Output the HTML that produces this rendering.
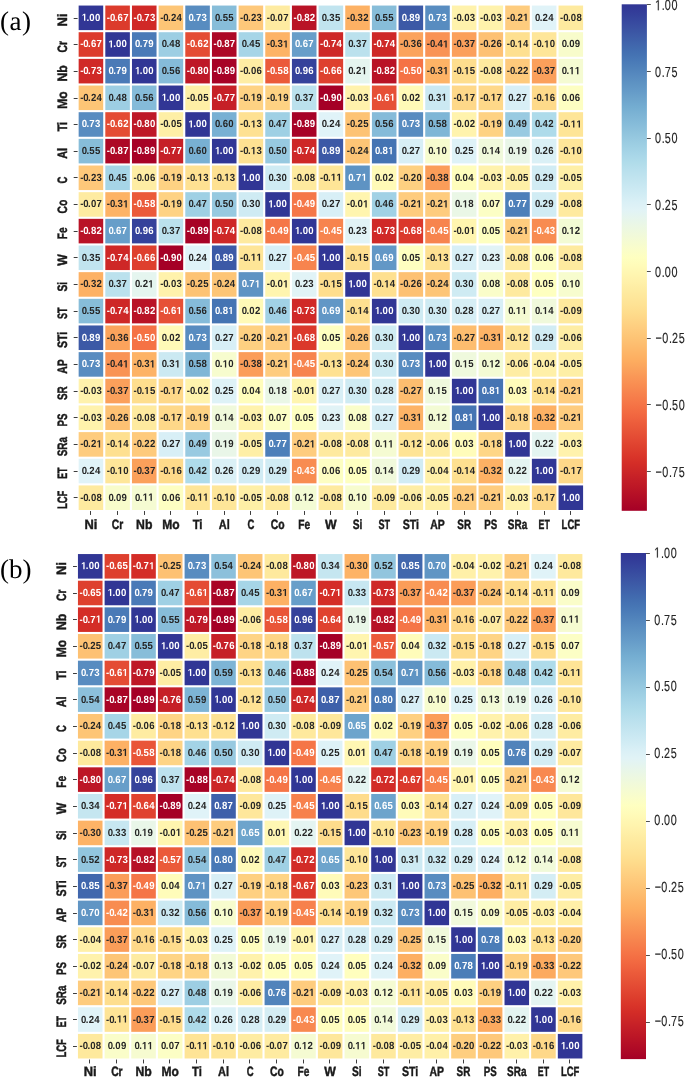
<!DOCTYPE html>
<html><head><meta charset="utf-8"><title>Correlation heatmaps</title>
<style>html,body{margin:0;padding:0;background:#fff;}body{width:685px;height:1077px;overflow:hidden;}svg{display:block;will-change:transform;}</style>
</head><body>
<svg width="685" height="1077" viewBox="0 0 685 1077" text-rendering="geometricPrecision">
<rect width="685" height="1077" fill="#fff"/>
<g><rect x="78.65" y="5.55" width="24.56" height="24.56" fill="#313695"/><rect x="105.31" y="5.55" width="24.56" height="24.56" fill="#dc3b2c"/><rect x="131.97" y="5.55" width="24.56" height="24.56" fill="#d02927"/><rect x="158.63" y="5.55" width="24.56" height="24.56" fill="#fdc576"/><rect x="185.29" y="5.55" width="24.56" height="24.56" fill="#588cc0"/><rect x="211.95" y="5.55" width="24.56" height="24.56" fill="#87bdd9"/><rect x="238.61" y="5.55" width="24.56" height="24.56" fill="#fec87a"/><rect x="265.27" y="5.55" width="24.56" height="24.56" fill="#feeba1"/><rect x="291.93" y="5.55" width="24.56" height="24.56" fill="#b91326"/><rect x="318.59" y="5.55" width="24.56" height="24.56" fill="#c1e4ef"/><rect x="345.25" y="5.55" width="24.56" height="24.56" fill="#fdb164"/><rect x="371.91" y="5.55" width="24.56" height="24.56" fill="#87bdd9"/><rect x="398.57" y="5.55" width="24.56" height="24.56" fill="#3c59a6"/><rect x="425.23" y="5.55" width="24.56" height="24.56" fill="#588cc0"/><rect x="451.89" y="5.55" width="24.56" height="24.56" fill="#fff2ac"/><rect x="478.55" y="5.55" width="24.56" height="24.56" fill="#fff2ac"/><rect x="505.21" y="5.55" width="24.56" height="24.56" fill="#fecc7e"/><rect x="531.87" y="5.55" width="24.56" height="24.56" fill="#e0f3f8"/><rect x="558.53" y="5.55" width="24.56" height="24.56" fill="#feea9f"/><rect x="78.65" y="32.21" width="24.56" height="24.56" fill="#dc3b2c"/><rect x="105.31" y="32.21" width="24.56" height="24.56" fill="#313695"/><rect x="131.97" y="32.21" width="24.56" height="24.56" fill="#4a7ab7"/><rect x="158.63" y="32.21" width="24.56" height="24.56" fill="#9dcee3"/><rect x="185.29" y="32.21" width="24.56" height="24.56" fill="#e44c34"/><rect x="211.95" y="32.21" width="24.56" height="24.56" fill="#ad0826"/><rect x="238.61" y="32.21" width="24.56" height="24.56" fill="#a6d5e7"/><rect x="265.27" y="32.21" width="24.56" height="24.56" fill="#fdb366"/><rect x="291.93" y="32.21" width="24.56" height="24.56" fill="#679ec9"/><rect x="318.59" y="32.21" width="24.56" height="24.56" fill="#ce2827"/><rect x="345.25" y="32.21" width="24.56" height="24.56" fill="#bbe1ed"/><rect x="371.91" y="32.21" width="24.56" height="24.56" fill="#ce2827"/><rect x="398.57" y="32.21" width="24.56" height="24.56" fill="#fba35c"/><rect x="425.23" y="32.21" width="24.56" height="24.56" fill="#f99355"/><rect x="451.89" y="32.21" width="24.56" height="24.56" fill="#fba05b"/><rect x="478.55" y="32.21" width="24.56" height="24.56" fill="#fdc173"/><rect x="505.21" y="32.21" width="24.56" height="24.56" fill="#fee090"/><rect x="531.87" y="32.21" width="24.56" height="24.56" fill="#fee699"/><rect x="558.53" y="32.21" width="24.56" height="24.56" fill="#f8fccb"/><rect x="78.65" y="58.87" width="24.56" height="24.56" fill="#d02927"/><rect x="105.31" y="58.87" width="24.56" height="24.56" fill="#4a7ab7"/><rect x="131.97" y="58.87" width="24.56" height="24.56" fill="#313695"/><rect x="158.63" y="58.87" width="24.56" height="24.56" fill="#85bbd9"/><rect x="185.29" y="58.87" width="24.56" height="24.56" fill="#be1827"/><rect x="211.95" y="58.87" width="24.56" height="24.56" fill="#a70226"/><rect x="238.61" y="58.87" width="24.56" height="24.56" fill="#feeda4"/><rect x="265.27" y="58.87" width="24.56" height="24.56" fill="#eb5a3a"/><rect x="291.93" y="58.87" width="24.56" height="24.56" fill="#35429b"/><rect x="318.59" y="58.87" width="24.56" height="24.56" fill="#de402e"/><rect x="345.25" y="58.87" width="24.56" height="24.56" fill="#e5f5ef"/><rect x="371.91" y="58.87" width="24.56" height="24.56" fill="#b91326"/><rect x="398.57" y="58.87" width="24.56" height="24.56" fill="#f57245"/><rect x="425.23" y="58.87" width="24.56" height="24.56" fill="#fdb366"/><rect x="451.89" y="58.87" width="24.56" height="24.56" fill="#fede8e"/><rect x="478.55" y="58.87" width="24.56" height="24.56" fill="#feea9f"/><rect x="505.21" y="58.87" width="24.56" height="24.56" fill="#feca7c"/><rect x="531.87" y="58.87" width="24.56" height="24.56" fill="#fba05b"/><rect x="558.53" y="58.87" width="24.56" height="24.56" fill="#f5fbd2"/><rect x="78.65" y="85.53" width="24.56" height="24.56" fill="#fdc576"/><rect x="105.31" y="85.53" width="24.56" height="24.56" fill="#9dcee3"/><rect x="131.97" y="85.53" width="24.56" height="24.56" fill="#85bbd9"/><rect x="158.63" y="85.53" width="24.56" height="24.56" fill="#313695"/><rect x="185.29" y="85.53" width="24.56" height="24.56" fill="#feefa6"/><rect x="211.95" y="85.53" width="24.56" height="24.56" fill="#c62027"/><rect x="238.61" y="85.53" width="24.56" height="24.56" fill="#fed283"/><rect x="265.27" y="85.53" width="24.56" height="24.56" fill="#fed283"/><rect x="291.93" y="85.53" width="24.56" height="24.56" fill="#bbe1ed"/><rect x="318.59" y="85.53" width="24.56" height="24.56" fill="#a50026"/><rect x="345.25" y="85.53" width="24.56" height="24.56" fill="#fff2ac"/><rect x="371.91" y="85.53" width="24.56" height="24.56" fill="#e65036"/><rect x="398.57" y="85.53" width="24.56" height="24.56" fill="#fffab7"/><rect x="425.23" y="85.53" width="24.56" height="24.56" fill="#cbe9f2"/><rect x="451.89" y="85.53" width="24.56" height="24.56" fill="#fed889"/><rect x="478.55" y="85.53" width="24.56" height="24.56" fill="#fed889"/><rect x="505.21" y="85.53" width="24.56" height="24.56" fill="#d8eff6"/><rect x="531.87" y="85.53" width="24.56" height="24.56" fill="#feda8a"/><rect x="558.53" y="85.53" width="24.56" height="24.56" fill="#fdfec2"/><rect x="78.65" y="112.19" width="24.56" height="24.56" fill="#588cc0"/><rect x="105.31" y="112.19" width="24.56" height="24.56" fill="#e44c34"/><rect x="131.97" y="112.19" width="24.56" height="24.56" fill="#be1827"/><rect x="158.63" y="112.19" width="24.56" height="24.56" fill="#feefa6"/><rect x="185.29" y="112.19" width="24.56" height="24.56" fill="#313695"/><rect x="211.95" y="112.19" width="24.56" height="24.56" fill="#78b0d3"/><rect x="238.61" y="112.19" width="24.56" height="24.56" fill="#fee192"/><rect x="265.27" y="112.19" width="24.56" height="24.56" fill="#9fd0e4"/><rect x="291.93" y="112.19" width="24.56" height="24.56" fill="#a70226"/><rect x="318.59" y="112.19" width="24.56" height="24.56" fill="#e0f3f8"/><rect x="345.25" y="112.19" width="24.56" height="24.56" fill="#fdc374"/><rect x="371.91" y="112.19" width="24.56" height="24.56" fill="#85bbd9"/><rect x="398.57" y="112.19" width="24.56" height="24.56" fill="#588cc0"/><rect x="425.23" y="112.19" width="24.56" height="24.56" fill="#7fb6d6"/><rect x="451.89" y="112.19" width="24.56" height="24.56" fill="#fff3ad"/><rect x="478.55" y="112.19" width="24.56" height="24.56" fill="#fed283"/><rect x="505.21" y="112.19" width="24.56" height="24.56" fill="#99cae1"/><rect x="531.87" y="112.19" width="24.56" height="24.56" fill="#aedbea"/><rect x="558.53" y="112.19" width="24.56" height="24.56" fill="#fee597"/><rect x="78.65" y="138.85" width="24.56" height="24.56" fill="#87bdd9"/><rect x="105.31" y="138.85" width="24.56" height="24.56" fill="#ad0826"/><rect x="131.97" y="138.85" width="24.56" height="24.56" fill="#a70226"/><rect x="158.63" y="138.85" width="24.56" height="24.56" fill="#c62027"/><rect x="185.29" y="138.85" width="24.56" height="24.56" fill="#78b0d3"/><rect x="211.95" y="138.85" width="24.56" height="24.56" fill="#313695"/><rect x="238.61" y="138.85" width="24.56" height="24.56" fill="#fee192"/><rect x="265.27" y="138.85" width="24.56" height="24.56" fill="#97c9e0"/><rect x="291.93" y="138.85" width="24.56" height="24.56" fill="#ce2827"/><rect x="318.59" y="138.85" width="24.56" height="24.56" fill="#3c59a6"/><rect x="345.25" y="138.85" width="24.56" height="24.56" fill="#fdc576"/><rect x="371.91" y="138.85" width="24.56" height="24.56" fill="#4574b3"/><rect x="398.57" y="138.85" width="24.56" height="24.56" fill="#d8eff6"/><rect x="425.23" y="138.85" width="24.56" height="24.56" fill="#f7fcce"/><rect x="451.89" y="138.85" width="24.56" height="24.56" fill="#def2f7"/><rect x="478.55" y="138.85" width="24.56" height="24.56" fill="#f0f9db"/><rect x="505.21" y="138.85" width="24.56" height="24.56" fill="#e9f6e8"/><rect x="531.87" y="138.85" width="24.56" height="24.56" fill="#daf0f6"/><rect x="558.53" y="138.85" width="24.56" height="24.56" fill="#fee699"/><rect x="78.65" y="165.51" width="24.56" height="24.56" fill="#fec87a"/><rect x="105.31" y="165.51" width="24.56" height="24.56" fill="#a6d5e7"/><rect x="131.97" y="165.51" width="24.56" height="24.56" fill="#feeda4"/><rect x="158.63" y="165.51" width="24.56" height="24.56" fill="#fed283"/><rect x="185.29" y="165.51" width="24.56" height="24.56" fill="#fee192"/><rect x="211.95" y="165.51" width="24.56" height="24.56" fill="#fee192"/><rect x="238.61" y="165.51" width="24.56" height="24.56" fill="#313695"/><rect x="265.27" y="165.51" width="24.56" height="24.56" fill="#cfebf3"/><rect x="291.93" y="165.51" width="24.56" height="24.56" fill="#feea9f"/><rect x="318.59" y="165.51" width="24.56" height="24.56" fill="#fee597"/><rect x="345.25" y="165.51" width="24.56" height="24.56" fill="#5e93c3"/><rect x="371.91" y="165.51" width="24.56" height="24.56" fill="#fffab7"/><rect x="398.57" y="165.51" width="24.56" height="24.56" fill="#fed081"/><rect x="425.23" y="165.51" width="24.56" height="24.56" fill="#fb9d59"/><rect x="451.89" y="165.51" width="24.56" height="24.56" fill="#fffdbc"/><rect x="478.55" y="165.51" width="24.56" height="24.56" fill="#fff2ac"/><rect x="505.21" y="165.51" width="24.56" height="24.56" fill="#feefa6"/><rect x="531.87" y="165.51" width="24.56" height="24.56" fill="#d1ecf4"/><rect x="558.53" y="165.51" width="24.56" height="24.56" fill="#feefa6"/><rect x="78.65" y="192.17" width="24.56" height="24.56" fill="#feeba1"/><rect x="105.31" y="192.17" width="24.56" height="24.56" fill="#fdb366"/><rect x="131.97" y="192.17" width="24.56" height="24.56" fill="#eb5a3a"/><rect x="158.63" y="192.17" width="24.56" height="24.56" fill="#fed283"/><rect x="185.29" y="192.17" width="24.56" height="24.56" fill="#9fd0e4"/><rect x="211.95" y="192.17" width="24.56" height="24.56" fill="#97c9e0"/><rect x="238.61" y="192.17" width="24.56" height="24.56" fill="#cfebf3"/><rect x="265.27" y="192.17" width="24.56" height="24.56" fill="#313695"/><rect x="291.93" y="192.17" width="24.56" height="24.56" fill="#f57748"/><rect x="318.59" y="192.17" width="24.56" height="24.56" fill="#d8eff6"/><rect x="345.25" y="192.17" width="24.56" height="24.56" fill="#fff5af"/><rect x="371.91" y="192.17" width="24.56" height="24.56" fill="#a1d1e5"/><rect x="398.57" y="192.17" width="24.56" height="24.56" fill="#fecc7e"/><rect x="425.23" y="192.17" width="24.56" height="24.56" fill="#fecc7e"/><rect x="451.89" y="192.17" width="24.56" height="24.56" fill="#eaf7e6"/><rect x="478.55" y="192.17" width="24.56" height="24.56" fill="#fcfec5"/><rect x="505.21" y="192.17" width="24.56" height="24.56" fill="#4d7fb9"/><rect x="531.87" y="192.17" width="24.56" height="24.56" fill="#d1ecf4"/><rect x="558.53" y="192.17" width="24.56" height="24.56" fill="#feea9f"/><rect x="78.65" y="218.83" width="24.56" height="24.56" fill="#b91326"/><rect x="105.31" y="218.83" width="24.56" height="24.56" fill="#679ec9"/><rect x="131.97" y="218.83" width="24.56" height="24.56" fill="#35429b"/><rect x="158.63" y="218.83" width="24.56" height="24.56" fill="#bbe1ed"/><rect x="185.29" y="218.83" width="24.56" height="24.56" fill="#a70226"/><rect x="211.95" y="218.83" width="24.56" height="24.56" fill="#ce2827"/><rect x="238.61" y="218.83" width="24.56" height="24.56" fill="#feea9f"/><rect x="265.27" y="218.83" width="24.56" height="24.56" fill="#f57748"/><rect x="291.93" y="218.83" width="24.56" height="24.56" fill="#313695"/><rect x="318.59" y="218.83" width="24.56" height="24.56" fill="#f7844e"/><rect x="345.25" y="218.83" width="24.56" height="24.56" fill="#e1f3f6"/><rect x="371.91" y="218.83" width="24.56" height="24.56" fill="#d02927"/><rect x="398.57" y="218.83" width="24.56" height="24.56" fill="#db382b"/><rect x="425.23" y="218.83" width="24.56" height="24.56" fill="#f7844e"/><rect x="451.89" y="218.83" width="24.56" height="24.56" fill="#fff5af"/><rect x="478.55" y="218.83" width="24.56" height="24.56" fill="#feffc0"/><rect x="505.21" y="218.83" width="24.56" height="24.56" fill="#fecc7e"/><rect x="531.87" y="218.83" width="24.56" height="24.56" fill="#f88c51"/><rect x="558.53" y="218.83" width="24.56" height="24.56" fill="#f3fbd4"/><rect x="78.65" y="245.49" width="24.56" height="24.56" fill="#c1e4ef"/><rect x="105.31" y="245.49" width="24.56" height="24.56" fill="#ce2827"/><rect x="131.97" y="245.49" width="24.56" height="24.56" fill="#de402e"/><rect x="158.63" y="245.49" width="24.56" height="24.56" fill="#a50026"/><rect x="185.29" y="245.49" width="24.56" height="24.56" fill="#e0f3f8"/><rect x="211.95" y="245.49" width="24.56" height="24.56" fill="#3c59a6"/><rect x="238.61" y="245.49" width="24.56" height="24.56" fill="#fee597"/><rect x="265.27" y="245.49" width="24.56" height="24.56" fill="#d8eff6"/><rect x="291.93" y="245.49" width="24.56" height="24.56" fill="#f7844e"/><rect x="318.59" y="245.49" width="24.56" height="24.56" fill="#313695"/><rect x="345.25" y="245.49" width="24.56" height="24.56" fill="#fede8e"/><rect x="371.91" y="245.49" width="24.56" height="24.56" fill="#6297c6"/><rect x="398.57" y="245.49" width="24.56" height="24.56" fill="#feffc0"/><rect x="425.23" y="245.49" width="24.56" height="24.56" fill="#fee192"/><rect x="451.89" y="245.49" width="24.56" height="24.56" fill="#d8eff6"/><rect x="478.55" y="245.49" width="24.56" height="24.56" fill="#e1f3f6"/><rect x="505.21" y="245.49" width="24.56" height="24.56" fill="#feea9f"/><rect x="531.87" y="245.49" width="24.56" height="24.56" fill="#fdfec2"/><rect x="558.53" y="245.49" width="24.56" height="24.56" fill="#feea9f"/><rect x="78.65" y="272.15" width="24.56" height="24.56" fill="#fdb164"/><rect x="105.31" y="272.15" width="24.56" height="24.56" fill="#bbe1ed"/><rect x="131.97" y="272.15" width="24.56" height="24.56" fill="#e5f5ef"/><rect x="158.63" y="272.15" width="24.56" height="24.56" fill="#fff2ac"/><rect x="185.29" y="272.15" width="24.56" height="24.56" fill="#fdc374"/><rect x="211.95" y="272.15" width="24.56" height="24.56" fill="#fdc576"/><rect x="238.61" y="272.15" width="24.56" height="24.56" fill="#5e93c3"/><rect x="265.27" y="272.15" width="24.56" height="24.56" fill="#fff5af"/><rect x="291.93" y="272.15" width="24.56" height="24.56" fill="#e1f3f6"/><rect x="318.59" y="272.15" width="24.56" height="24.56" fill="#fede8e"/><rect x="345.25" y="272.15" width="24.56" height="24.56" fill="#313695"/><rect x="371.91" y="272.15" width="24.56" height="24.56" fill="#fee090"/><rect x="398.57" y="272.15" width="24.56" height="24.56" fill="#fdc173"/><rect x="425.23" y="272.15" width="24.56" height="24.56" fill="#fdc576"/><rect x="451.89" y="272.15" width="24.56" height="24.56" fill="#cfebf3"/><rect x="478.55" y="272.15" width="24.56" height="24.56" fill="#fafdc9"/><rect x="505.21" y="272.15" width="24.56" height="24.56" fill="#feea9f"/><rect x="531.87" y="272.15" width="24.56" height="24.56" fill="#feffc0"/><rect x="558.53" y="272.15" width="24.56" height="24.56" fill="#f7fcce"/><rect x="78.65" y="298.81" width="24.56" height="24.56" fill="#87bdd9"/><rect x="105.31" y="298.81" width="24.56" height="24.56" fill="#ce2827"/><rect x="131.97" y="298.81" width="24.56" height="24.56" fill="#b91326"/><rect x="158.63" y="298.81" width="24.56" height="24.56" fill="#e65036"/><rect x="185.29" y="298.81" width="24.56" height="24.56" fill="#85bbd9"/><rect x="211.95" y="298.81" width="24.56" height="24.56" fill="#4574b3"/><rect x="238.61" y="298.81" width="24.56" height="24.56" fill="#fffab7"/><rect x="265.27" y="298.81" width="24.56" height="24.56" fill="#a1d1e5"/><rect x="291.93" y="298.81" width="24.56" height="24.56" fill="#d02927"/><rect x="318.59" y="298.81" width="24.56" height="24.56" fill="#6297c6"/><rect x="345.25" y="298.81" width="24.56" height="24.56" fill="#fee090"/><rect x="371.91" y="298.81" width="24.56" height="24.56" fill="#313695"/><rect x="398.57" y="298.81" width="24.56" height="24.56" fill="#cfebf3"/><rect x="425.23" y="298.81" width="24.56" height="24.56" fill="#cfebf3"/><rect x="451.89" y="298.81" width="24.56" height="24.56" fill="#d6eef5"/><rect x="478.55" y="298.81" width="24.56" height="24.56" fill="#d8eff6"/><rect x="505.21" y="298.81" width="24.56" height="24.56" fill="#f5fbd2"/><rect x="531.87" y="298.81" width="24.56" height="24.56" fill="#f0f9db"/><rect x="558.53" y="298.81" width="24.56" height="24.56" fill="#fee99d"/><rect x="78.65" y="325.47" width="24.56" height="24.56" fill="#3c59a6"/><rect x="105.31" y="325.47" width="24.56" height="24.56" fill="#fba35c"/><rect x="131.97" y="325.47" width="24.56" height="24.56" fill="#f57245"/><rect x="158.63" y="325.47" width="24.56" height="24.56" fill="#fffab7"/><rect x="185.29" y="325.47" width="24.56" height="24.56" fill="#588cc0"/><rect x="211.95" y="325.47" width="24.56" height="24.56" fill="#d8eff6"/><rect x="238.61" y="325.47" width="24.56" height="24.56" fill="#fed081"/><rect x="265.27" y="325.47" width="24.56" height="24.56" fill="#fecc7e"/><rect x="291.93" y="325.47" width="24.56" height="24.56" fill="#db382b"/><rect x="318.59" y="325.47" width="24.56" height="24.56" fill="#feffc0"/><rect x="345.25" y="325.47" width="24.56" height="24.56" fill="#fdc173"/><rect x="371.91" y="325.47" width="24.56" height="24.56" fill="#cfebf3"/><rect x="398.57" y="325.47" width="24.56" height="24.56" fill="#313695"/><rect x="425.23" y="325.47" width="24.56" height="24.56" fill="#588cc0"/><rect x="451.89" y="325.47" width="24.56" height="24.56" fill="#fdbd6f"/><rect x="478.55" y="325.47" width="24.56" height="24.56" fill="#fdb366"/><rect x="505.21" y="325.47" width="24.56" height="24.56" fill="#fee496"/><rect x="531.87" y="325.47" width="24.56" height="24.56" fill="#d1ecf4"/><rect x="558.53" y="325.47" width="24.56" height="24.56" fill="#feeda4"/><rect x="78.65" y="352.13" width="24.56" height="24.56" fill="#588cc0"/><rect x="105.31" y="352.13" width="24.56" height="24.56" fill="#f99355"/><rect x="131.97" y="352.13" width="24.56" height="24.56" fill="#fdb366"/><rect x="158.63" y="352.13" width="24.56" height="24.56" fill="#cbe9f2"/><rect x="185.29" y="352.13" width="24.56" height="24.56" fill="#7fb6d6"/><rect x="211.95" y="352.13" width="24.56" height="24.56" fill="#f7fcce"/><rect x="238.61" y="352.13" width="24.56" height="24.56" fill="#fb9d59"/><rect x="265.27" y="352.13" width="24.56" height="24.56" fill="#fecc7e"/><rect x="291.93" y="352.13" width="24.56" height="24.56" fill="#f7844e"/><rect x="318.59" y="352.13" width="24.56" height="24.56" fill="#fee192"/><rect x="345.25" y="352.13" width="24.56" height="24.56" fill="#fdc576"/><rect x="371.91" y="352.13" width="24.56" height="24.56" fill="#cfebf3"/><rect x="398.57" y="352.13" width="24.56" height="24.56" fill="#588cc0"/><rect x="425.23" y="352.13" width="24.56" height="24.56" fill="#313695"/><rect x="451.89" y="352.13" width="24.56" height="24.56" fill="#eff9dd"/><rect x="478.55" y="352.13" width="24.56" height="24.56" fill="#f3fbd4"/><rect x="505.21" y="352.13" width="24.56" height="24.56" fill="#feeda4"/><rect x="531.87" y="352.13" width="24.56" height="24.56" fill="#fff0a8"/><rect x="558.53" y="352.13" width="24.56" height="24.56" fill="#feefa6"/><rect x="78.65" y="378.79" width="24.56" height="24.56" fill="#fff2ac"/><rect x="105.31" y="378.79" width="24.56" height="24.56" fill="#fba05b"/><rect x="131.97" y="378.79" width="24.56" height="24.56" fill="#fede8e"/><rect x="158.63" y="378.79" width="24.56" height="24.56" fill="#fed889"/><rect x="185.29" y="378.79" width="24.56" height="24.56" fill="#fff3ad"/><rect x="211.95" y="378.79" width="24.56" height="24.56" fill="#def2f7"/><rect x="238.61" y="378.79" width="24.56" height="24.56" fill="#fffdbc"/><rect x="265.27" y="378.79" width="24.56" height="24.56" fill="#eaf7e6"/><rect x="291.93" y="378.79" width="24.56" height="24.56" fill="#fff5af"/><rect x="318.59" y="378.79" width="24.56" height="24.56" fill="#d8eff6"/><rect x="345.25" y="378.79" width="24.56" height="24.56" fill="#cfebf3"/><rect x="371.91" y="378.79" width="24.56" height="24.56" fill="#d6eef5"/><rect x="398.57" y="378.79" width="24.56" height="24.56" fill="#fdbd6f"/><rect x="425.23" y="378.79" width="24.56" height="24.56" fill="#eff9dd"/><rect x="451.89" y="378.79" width="24.56" height="24.56" fill="#313695"/><rect x="478.55" y="378.79" width="24.56" height="24.56" fill="#4574b3"/><rect x="505.21" y="378.79" width="24.56" height="24.56" fill="#fffcba"/><rect x="531.87" y="378.79" width="24.56" height="24.56" fill="#fee090"/><rect x="558.53" y="378.79" width="24.56" height="24.56" fill="#fecc7e"/><rect x="78.65" y="405.45" width="24.56" height="24.56" fill="#fff2ac"/><rect x="105.31" y="405.45" width="24.56" height="24.56" fill="#fdc173"/><rect x="131.97" y="405.45" width="24.56" height="24.56" fill="#feea9f"/><rect x="158.63" y="405.45" width="24.56" height="24.56" fill="#fed889"/><rect x="185.29" y="405.45" width="24.56" height="24.56" fill="#fed283"/><rect x="211.95" y="405.45" width="24.56" height="24.56" fill="#f0f9db"/><rect x="238.61" y="405.45" width="24.56" height="24.56" fill="#fff2ac"/><rect x="265.27" y="405.45" width="24.56" height="24.56" fill="#fcfec5"/><rect x="291.93" y="405.45" width="24.56" height="24.56" fill="#feffc0"/><rect x="318.59" y="405.45" width="24.56" height="24.56" fill="#e1f3f6"/><rect x="345.25" y="405.45" width="24.56" height="24.56" fill="#fafdc9"/><rect x="371.91" y="405.45" width="24.56" height="24.56" fill="#d8eff6"/><rect x="398.57" y="405.45" width="24.56" height="24.56" fill="#fdb366"/><rect x="425.23" y="405.45" width="24.56" height="24.56" fill="#f3fbd4"/><rect x="451.89" y="405.45" width="24.56" height="24.56" fill="#4574b3"/><rect x="478.55" y="405.45" width="24.56" height="24.56" fill="#313695"/><rect x="505.21" y="405.45" width="24.56" height="24.56" fill="#fed687"/><rect x="531.87" y="405.45" width="24.56" height="24.56" fill="#fdb164"/><rect x="558.53" y="405.45" width="24.56" height="24.56" fill="#fecc7e"/><rect x="78.65" y="432.11" width="24.56" height="24.56" fill="#fecc7e"/><rect x="105.31" y="432.11" width="24.56" height="24.56" fill="#fee090"/><rect x="131.97" y="432.11" width="24.56" height="24.56" fill="#feca7c"/><rect x="158.63" y="432.11" width="24.56" height="24.56" fill="#d8eff6"/><rect x="185.29" y="432.11" width="24.56" height="24.56" fill="#99cae1"/><rect x="211.95" y="432.11" width="24.56" height="24.56" fill="#e9f6e8"/><rect x="238.61" y="432.11" width="24.56" height="24.56" fill="#feefa6"/><rect x="265.27" y="432.11" width="24.56" height="24.56" fill="#4d7fb9"/><rect x="291.93" y="432.11" width="24.56" height="24.56" fill="#fecc7e"/><rect x="318.59" y="432.11" width="24.56" height="24.56" fill="#feea9f"/><rect x="345.25" y="432.11" width="24.56" height="24.56" fill="#feea9f"/><rect x="371.91" y="432.11" width="24.56" height="24.56" fill="#f5fbd2"/><rect x="398.57" y="432.11" width="24.56" height="24.56" fill="#fee496"/><rect x="425.23" y="432.11" width="24.56" height="24.56" fill="#feeda4"/><rect x="451.89" y="432.11" width="24.56" height="24.56" fill="#fffcba"/><rect x="478.55" y="432.11" width="24.56" height="24.56" fill="#fed687"/><rect x="505.21" y="432.11" width="24.56" height="24.56" fill="#313695"/><rect x="531.87" y="432.11" width="24.56" height="24.56" fill="#e4f4f1"/><rect x="558.53" y="432.11" width="24.56" height="24.56" fill="#fff2ac"/><rect x="78.65" y="458.77" width="24.56" height="24.56" fill="#e0f3f8"/><rect x="105.31" y="458.77" width="24.56" height="24.56" fill="#fee699"/><rect x="131.97" y="458.77" width="24.56" height="24.56" fill="#fba05b"/><rect x="158.63" y="458.77" width="24.56" height="24.56" fill="#feda8a"/><rect x="185.29" y="458.77" width="24.56" height="24.56" fill="#aedbea"/><rect x="211.95" y="458.77" width="24.56" height="24.56" fill="#daf0f6"/><rect x="238.61" y="458.77" width="24.56" height="24.56" fill="#d1ecf4"/><rect x="265.27" y="458.77" width="24.56" height="24.56" fill="#d1ecf4"/><rect x="291.93" y="458.77" width="24.56" height="24.56" fill="#f88c51"/><rect x="318.59" y="458.77" width="24.56" height="24.56" fill="#fdfec2"/><rect x="345.25" y="458.77" width="24.56" height="24.56" fill="#feffc0"/><rect x="371.91" y="458.77" width="24.56" height="24.56" fill="#f0f9db"/><rect x="398.57" y="458.77" width="24.56" height="24.56" fill="#d1ecf4"/><rect x="425.23" y="458.77" width="24.56" height="24.56" fill="#fff0a8"/><rect x="451.89" y="458.77" width="24.56" height="24.56" fill="#fee090"/><rect x="478.55" y="458.77" width="24.56" height="24.56" fill="#fdb164"/><rect x="505.21" y="458.77" width="24.56" height="24.56" fill="#e4f4f1"/><rect x="531.87" y="458.77" width="24.56" height="24.56" fill="#313695"/><rect x="558.53" y="458.77" width="24.56" height="24.56" fill="#fed889"/><rect x="78.65" y="485.43" width="24.56" height="24.56" fill="#feea9f"/><rect x="105.31" y="485.43" width="24.56" height="24.56" fill="#f8fccb"/><rect x="131.97" y="485.43" width="24.56" height="24.56" fill="#f5fbd2"/><rect x="158.63" y="485.43" width="24.56" height="24.56" fill="#fdfec2"/><rect x="185.29" y="485.43" width="24.56" height="24.56" fill="#fee597"/><rect x="211.95" y="485.43" width="24.56" height="24.56" fill="#fee699"/><rect x="238.61" y="485.43" width="24.56" height="24.56" fill="#feefa6"/><rect x="265.27" y="485.43" width="24.56" height="24.56" fill="#feea9f"/><rect x="291.93" y="485.43" width="24.56" height="24.56" fill="#f3fbd4"/><rect x="318.59" y="485.43" width="24.56" height="24.56" fill="#feea9f"/><rect x="345.25" y="485.43" width="24.56" height="24.56" fill="#f7fcce"/><rect x="371.91" y="485.43" width="24.56" height="24.56" fill="#fee99d"/><rect x="398.57" y="485.43" width="24.56" height="24.56" fill="#feeda4"/><rect x="425.23" y="485.43" width="24.56" height="24.56" fill="#feefa6"/><rect x="451.89" y="485.43" width="24.56" height="24.56" fill="#fecc7e"/><rect x="478.55" y="485.43" width="24.56" height="24.56" fill="#fecc7e"/><rect x="505.21" y="485.43" width="24.56" height="24.56" fill="#fff2ac"/><rect x="531.87" y="485.43" width="24.56" height="24.56" fill="#fed889"/><rect x="558.53" y="485.43" width="24.56" height="24.56" fill="#313695"/></g>
<g font-family="Liberation Sans, sans-serif" font-weight="bold" font-size="10.3"><text transform="translate(81.76,20.83) scale(0.932,1)" x="0.00 5.10 8.15 14.16" fill="#ffffff"> .00</text><path d="M478 0V1170L140 959V1180L493 1409H759V0Z" transform="translate(81.76,20.83) scale(0.004687,-0.005029)" fill="#ffffff"/><text transform="translate(106.82,20.83) scale(0.932,1)" x="0.00 3.43 8.53 11.59 17.60" fill="#ffffff">-0.67</text><text transform="translate(133.48,20.83) scale(0.932,1)" x="0.00 3.43 8.53 11.59 17.60" fill="#ffffff">-0.73</text><text transform="translate(160.14,20.83) scale(0.932,1)" x="0.00 3.43 8.53 11.59 17.60" fill="#262626">-0.24</text><text transform="translate(188.40,20.83) scale(0.932,1)" x="0.00 5.10 8.15 14.16" fill="#ffffff">0.73</text><text transform="translate(215.06,20.83) scale(0.932,1)" x="0.00 5.10 8.15 14.16" fill="#262626">0.55</text><text transform="translate(240.12,20.83) scale(0.932,1)" x="0.00 3.43 8.53 11.59 17.60" fill="#262626">-0.23</text><text transform="translate(266.78,20.83) scale(0.932,1)" x="0.00 3.43 8.53 11.59 17.60" fill="#262626">-0.07</text><text transform="translate(293.44,20.83) scale(0.932,1)" x="0.00 3.43 8.53 11.59 17.60" fill="#ffffff">-0.82</text><text transform="translate(321.70,20.83) scale(0.932,1)" x="0.00 5.10 8.15 14.16" fill="#262626">0.35</text><text transform="translate(346.76,20.83) scale(0.932,1)" x="0.00 3.43 8.53 11.59 17.60" fill="#262626">-0.32</text><text transform="translate(375.02,20.83) scale(0.932,1)" x="0.00 5.10 8.15 14.16" fill="#262626">0.55</text><text transform="translate(401.68,20.83) scale(0.932,1)" x="0.00 5.10 8.15 14.16" fill="#ffffff">0.89</text><text transform="translate(428.34,20.83) scale(0.932,1)" x="0.00 5.10 8.15 14.16" fill="#ffffff">0.73</text><text transform="translate(453.40,20.83) scale(0.932,1)" x="0.00 3.43 8.53 11.59 17.60" fill="#262626">-0.03</text><text transform="translate(480.06,20.83) scale(0.932,1)" x="0.00 3.43 8.53 11.59 17.60" fill="#262626">-0.03</text><text transform="translate(506.72,20.83) scale(0.932,1)" x="0.00 3.43 8.53 11.59 17.60" fill="#262626">-0.2 </text><path d="M478 0V1170L140 959V1180L493 1409H759V0Z" transform="translate(523.12,20.83) scale(0.004687,-0.005029)" fill="#262626"/><text transform="translate(534.98,20.83) scale(0.932,1)" x="0.00 5.10 8.15 14.16" fill="#262626">0.24</text><text transform="translate(560.04,20.83) scale(0.932,1)" x="0.00 3.43 8.53 11.59 17.60" fill="#262626">-0.08</text><text transform="translate(80.16,47.49) scale(0.932,1)" x="0.00 3.43 8.53 11.59 17.60" fill="#ffffff">-0.67</text><text transform="translate(108.42,47.49) scale(0.932,1)" x="0.00 5.10 8.15 14.16" fill="#ffffff"> .00</text><path d="M478 0V1170L140 959V1180L493 1409H759V0Z" transform="translate(108.42,47.49) scale(0.004687,-0.005029)" fill="#ffffff"/><text transform="translate(135.08,47.49) scale(0.932,1)" x="0.00 5.10 8.15 14.16" fill="#ffffff">0.79</text><text transform="translate(161.74,47.49) scale(0.932,1)" x="0.00 5.10 8.15 14.16" fill="#262626">0.48</text><text transform="translate(186.80,47.49) scale(0.932,1)" x="0.00 3.43 8.53 11.59 17.60" fill="#ffffff">-0.62</text><text transform="translate(213.46,47.49) scale(0.932,1)" x="0.00 3.43 8.53 11.59 17.60" fill="#ffffff">-0.87</text><text transform="translate(241.72,47.49) scale(0.932,1)" x="0.00 5.10 8.15 14.16" fill="#262626">0.45</text><text transform="translate(266.78,47.49) scale(0.932,1)" x="0.00 3.43 8.53 11.59 17.60" fill="#262626">-0.3 </text><path d="M478 0V1170L140 959V1180L493 1409H759V0Z" transform="translate(283.18,47.49) scale(0.004687,-0.005029)" fill="#262626"/><text transform="translate(295.04,47.49) scale(0.932,1)" x="0.00 5.10 8.15 14.16" fill="#ffffff">0.67</text><text transform="translate(320.10,47.49) scale(0.932,1)" x="0.00 3.43 8.53 11.59 17.60" fill="#ffffff">-0.74</text><text transform="translate(348.36,47.49) scale(0.932,1)" x="0.00 5.10 8.15 14.16" fill="#262626">0.37</text><text transform="translate(373.42,47.49) scale(0.932,1)" x="0.00 3.43 8.53 11.59 17.60" fill="#ffffff">-0.74</text><text transform="translate(400.08,47.49) scale(0.932,1)" x="0.00 3.43 8.53 11.59 17.60" fill="#262626">-0.36</text><text transform="translate(426.74,47.49) scale(0.932,1)" x="0.00 3.43 8.53 11.59 17.60" fill="#262626">-0.4 </text><path d="M478 0V1170L140 959V1180L493 1409H759V0Z" transform="translate(443.14,47.49) scale(0.004687,-0.005029)" fill="#262626"/><text transform="translate(453.40,47.49) scale(0.932,1)" x="0.00 3.43 8.53 11.59 17.60" fill="#262626">-0.37</text><text transform="translate(480.06,47.49) scale(0.932,1)" x="0.00 3.43 8.53 11.59 17.60" fill="#262626">-0.26</text><text transform="translate(506.72,47.49) scale(0.932,1)" x="0.00 3.43 8.53 11.59 17.60" fill="#262626">-0. 4</text><path d="M478 0V1170L140 959V1180L493 1409H759V0Z" transform="translate(517.52,47.49) scale(0.004687,-0.005029)" fill="#262626"/><text transform="translate(533.38,47.49) scale(0.932,1)" x="0.00 3.43 8.53 11.59 17.60" fill="#262626">-0. 0</text><path d="M478 0V1170L140 959V1180L493 1409H759V0Z" transform="translate(544.18,47.49) scale(0.004687,-0.005029)" fill="#262626"/><text transform="translate(561.64,47.49) scale(0.932,1)" x="0.00 5.10 8.15 14.16" fill="#262626">0.09</text><text transform="translate(80.16,74.15) scale(0.932,1)" x="0.00 3.43 8.53 11.59 17.60" fill="#ffffff">-0.73</text><text transform="translate(108.42,74.15) scale(0.932,1)" x="0.00 5.10 8.15 14.16" fill="#ffffff">0.79</text><text transform="translate(135.08,74.15) scale(0.932,1)" x="0.00 5.10 8.15 14.16" fill="#ffffff"> .00</text><path d="M478 0V1170L140 959V1180L493 1409H759V0Z" transform="translate(135.08,74.15) scale(0.004687,-0.005029)" fill="#ffffff"/><text transform="translate(161.74,74.15) scale(0.932,1)" x="0.00 5.10 8.15 14.16" fill="#262626">0.56</text><text transform="translate(186.80,74.15) scale(0.932,1)" x="0.00 3.43 8.53 11.59 17.60" fill="#ffffff">-0.80</text><text transform="translate(213.46,74.15) scale(0.932,1)" x="0.00 3.43 8.53 11.59 17.60" fill="#ffffff">-0.89</text><text transform="translate(240.12,74.15) scale(0.932,1)" x="0.00 3.43 8.53 11.59 17.60" fill="#262626">-0.06</text><text transform="translate(266.78,74.15) scale(0.932,1)" x="0.00 3.43 8.53 11.59 17.60" fill="#ffffff">-0.58</text><text transform="translate(295.04,74.15) scale(0.932,1)" x="0.00 5.10 8.15 14.16" fill="#ffffff">0.96</text><text transform="translate(320.10,74.15) scale(0.932,1)" x="0.00 3.43 8.53 11.59 17.60" fill="#ffffff">-0.66</text><text transform="translate(348.36,74.15) scale(0.932,1)" x="0.00 5.10 8.15 14.16" fill="#262626">0.2 </text><path d="M478 0V1170L140 959V1180L493 1409H759V0Z" transform="translate(361.56,74.15) scale(0.004687,-0.005029)" fill="#262626"/><text transform="translate(373.42,74.15) scale(0.932,1)" x="0.00 3.43 8.53 11.59 17.60" fill="#ffffff">-0.82</text><text transform="translate(400.08,74.15) scale(0.932,1)" x="0.00 3.43 8.53 11.59 17.60" fill="#ffffff">-0.50</text><text transform="translate(426.74,74.15) scale(0.932,1)" x="0.00 3.43 8.53 11.59 17.60" fill="#262626">-0.3 </text><path d="M478 0V1170L140 959V1180L493 1409H759V0Z" transform="translate(443.14,74.15) scale(0.004687,-0.005029)" fill="#262626"/><text transform="translate(453.40,74.15) scale(0.932,1)" x="0.00 3.43 8.53 11.59 17.60" fill="#262626">-0. 5</text><path d="M478 0V1170L140 959V1180L493 1409H759V0Z" transform="translate(464.20,74.15) scale(0.004687,-0.005029)" fill="#262626"/><text transform="translate(480.06,74.15) scale(0.932,1)" x="0.00 3.43 8.53 11.59 17.60" fill="#262626">-0.08</text><text transform="translate(506.72,74.15) scale(0.932,1)" x="0.00 3.43 8.53 11.59 17.60" fill="#262626">-0.22</text><text transform="translate(533.38,74.15) scale(0.932,1)" x="0.00 3.43 8.53 11.59 17.60" fill="#262626">-0.37</text><text transform="translate(561.64,74.15) scale(0.932,1)" x="0.00 5.10 8.15 14.16" fill="#262626">0.  </text><path d="M478 0V1170L140 959V1180L493 1409H759V0Z" transform="translate(569.24,74.15) scale(0.004687,-0.005029)" fill="#262626"/><path d="M478 0V1170L140 959V1180L493 1409H759V0Z" transform="translate(574.84,74.15) scale(0.004687,-0.005029)" fill="#262626"/><text transform="translate(80.16,100.81) scale(0.932,1)" x="0.00 3.43 8.53 11.59 17.60" fill="#262626">-0.24</text><text transform="translate(108.42,100.81) scale(0.932,1)" x="0.00 5.10 8.15 14.16" fill="#262626">0.48</text><text transform="translate(135.08,100.81) scale(0.932,1)" x="0.00 5.10 8.15 14.16" fill="#262626">0.56</text><text transform="translate(161.74,100.81) scale(0.932,1)" x="0.00 5.10 8.15 14.16" fill="#ffffff"> .00</text><path d="M478 0V1170L140 959V1180L493 1409H759V0Z" transform="translate(161.74,100.81) scale(0.004687,-0.005029)" fill="#ffffff"/><text transform="translate(186.80,100.81) scale(0.932,1)" x="0.00 3.43 8.53 11.59 17.60" fill="#262626">-0.05</text><text transform="translate(213.46,100.81) scale(0.932,1)" x="0.00 3.43 8.53 11.59 17.60" fill="#ffffff">-0.77</text><text transform="translate(240.12,100.81) scale(0.932,1)" x="0.00 3.43 8.53 11.59 17.60" fill="#262626">-0. 9</text><path d="M478 0V1170L140 959V1180L493 1409H759V0Z" transform="translate(250.92,100.81) scale(0.004687,-0.005029)" fill="#262626"/><text transform="translate(266.78,100.81) scale(0.932,1)" x="0.00 3.43 8.53 11.59 17.60" fill="#262626">-0. 9</text><path d="M478 0V1170L140 959V1180L493 1409H759V0Z" transform="translate(277.58,100.81) scale(0.004687,-0.005029)" fill="#262626"/><text transform="translate(295.04,100.81) scale(0.932,1)" x="0.00 5.10 8.15 14.16" fill="#262626">0.37</text><text transform="translate(320.10,100.81) scale(0.932,1)" x="0.00 3.43 8.53 11.59 17.60" fill="#ffffff">-0.90</text><text transform="translate(346.76,100.81) scale(0.932,1)" x="0.00 3.43 8.53 11.59 17.60" fill="#262626">-0.03</text><text transform="translate(373.42,100.81) scale(0.932,1)" x="0.00 3.43 8.53 11.59 17.60" fill="#ffffff">-0.6 </text><path d="M478 0V1170L140 959V1180L493 1409H759V0Z" transform="translate(389.82,100.81) scale(0.004687,-0.005029)" fill="#ffffff"/><text transform="translate(401.68,100.81) scale(0.932,1)" x="0.00 5.10 8.15 14.16" fill="#262626">0.02</text><text transform="translate(428.34,100.81) scale(0.932,1)" x="0.00 5.10 8.15 14.16" fill="#262626">0.3 </text><path d="M478 0V1170L140 959V1180L493 1409H759V0Z" transform="translate(441.54,100.81) scale(0.004687,-0.005029)" fill="#262626"/><text transform="translate(453.40,100.81) scale(0.932,1)" x="0.00 3.43 8.53 11.59 17.60" fill="#262626">-0. 7</text><path d="M478 0V1170L140 959V1180L493 1409H759V0Z" transform="translate(464.20,100.81) scale(0.004687,-0.005029)" fill="#262626"/><text transform="translate(480.06,100.81) scale(0.932,1)" x="0.00 3.43 8.53 11.59 17.60" fill="#262626">-0. 7</text><path d="M478 0V1170L140 959V1180L493 1409H759V0Z" transform="translate(490.86,100.81) scale(0.004687,-0.005029)" fill="#262626"/><text transform="translate(508.32,100.81) scale(0.932,1)" x="0.00 5.10 8.15 14.16" fill="#262626">0.27</text><text transform="translate(533.38,100.81) scale(0.932,1)" x="0.00 3.43 8.53 11.59 17.60" fill="#262626">-0. 6</text><path d="M478 0V1170L140 959V1180L493 1409H759V0Z" transform="translate(544.18,100.81) scale(0.004687,-0.005029)" fill="#262626"/><text transform="translate(561.64,100.81) scale(0.932,1)" x="0.00 5.10 8.15 14.16" fill="#262626">0.06</text><text transform="translate(81.76,127.47) scale(0.932,1)" x="0.00 5.10 8.15 14.16" fill="#ffffff">0.73</text><text transform="translate(106.82,127.47) scale(0.932,1)" x="0.00 3.43 8.53 11.59 17.60" fill="#ffffff">-0.62</text><text transform="translate(133.48,127.47) scale(0.932,1)" x="0.00 3.43 8.53 11.59 17.60" fill="#ffffff">-0.80</text><text transform="translate(160.14,127.47) scale(0.932,1)" x="0.00 3.43 8.53 11.59 17.60" fill="#262626">-0.05</text><text transform="translate(188.40,127.47) scale(0.932,1)" x="0.00 5.10 8.15 14.16" fill="#ffffff"> .00</text><path d="M478 0V1170L140 959V1180L493 1409H759V0Z" transform="translate(188.40,127.47) scale(0.004687,-0.005029)" fill="#ffffff"/><text transform="translate(215.06,127.47) scale(0.932,1)" x="0.00 5.10 8.15 14.16" fill="#262626">0.60</text><text transform="translate(240.12,127.47) scale(0.932,1)" x="0.00 3.43 8.53 11.59 17.60" fill="#262626">-0. 3</text><path d="M478 0V1170L140 959V1180L493 1409H759V0Z" transform="translate(250.92,127.47) scale(0.004687,-0.005029)" fill="#262626"/><text transform="translate(268.38,127.47) scale(0.932,1)" x="0.00 5.10 8.15 14.16" fill="#262626">0.47</text><text transform="translate(293.44,127.47) scale(0.932,1)" x="0.00 3.43 8.53 11.59 17.60" fill="#ffffff">-0.89</text><text transform="translate(321.70,127.47) scale(0.932,1)" x="0.00 5.10 8.15 14.16" fill="#262626">0.24</text><text transform="translate(346.76,127.47) scale(0.932,1)" x="0.00 3.43 8.53 11.59 17.60" fill="#262626">-0.25</text><text transform="translate(375.02,127.47) scale(0.932,1)" x="0.00 5.10 8.15 14.16" fill="#262626">0.56</text><text transform="translate(401.68,127.47) scale(0.932,1)" x="0.00 5.10 8.15 14.16" fill="#ffffff">0.73</text><text transform="translate(428.34,127.47) scale(0.932,1)" x="0.00 5.10 8.15 14.16" fill="#262626">0.58</text><text transform="translate(453.40,127.47) scale(0.932,1)" x="0.00 3.43 8.53 11.59 17.60" fill="#262626">-0.02</text><text transform="translate(480.06,127.47) scale(0.932,1)" x="0.00 3.43 8.53 11.59 17.60" fill="#262626">-0. 9</text><path d="M478 0V1170L140 959V1180L493 1409H759V0Z" transform="translate(490.86,127.47) scale(0.004687,-0.005029)" fill="#262626"/><text transform="translate(508.32,127.47) scale(0.932,1)" x="0.00 5.10 8.15 14.16" fill="#262626">0.49</text><text transform="translate(534.98,127.47) scale(0.932,1)" x="0.00 5.10 8.15 14.16" fill="#262626">0.42</text><text transform="translate(560.04,127.47) scale(0.932,1)" x="0.00 3.43 8.53 11.59 17.60" fill="#262626">-0.  </text><path d="M478 0V1170L140 959V1180L493 1409H759V0Z" transform="translate(570.84,127.47) scale(0.004687,-0.005029)" fill="#262626"/><path d="M478 0V1170L140 959V1180L493 1409H759V0Z" transform="translate(576.44,127.47) scale(0.004687,-0.005029)" fill="#262626"/><text transform="translate(81.76,154.13) scale(0.932,1)" x="0.00 5.10 8.15 14.16" fill="#262626">0.55</text><text transform="translate(106.82,154.13) scale(0.932,1)" x="0.00 3.43 8.53 11.59 17.60" fill="#ffffff">-0.87</text><text transform="translate(133.48,154.13) scale(0.932,1)" x="0.00 3.43 8.53 11.59 17.60" fill="#ffffff">-0.89</text><text transform="translate(160.14,154.13) scale(0.932,1)" x="0.00 3.43 8.53 11.59 17.60" fill="#ffffff">-0.77</text><text transform="translate(188.40,154.13) scale(0.932,1)" x="0.00 5.10 8.15 14.16" fill="#262626">0.60</text><text transform="translate(215.06,154.13) scale(0.932,1)" x="0.00 5.10 8.15 14.16" fill="#ffffff"> .00</text><path d="M478 0V1170L140 959V1180L493 1409H759V0Z" transform="translate(215.06,154.13) scale(0.004687,-0.005029)" fill="#ffffff"/><text transform="translate(240.12,154.13) scale(0.932,1)" x="0.00 3.43 8.53 11.59 17.60" fill="#262626">-0. 3</text><path d="M478 0V1170L140 959V1180L493 1409H759V0Z" transform="translate(250.92,154.13) scale(0.004687,-0.005029)" fill="#262626"/><text transform="translate(268.38,154.13) scale(0.932,1)" x="0.00 5.10 8.15 14.16" fill="#262626">0.50</text><text transform="translate(293.44,154.13) scale(0.932,1)" x="0.00 3.43 8.53 11.59 17.60" fill="#ffffff">-0.74</text><text transform="translate(321.70,154.13) scale(0.932,1)" x="0.00 5.10 8.15 14.16" fill="#ffffff">0.89</text><text transform="translate(346.76,154.13) scale(0.932,1)" x="0.00 3.43 8.53 11.59 17.60" fill="#262626">-0.24</text><text transform="translate(375.02,154.13) scale(0.932,1)" x="0.00 5.10 8.15 14.16" fill="#ffffff">0.8 </text><path d="M478 0V1170L140 959V1180L493 1409H759V0Z" transform="translate(388.22,154.13) scale(0.004687,-0.005029)" fill="#ffffff"/><text transform="translate(401.68,154.13) scale(0.932,1)" x="0.00 5.10 8.15 14.16" fill="#262626">0.27</text><text transform="translate(428.34,154.13) scale(0.932,1)" x="0.00 5.10 8.15 14.16" fill="#262626">0. 0</text><path d="M478 0V1170L140 959V1180L493 1409H759V0Z" transform="translate(435.94,154.13) scale(0.004687,-0.005029)" fill="#262626"/><text transform="translate(455.00,154.13) scale(0.932,1)" x="0.00 5.10 8.15 14.16" fill="#262626">0.25</text><text transform="translate(481.66,154.13) scale(0.932,1)" x="0.00 5.10 8.15 14.16" fill="#262626">0. 4</text><path d="M478 0V1170L140 959V1180L493 1409H759V0Z" transform="translate(489.26,154.13) scale(0.004687,-0.005029)" fill="#262626"/><text transform="translate(508.32,154.13) scale(0.932,1)" x="0.00 5.10 8.15 14.16" fill="#262626">0. 9</text><path d="M478 0V1170L140 959V1180L493 1409H759V0Z" transform="translate(515.92,154.13) scale(0.004687,-0.005029)" fill="#262626"/><text transform="translate(534.98,154.13) scale(0.932,1)" x="0.00 5.10 8.15 14.16" fill="#262626">0.26</text><text transform="translate(560.04,154.13) scale(0.932,1)" x="0.00 3.43 8.53 11.59 17.60" fill="#262626">-0. 0</text><path d="M478 0V1170L140 959V1180L493 1409H759V0Z" transform="translate(570.84,154.13) scale(0.004687,-0.005029)" fill="#262626"/><text transform="translate(80.16,180.79) scale(0.932,1)" x="0.00 3.43 8.53 11.59 17.60" fill="#262626">-0.23</text><text transform="translate(108.42,180.79) scale(0.932,1)" x="0.00 5.10 8.15 14.16" fill="#262626">0.45</text><text transform="translate(133.48,180.79) scale(0.932,1)" x="0.00 3.43 8.53 11.59 17.60" fill="#262626">-0.06</text><text transform="translate(160.14,180.79) scale(0.932,1)" x="0.00 3.43 8.53 11.59 17.60" fill="#262626">-0. 9</text><path d="M478 0V1170L140 959V1180L493 1409H759V0Z" transform="translate(170.94,180.79) scale(0.004687,-0.005029)" fill="#262626"/><text transform="translate(186.80,180.79) scale(0.932,1)" x="0.00 3.43 8.53 11.59 17.60" fill="#262626">-0. 3</text><path d="M478 0V1170L140 959V1180L493 1409H759V0Z" transform="translate(197.60,180.79) scale(0.004687,-0.005029)" fill="#262626"/><text transform="translate(213.46,180.79) scale(0.932,1)" x="0.00 3.43 8.53 11.59 17.60" fill="#262626">-0. 3</text><path d="M478 0V1170L140 959V1180L493 1409H759V0Z" transform="translate(224.26,180.79) scale(0.004687,-0.005029)" fill="#262626"/><text transform="translate(241.72,180.79) scale(0.932,1)" x="0.00 5.10 8.15 14.16" fill="#ffffff"> .00</text><path d="M478 0V1170L140 959V1180L493 1409H759V0Z" transform="translate(241.72,180.79) scale(0.004687,-0.005029)" fill="#ffffff"/><text transform="translate(268.38,180.79) scale(0.932,1)" x="0.00 5.10 8.15 14.16" fill="#262626">0.30</text><text transform="translate(293.44,180.79) scale(0.932,1)" x="0.00 3.43 8.53 11.59 17.60" fill="#262626">-0.08</text><text transform="translate(320.10,180.79) scale(0.932,1)" x="0.00 3.43 8.53 11.59 17.60" fill="#262626">-0.  </text><path d="M478 0V1170L140 959V1180L493 1409H759V0Z" transform="translate(330.90,180.79) scale(0.004687,-0.005029)" fill="#262626"/><path d="M478 0V1170L140 959V1180L493 1409H759V0Z" transform="translate(336.50,180.79) scale(0.004687,-0.005029)" fill="#262626"/><text transform="translate(348.36,180.79) scale(0.932,1)" x="0.00 5.10 8.15 14.16" fill="#ffffff">0.7 </text><path d="M478 0V1170L140 959V1180L493 1409H759V0Z" transform="translate(361.56,180.79) scale(0.004687,-0.005029)" fill="#ffffff"/><text transform="translate(375.02,180.79) scale(0.932,1)" x="0.00 5.10 8.15 14.16" fill="#262626">0.02</text><text transform="translate(400.08,180.79) scale(0.932,1)" x="0.00 3.43 8.53 11.59 17.60" fill="#262626">-0.20</text><text transform="translate(426.74,180.79) scale(0.932,1)" x="0.00 3.43 8.53 11.59 17.60" fill="#262626">-0.38</text><text transform="translate(455.00,180.79) scale(0.932,1)" x="0.00 5.10 8.15 14.16" fill="#262626">0.04</text><text transform="translate(480.06,180.79) scale(0.932,1)" x="0.00 3.43 8.53 11.59 17.60" fill="#262626">-0.03</text><text transform="translate(506.72,180.79) scale(0.932,1)" x="0.00 3.43 8.53 11.59 17.60" fill="#262626">-0.05</text><text transform="translate(534.98,180.79) scale(0.932,1)" x="0.00 5.10 8.15 14.16" fill="#262626">0.29</text><text transform="translate(560.04,180.79) scale(0.932,1)" x="0.00 3.43 8.53 11.59 17.60" fill="#262626">-0.05</text><text transform="translate(80.16,207.45) scale(0.932,1)" x="0.00 3.43 8.53 11.59 17.60" fill="#262626">-0.07</text><text transform="translate(106.82,207.45) scale(0.932,1)" x="0.00 3.43 8.53 11.59 17.60" fill="#262626">-0.3 </text><path d="M478 0V1170L140 959V1180L493 1409H759V0Z" transform="translate(123.22,207.45) scale(0.004687,-0.005029)" fill="#262626"/><text transform="translate(133.48,207.45) scale(0.932,1)" x="0.00 3.43 8.53 11.59 17.60" fill="#ffffff">-0.58</text><text transform="translate(160.14,207.45) scale(0.932,1)" x="0.00 3.43 8.53 11.59 17.60" fill="#262626">-0. 9</text><path d="M478 0V1170L140 959V1180L493 1409H759V0Z" transform="translate(170.94,207.45) scale(0.004687,-0.005029)" fill="#262626"/><text transform="translate(188.40,207.45) scale(0.932,1)" x="0.00 5.10 8.15 14.16" fill="#262626">0.47</text><text transform="translate(215.06,207.45) scale(0.932,1)" x="0.00 5.10 8.15 14.16" fill="#262626">0.50</text><text transform="translate(241.72,207.45) scale(0.932,1)" x="0.00 5.10 8.15 14.16" fill="#262626">0.30</text><text transform="translate(268.38,207.45) scale(0.932,1)" x="0.00 5.10 8.15 14.16" fill="#ffffff"> .00</text><path d="M478 0V1170L140 959V1180L493 1409H759V0Z" transform="translate(268.38,207.45) scale(0.004687,-0.005029)" fill="#ffffff"/><text transform="translate(293.44,207.45) scale(0.932,1)" x="0.00 3.43 8.53 11.59 17.60" fill="#ffffff">-0.49</text><text transform="translate(321.70,207.45) scale(0.932,1)" x="0.00 5.10 8.15 14.16" fill="#262626">0.27</text><text transform="translate(346.76,207.45) scale(0.932,1)" x="0.00 3.43 8.53 11.59 17.60" fill="#262626">-0.0 </text><path d="M478 0V1170L140 959V1180L493 1409H759V0Z" transform="translate(363.16,207.45) scale(0.004687,-0.005029)" fill="#262626"/><text transform="translate(375.02,207.45) scale(0.932,1)" x="0.00 5.10 8.15 14.16" fill="#262626">0.46</text><text transform="translate(400.08,207.45) scale(0.932,1)" x="0.00 3.43 8.53 11.59 17.60" fill="#262626">-0.2 </text><path d="M478 0V1170L140 959V1180L493 1409H759V0Z" transform="translate(416.48,207.45) scale(0.004687,-0.005029)" fill="#262626"/><text transform="translate(426.74,207.45) scale(0.932,1)" x="0.00 3.43 8.53 11.59 17.60" fill="#262626">-0.2 </text><path d="M478 0V1170L140 959V1180L493 1409H759V0Z" transform="translate(443.14,207.45) scale(0.004687,-0.005029)" fill="#262626"/><text transform="translate(455.00,207.45) scale(0.932,1)" x="0.00 5.10 8.15 14.16" fill="#262626">0. 8</text><path d="M478 0V1170L140 959V1180L493 1409H759V0Z" transform="translate(462.60,207.45) scale(0.004687,-0.005029)" fill="#262626"/><text transform="translate(481.66,207.45) scale(0.932,1)" x="0.00 5.10 8.15 14.16" fill="#262626">0.07</text><text transform="translate(508.32,207.45) scale(0.932,1)" x="0.00 5.10 8.15 14.16" fill="#ffffff">0.77</text><text transform="translate(534.98,207.45) scale(0.932,1)" x="0.00 5.10 8.15 14.16" fill="#262626">0.29</text><text transform="translate(560.04,207.45) scale(0.932,1)" x="0.00 3.43 8.53 11.59 17.60" fill="#262626">-0.08</text><text transform="translate(80.16,234.11) scale(0.932,1)" x="0.00 3.43 8.53 11.59 17.60" fill="#ffffff">-0.82</text><text transform="translate(108.42,234.11) scale(0.932,1)" x="0.00 5.10 8.15 14.16" fill="#ffffff">0.67</text><text transform="translate(135.08,234.11) scale(0.932,1)" x="0.00 5.10 8.15 14.16" fill="#ffffff">0.96</text><text transform="translate(161.74,234.11) scale(0.932,1)" x="0.00 5.10 8.15 14.16" fill="#262626">0.37</text><text transform="translate(186.80,234.11) scale(0.932,1)" x="0.00 3.43 8.53 11.59 17.60" fill="#ffffff">-0.89</text><text transform="translate(213.46,234.11) scale(0.932,1)" x="0.00 3.43 8.53 11.59 17.60" fill="#ffffff">-0.74</text><text transform="translate(240.12,234.11) scale(0.932,1)" x="0.00 3.43 8.53 11.59 17.60" fill="#262626">-0.08</text><text transform="translate(266.78,234.11) scale(0.932,1)" x="0.00 3.43 8.53 11.59 17.60" fill="#ffffff">-0.49</text><text transform="translate(295.04,234.11) scale(0.932,1)" x="0.00 5.10 8.15 14.16" fill="#ffffff"> .00</text><path d="M478 0V1170L140 959V1180L493 1409H759V0Z" transform="translate(295.04,234.11) scale(0.004687,-0.005029)" fill="#ffffff"/><text transform="translate(320.10,234.11) scale(0.932,1)" x="0.00 3.43 8.53 11.59 17.60" fill="#ffffff">-0.45</text><text transform="translate(348.36,234.11) scale(0.932,1)" x="0.00 5.10 8.15 14.16" fill="#262626">0.23</text><text transform="translate(373.42,234.11) scale(0.932,1)" x="0.00 3.43 8.53 11.59 17.60" fill="#ffffff">-0.73</text><text transform="translate(400.08,234.11) scale(0.932,1)" x="0.00 3.43 8.53 11.59 17.60" fill="#ffffff">-0.68</text><text transform="translate(426.74,234.11) scale(0.932,1)" x="0.00 3.43 8.53 11.59 17.60" fill="#ffffff">-0.45</text><text transform="translate(453.40,234.11) scale(0.932,1)" x="0.00 3.43 8.53 11.59 17.60" fill="#262626">-0.0 </text><path d="M478 0V1170L140 959V1180L493 1409H759V0Z" transform="translate(469.80,234.11) scale(0.004687,-0.005029)" fill="#262626"/><text transform="translate(481.66,234.11) scale(0.932,1)" x="0.00 5.10 8.15 14.16" fill="#262626">0.05</text><text transform="translate(506.72,234.11) scale(0.932,1)" x="0.00 3.43 8.53 11.59 17.60" fill="#262626">-0.2 </text><path d="M478 0V1170L140 959V1180L493 1409H759V0Z" transform="translate(523.12,234.11) scale(0.004687,-0.005029)" fill="#262626"/><text transform="translate(533.38,234.11) scale(0.932,1)" x="0.00 3.43 8.53 11.59 17.60" fill="#ffffff">-0.43</text><text transform="translate(561.64,234.11) scale(0.932,1)" x="0.00 5.10 8.15 14.16" fill="#262626">0. 2</text><path d="M478 0V1170L140 959V1180L493 1409H759V0Z" transform="translate(569.24,234.11) scale(0.004687,-0.005029)" fill="#262626"/><text transform="translate(81.76,260.77) scale(0.932,1)" x="0.00 5.10 8.15 14.16" fill="#262626">0.35</text><text transform="translate(106.82,260.77) scale(0.932,1)" x="0.00 3.43 8.53 11.59 17.60" fill="#ffffff">-0.74</text><text transform="translate(133.48,260.77) scale(0.932,1)" x="0.00 3.43 8.53 11.59 17.60" fill="#ffffff">-0.66</text><text transform="translate(160.14,260.77) scale(0.932,1)" x="0.00 3.43 8.53 11.59 17.60" fill="#ffffff">-0.90</text><text transform="translate(188.40,260.77) scale(0.932,1)" x="0.00 5.10 8.15 14.16" fill="#262626">0.24</text><text transform="translate(215.06,260.77) scale(0.932,1)" x="0.00 5.10 8.15 14.16" fill="#ffffff">0.89</text><text transform="translate(240.12,260.77) scale(0.932,1)" x="0.00 3.43 8.53 11.59 17.60" fill="#262626">-0.  </text><path d="M478 0V1170L140 959V1180L493 1409H759V0Z" transform="translate(250.92,260.77) scale(0.004687,-0.005029)" fill="#262626"/><path d="M478 0V1170L140 959V1180L493 1409H759V0Z" transform="translate(256.52,260.77) scale(0.004687,-0.005029)" fill="#262626"/><text transform="translate(268.38,260.77) scale(0.932,1)" x="0.00 5.10 8.15 14.16" fill="#262626">0.27</text><text transform="translate(293.44,260.77) scale(0.932,1)" x="0.00 3.43 8.53 11.59 17.60" fill="#ffffff">-0.45</text><text transform="translate(321.70,260.77) scale(0.932,1)" x="0.00 5.10 8.15 14.16" fill="#ffffff"> .00</text><path d="M478 0V1170L140 959V1180L493 1409H759V0Z" transform="translate(321.70,260.77) scale(0.004687,-0.005029)" fill="#ffffff"/><text transform="translate(346.76,260.77) scale(0.932,1)" x="0.00 3.43 8.53 11.59 17.60" fill="#262626">-0. 5</text><path d="M478 0V1170L140 959V1180L493 1409H759V0Z" transform="translate(357.56,260.77) scale(0.004687,-0.005029)" fill="#262626"/><text transform="translate(375.02,260.77) scale(0.932,1)" x="0.00 5.10 8.15 14.16" fill="#ffffff">0.69</text><text transform="translate(401.68,260.77) scale(0.932,1)" x="0.00 5.10 8.15 14.16" fill="#262626">0.05</text><text transform="translate(426.74,260.77) scale(0.932,1)" x="0.00 3.43 8.53 11.59 17.60" fill="#262626">-0. 3</text><path d="M478 0V1170L140 959V1180L493 1409H759V0Z" transform="translate(437.54,260.77) scale(0.004687,-0.005029)" fill="#262626"/><text transform="translate(455.00,260.77) scale(0.932,1)" x="0.00 5.10 8.15 14.16" fill="#262626">0.27</text><text transform="translate(481.66,260.77) scale(0.932,1)" x="0.00 5.10 8.15 14.16" fill="#262626">0.23</text><text transform="translate(506.72,260.77) scale(0.932,1)" x="0.00 3.43 8.53 11.59 17.60" fill="#262626">-0.08</text><text transform="translate(534.98,260.77) scale(0.932,1)" x="0.00 5.10 8.15 14.16" fill="#262626">0.06</text><text transform="translate(560.04,260.77) scale(0.932,1)" x="0.00 3.43 8.53 11.59 17.60" fill="#262626">-0.08</text><text transform="translate(80.16,287.43) scale(0.932,1)" x="0.00 3.43 8.53 11.59 17.60" fill="#262626">-0.32</text><text transform="translate(108.42,287.43) scale(0.932,1)" x="0.00 5.10 8.15 14.16" fill="#262626">0.37</text><text transform="translate(135.08,287.43) scale(0.932,1)" x="0.00 5.10 8.15 14.16" fill="#262626">0.2 </text><path d="M478 0V1170L140 959V1180L493 1409H759V0Z" transform="translate(148.28,287.43) scale(0.004687,-0.005029)" fill="#262626"/><text transform="translate(160.14,287.43) scale(0.932,1)" x="0.00 3.43 8.53 11.59 17.60" fill="#262626">-0.03</text><text transform="translate(186.80,287.43) scale(0.932,1)" x="0.00 3.43 8.53 11.59 17.60" fill="#262626">-0.25</text><text transform="translate(213.46,287.43) scale(0.932,1)" x="0.00 3.43 8.53 11.59 17.60" fill="#262626">-0.24</text><text transform="translate(241.72,287.43) scale(0.932,1)" x="0.00 5.10 8.15 14.16" fill="#ffffff">0.7 </text><path d="M478 0V1170L140 959V1180L493 1409H759V0Z" transform="translate(254.92,287.43) scale(0.004687,-0.005029)" fill="#ffffff"/><text transform="translate(266.78,287.43) scale(0.932,1)" x="0.00 3.43 8.53 11.59 17.60" fill="#262626">-0.0 </text><path d="M478 0V1170L140 959V1180L493 1409H759V0Z" transform="translate(283.18,287.43) scale(0.004687,-0.005029)" fill="#262626"/><text transform="translate(295.04,287.43) scale(0.932,1)" x="0.00 5.10 8.15 14.16" fill="#262626">0.23</text><text transform="translate(320.10,287.43) scale(0.932,1)" x="0.00 3.43 8.53 11.59 17.60" fill="#262626">-0. 5</text><path d="M478 0V1170L140 959V1180L493 1409H759V0Z" transform="translate(330.90,287.43) scale(0.004687,-0.005029)" fill="#262626"/><text transform="translate(348.36,287.43) scale(0.932,1)" x="0.00 5.10 8.15 14.16" fill="#ffffff"> .00</text><path d="M478 0V1170L140 959V1180L493 1409H759V0Z" transform="translate(348.36,287.43) scale(0.004687,-0.005029)" fill="#ffffff"/><text transform="translate(373.42,287.43) scale(0.932,1)" x="0.00 3.43 8.53 11.59 17.60" fill="#262626">-0. 4</text><path d="M478 0V1170L140 959V1180L493 1409H759V0Z" transform="translate(384.22,287.43) scale(0.004687,-0.005029)" fill="#262626"/><text transform="translate(400.08,287.43) scale(0.932,1)" x="0.00 3.43 8.53 11.59 17.60" fill="#262626">-0.26</text><text transform="translate(426.74,287.43) scale(0.932,1)" x="0.00 3.43 8.53 11.59 17.60" fill="#262626">-0.24</text><text transform="translate(455.00,287.43) scale(0.932,1)" x="0.00 5.10 8.15 14.16" fill="#262626">0.30</text><text transform="translate(481.66,287.43) scale(0.932,1)" x="0.00 5.10 8.15 14.16" fill="#262626">0.08</text><text transform="translate(506.72,287.43) scale(0.932,1)" x="0.00 3.43 8.53 11.59 17.60" fill="#262626">-0.08</text><text transform="translate(534.98,287.43) scale(0.932,1)" x="0.00 5.10 8.15 14.16" fill="#262626">0.05</text><text transform="translate(561.64,287.43) scale(0.932,1)" x="0.00 5.10 8.15 14.16" fill="#262626">0. 0</text><path d="M478 0V1170L140 959V1180L493 1409H759V0Z" transform="translate(569.24,287.43) scale(0.004687,-0.005029)" fill="#262626"/><text transform="translate(81.76,314.09) scale(0.932,1)" x="0.00 5.10 8.15 14.16" fill="#262626">0.55</text><text transform="translate(106.82,314.09) scale(0.932,1)" x="0.00 3.43 8.53 11.59 17.60" fill="#ffffff">-0.74</text><text transform="translate(133.48,314.09) scale(0.932,1)" x="0.00 3.43 8.53 11.59 17.60" fill="#ffffff">-0.82</text><text transform="translate(160.14,314.09) scale(0.932,1)" x="0.00 3.43 8.53 11.59 17.60" fill="#ffffff">-0.6 </text><path d="M478 0V1170L140 959V1180L493 1409H759V0Z" transform="translate(176.54,314.09) scale(0.004687,-0.005029)" fill="#ffffff"/><text transform="translate(188.40,314.09) scale(0.932,1)" x="0.00 5.10 8.15 14.16" fill="#262626">0.56</text><text transform="translate(215.06,314.09) scale(0.932,1)" x="0.00 5.10 8.15 14.16" fill="#ffffff">0.8 </text><path d="M478 0V1170L140 959V1180L493 1409H759V0Z" transform="translate(228.26,314.09) scale(0.004687,-0.005029)" fill="#ffffff"/><text transform="translate(241.72,314.09) scale(0.932,1)" x="0.00 5.10 8.15 14.16" fill="#262626">0.02</text><text transform="translate(268.38,314.09) scale(0.932,1)" x="0.00 5.10 8.15 14.16" fill="#262626">0.46</text><text transform="translate(293.44,314.09) scale(0.932,1)" x="0.00 3.43 8.53 11.59 17.60" fill="#ffffff">-0.73</text><text transform="translate(321.70,314.09) scale(0.932,1)" x="0.00 5.10 8.15 14.16" fill="#ffffff">0.69</text><text transform="translate(346.76,314.09) scale(0.932,1)" x="0.00 3.43 8.53 11.59 17.60" fill="#262626">-0. 4</text><path d="M478 0V1170L140 959V1180L493 1409H759V0Z" transform="translate(357.56,314.09) scale(0.004687,-0.005029)" fill="#262626"/><text transform="translate(375.02,314.09) scale(0.932,1)" x="0.00 5.10 8.15 14.16" fill="#ffffff"> .00</text><path d="M478 0V1170L140 959V1180L493 1409H759V0Z" transform="translate(375.02,314.09) scale(0.004687,-0.005029)" fill="#ffffff"/><text transform="translate(401.68,314.09) scale(0.932,1)" x="0.00 5.10 8.15 14.16" fill="#262626">0.30</text><text transform="translate(428.34,314.09) scale(0.932,1)" x="0.00 5.10 8.15 14.16" fill="#262626">0.30</text><text transform="translate(455.00,314.09) scale(0.932,1)" x="0.00 5.10 8.15 14.16" fill="#262626">0.28</text><text transform="translate(481.66,314.09) scale(0.932,1)" x="0.00 5.10 8.15 14.16" fill="#262626">0.27</text><text transform="translate(508.32,314.09) scale(0.932,1)" x="0.00 5.10 8.15 14.16" fill="#262626">0.  </text><path d="M478 0V1170L140 959V1180L493 1409H759V0Z" transform="translate(515.92,314.09) scale(0.004687,-0.005029)" fill="#262626"/><path d="M478 0V1170L140 959V1180L493 1409H759V0Z" transform="translate(521.52,314.09) scale(0.004687,-0.005029)" fill="#262626"/><text transform="translate(534.98,314.09) scale(0.932,1)" x="0.00 5.10 8.15 14.16" fill="#262626">0. 4</text><path d="M478 0V1170L140 959V1180L493 1409H759V0Z" transform="translate(542.58,314.09) scale(0.004687,-0.005029)" fill="#262626"/><text transform="translate(560.04,314.09) scale(0.932,1)" x="0.00 3.43 8.53 11.59 17.60" fill="#262626">-0.09</text><text transform="translate(81.76,340.75) scale(0.932,1)" x="0.00 5.10 8.15 14.16" fill="#ffffff">0.89</text><text transform="translate(106.82,340.75) scale(0.932,1)" x="0.00 3.43 8.53 11.59 17.60" fill="#262626">-0.36</text><text transform="translate(133.48,340.75) scale(0.932,1)" x="0.00 3.43 8.53 11.59 17.60" fill="#ffffff">-0.50</text><text transform="translate(161.74,340.75) scale(0.932,1)" x="0.00 5.10 8.15 14.16" fill="#262626">0.02</text><text transform="translate(188.40,340.75) scale(0.932,1)" x="0.00 5.10 8.15 14.16" fill="#ffffff">0.73</text><text transform="translate(215.06,340.75) scale(0.932,1)" x="0.00 5.10 8.15 14.16" fill="#262626">0.27</text><text transform="translate(240.12,340.75) scale(0.932,1)" x="0.00 3.43 8.53 11.59 17.60" fill="#262626">-0.20</text><text transform="translate(266.78,340.75) scale(0.932,1)" x="0.00 3.43 8.53 11.59 17.60" fill="#262626">-0.2 </text><path d="M478 0V1170L140 959V1180L493 1409H759V0Z" transform="translate(283.18,340.75) scale(0.004687,-0.005029)" fill="#262626"/><text transform="translate(293.44,340.75) scale(0.932,1)" x="0.00 3.43 8.53 11.59 17.60" fill="#ffffff">-0.68</text><text transform="translate(321.70,340.75) scale(0.932,1)" x="0.00 5.10 8.15 14.16" fill="#262626">0.05</text><text transform="translate(346.76,340.75) scale(0.932,1)" x="0.00 3.43 8.53 11.59 17.60" fill="#262626">-0.26</text><text transform="translate(375.02,340.75) scale(0.932,1)" x="0.00 5.10 8.15 14.16" fill="#262626">0.30</text><text transform="translate(401.68,340.75) scale(0.932,1)" x="0.00 5.10 8.15 14.16" fill="#ffffff"> .00</text><path d="M478 0V1170L140 959V1180L493 1409H759V0Z" transform="translate(401.68,340.75) scale(0.004687,-0.005029)" fill="#ffffff"/><text transform="translate(428.34,340.75) scale(0.932,1)" x="0.00 5.10 8.15 14.16" fill="#ffffff">0.73</text><text transform="translate(453.40,340.75) scale(0.932,1)" x="0.00 3.43 8.53 11.59 17.60" fill="#262626">-0.27</text><text transform="translate(480.06,340.75) scale(0.932,1)" x="0.00 3.43 8.53 11.59 17.60" fill="#262626">-0.3 </text><path d="M478 0V1170L140 959V1180L493 1409H759V0Z" transform="translate(496.46,340.75) scale(0.004687,-0.005029)" fill="#262626"/><text transform="translate(506.72,340.75) scale(0.932,1)" x="0.00 3.43 8.53 11.59 17.60" fill="#262626">-0. 2</text><path d="M478 0V1170L140 959V1180L493 1409H759V0Z" transform="translate(517.52,340.75) scale(0.004687,-0.005029)" fill="#262626"/><text transform="translate(534.98,340.75) scale(0.932,1)" x="0.00 5.10 8.15 14.16" fill="#262626">0.29</text><text transform="translate(560.04,340.75) scale(0.932,1)" x="0.00 3.43 8.53 11.59 17.60" fill="#262626">-0.06</text><text transform="translate(81.76,367.41) scale(0.932,1)" x="0.00 5.10 8.15 14.16" fill="#ffffff">0.73</text><text transform="translate(106.82,367.41) scale(0.932,1)" x="0.00 3.43 8.53 11.59 17.60" fill="#262626">-0.4 </text><path d="M478 0V1170L140 959V1180L493 1409H759V0Z" transform="translate(123.22,367.41) scale(0.004687,-0.005029)" fill="#262626"/><text transform="translate(133.48,367.41) scale(0.932,1)" x="0.00 3.43 8.53 11.59 17.60" fill="#262626">-0.3 </text><path d="M478 0V1170L140 959V1180L493 1409H759V0Z" transform="translate(149.88,367.41) scale(0.004687,-0.005029)" fill="#262626"/><text transform="translate(161.74,367.41) scale(0.932,1)" x="0.00 5.10 8.15 14.16" fill="#262626">0.3 </text><path d="M478 0V1170L140 959V1180L493 1409H759V0Z" transform="translate(174.94,367.41) scale(0.004687,-0.005029)" fill="#262626"/><text transform="translate(188.40,367.41) scale(0.932,1)" x="0.00 5.10 8.15 14.16" fill="#262626">0.58</text><text transform="translate(215.06,367.41) scale(0.932,1)" x="0.00 5.10 8.15 14.16" fill="#262626">0. 0</text><path d="M478 0V1170L140 959V1180L493 1409H759V0Z" transform="translate(222.66,367.41) scale(0.004687,-0.005029)" fill="#262626"/><text transform="translate(240.12,367.41) scale(0.932,1)" x="0.00 3.43 8.53 11.59 17.60" fill="#262626">-0.38</text><text transform="translate(266.78,367.41) scale(0.932,1)" x="0.00 3.43 8.53 11.59 17.60" fill="#262626">-0.2 </text><path d="M478 0V1170L140 959V1180L493 1409H759V0Z" transform="translate(283.18,367.41) scale(0.004687,-0.005029)" fill="#262626"/><text transform="translate(293.44,367.41) scale(0.932,1)" x="0.00 3.43 8.53 11.59 17.60" fill="#ffffff">-0.45</text><text transform="translate(320.10,367.41) scale(0.932,1)" x="0.00 3.43 8.53 11.59 17.60" fill="#262626">-0. 3</text><path d="M478 0V1170L140 959V1180L493 1409H759V0Z" transform="translate(330.90,367.41) scale(0.004687,-0.005029)" fill="#262626"/><text transform="translate(346.76,367.41) scale(0.932,1)" x="0.00 3.43 8.53 11.59 17.60" fill="#262626">-0.24</text><text transform="translate(375.02,367.41) scale(0.932,1)" x="0.00 5.10 8.15 14.16" fill="#262626">0.30</text><text transform="translate(401.68,367.41) scale(0.932,1)" x="0.00 5.10 8.15 14.16" fill="#ffffff">0.73</text><text transform="translate(428.34,367.41) scale(0.932,1)" x="0.00 5.10 8.15 14.16" fill="#ffffff"> .00</text><path d="M478 0V1170L140 959V1180L493 1409H759V0Z" transform="translate(428.34,367.41) scale(0.004687,-0.005029)" fill="#ffffff"/><text transform="translate(455.00,367.41) scale(0.932,1)" x="0.00 5.10 8.15 14.16" fill="#262626">0. 5</text><path d="M478 0V1170L140 959V1180L493 1409H759V0Z" transform="translate(462.60,367.41) scale(0.004687,-0.005029)" fill="#262626"/><text transform="translate(481.66,367.41) scale(0.932,1)" x="0.00 5.10 8.15 14.16" fill="#262626">0. 2</text><path d="M478 0V1170L140 959V1180L493 1409H759V0Z" transform="translate(489.26,367.41) scale(0.004687,-0.005029)" fill="#262626"/><text transform="translate(506.72,367.41) scale(0.932,1)" x="0.00 3.43 8.53 11.59 17.60" fill="#262626">-0.06</text><text transform="translate(533.38,367.41) scale(0.932,1)" x="0.00 3.43 8.53 11.59 17.60" fill="#262626">-0.04</text><text transform="translate(560.04,367.41) scale(0.932,1)" x="0.00 3.43 8.53 11.59 17.60" fill="#262626">-0.05</text><text transform="translate(80.16,394.07) scale(0.932,1)" x="0.00 3.43 8.53 11.59 17.60" fill="#262626">-0.03</text><text transform="translate(106.82,394.07) scale(0.932,1)" x="0.00 3.43 8.53 11.59 17.60" fill="#262626">-0.37</text><text transform="translate(133.48,394.07) scale(0.932,1)" x="0.00 3.43 8.53 11.59 17.60" fill="#262626">-0. 5</text><path d="M478 0V1170L140 959V1180L493 1409H759V0Z" transform="translate(144.28,394.07) scale(0.004687,-0.005029)" fill="#262626"/><text transform="translate(160.14,394.07) scale(0.932,1)" x="0.00 3.43 8.53 11.59 17.60" fill="#262626">-0. 7</text><path d="M478 0V1170L140 959V1180L493 1409H759V0Z" transform="translate(170.94,394.07) scale(0.004687,-0.005029)" fill="#262626"/><text transform="translate(186.80,394.07) scale(0.932,1)" x="0.00 3.43 8.53 11.59 17.60" fill="#262626">-0.02</text><text transform="translate(215.06,394.07) scale(0.932,1)" x="0.00 5.10 8.15 14.16" fill="#262626">0.25</text><text transform="translate(241.72,394.07) scale(0.932,1)" x="0.00 5.10 8.15 14.16" fill="#262626">0.04</text><text transform="translate(268.38,394.07) scale(0.932,1)" x="0.00 5.10 8.15 14.16" fill="#262626">0. 8</text><path d="M478 0V1170L140 959V1180L493 1409H759V0Z" transform="translate(275.98,394.07) scale(0.004687,-0.005029)" fill="#262626"/><text transform="translate(293.44,394.07) scale(0.932,1)" x="0.00 3.43 8.53 11.59 17.60" fill="#262626">-0.0 </text><path d="M478 0V1170L140 959V1180L493 1409H759V0Z" transform="translate(309.84,394.07) scale(0.004687,-0.005029)" fill="#262626"/><text transform="translate(321.70,394.07) scale(0.932,1)" x="0.00 5.10 8.15 14.16" fill="#262626">0.27</text><text transform="translate(348.36,394.07) scale(0.932,1)" x="0.00 5.10 8.15 14.16" fill="#262626">0.30</text><text transform="translate(375.02,394.07) scale(0.932,1)" x="0.00 5.10 8.15 14.16" fill="#262626">0.28</text><text transform="translate(400.08,394.07) scale(0.932,1)" x="0.00 3.43 8.53 11.59 17.60" fill="#262626">-0.27</text><text transform="translate(428.34,394.07) scale(0.932,1)" x="0.00 5.10 8.15 14.16" fill="#262626">0. 5</text><path d="M478 0V1170L140 959V1180L493 1409H759V0Z" transform="translate(435.94,394.07) scale(0.004687,-0.005029)" fill="#262626"/><text transform="translate(455.00,394.07) scale(0.932,1)" x="0.00 5.10 8.15 14.16" fill="#ffffff"> .00</text><path d="M478 0V1170L140 959V1180L493 1409H759V0Z" transform="translate(455.00,394.07) scale(0.004687,-0.005029)" fill="#ffffff"/><text transform="translate(481.66,394.07) scale(0.932,1)" x="0.00 5.10 8.15 14.16" fill="#ffffff">0.8 </text><path d="M478 0V1170L140 959V1180L493 1409H759V0Z" transform="translate(494.86,394.07) scale(0.004687,-0.005029)" fill="#ffffff"/><text transform="translate(508.32,394.07) scale(0.932,1)" x="0.00 5.10 8.15 14.16" fill="#262626">0.03</text><text transform="translate(533.38,394.07) scale(0.932,1)" x="0.00 3.43 8.53 11.59 17.60" fill="#262626">-0. 4</text><path d="M478 0V1170L140 959V1180L493 1409H759V0Z" transform="translate(544.18,394.07) scale(0.004687,-0.005029)" fill="#262626"/><text transform="translate(560.04,394.07) scale(0.932,1)" x="0.00 3.43 8.53 11.59 17.60" fill="#262626">-0.2 </text><path d="M478 0V1170L140 959V1180L493 1409H759V0Z" transform="translate(576.44,394.07) scale(0.004687,-0.005029)" fill="#262626"/><text transform="translate(80.16,420.73) scale(0.932,1)" x="0.00 3.43 8.53 11.59 17.60" fill="#262626">-0.03</text><text transform="translate(106.82,420.73) scale(0.932,1)" x="0.00 3.43 8.53 11.59 17.60" fill="#262626">-0.26</text><text transform="translate(133.48,420.73) scale(0.932,1)" x="0.00 3.43 8.53 11.59 17.60" fill="#262626">-0.08</text><text transform="translate(160.14,420.73) scale(0.932,1)" x="0.00 3.43 8.53 11.59 17.60" fill="#262626">-0. 7</text><path d="M478 0V1170L140 959V1180L493 1409H759V0Z" transform="translate(170.94,420.73) scale(0.004687,-0.005029)" fill="#262626"/><text transform="translate(186.80,420.73) scale(0.932,1)" x="0.00 3.43 8.53 11.59 17.60" fill="#262626">-0. 9</text><path d="M478 0V1170L140 959V1180L493 1409H759V0Z" transform="translate(197.60,420.73) scale(0.004687,-0.005029)" fill="#262626"/><text transform="translate(215.06,420.73) scale(0.932,1)" x="0.00 5.10 8.15 14.16" fill="#262626">0. 4</text><path d="M478 0V1170L140 959V1180L493 1409H759V0Z" transform="translate(222.66,420.73) scale(0.004687,-0.005029)" fill="#262626"/><text transform="translate(240.12,420.73) scale(0.932,1)" x="0.00 3.43 8.53 11.59 17.60" fill="#262626">-0.03</text><text transform="translate(268.38,420.73) scale(0.932,1)" x="0.00 5.10 8.15 14.16" fill="#262626">0.07</text><text transform="translate(295.04,420.73) scale(0.932,1)" x="0.00 5.10 8.15 14.16" fill="#262626">0.05</text><text transform="translate(321.70,420.73) scale(0.932,1)" x="0.00 5.10 8.15 14.16" fill="#262626">0.23</text><text transform="translate(348.36,420.73) scale(0.932,1)" x="0.00 5.10 8.15 14.16" fill="#262626">0.08</text><text transform="translate(375.02,420.73) scale(0.932,1)" x="0.00 5.10 8.15 14.16" fill="#262626">0.27</text><text transform="translate(400.08,420.73) scale(0.932,1)" x="0.00 3.43 8.53 11.59 17.60" fill="#262626">-0.3 </text><path d="M478 0V1170L140 959V1180L493 1409H759V0Z" transform="translate(416.48,420.73) scale(0.004687,-0.005029)" fill="#262626"/><text transform="translate(428.34,420.73) scale(0.932,1)" x="0.00 5.10 8.15 14.16" fill="#262626">0. 2</text><path d="M478 0V1170L140 959V1180L493 1409H759V0Z" transform="translate(435.94,420.73) scale(0.004687,-0.005029)" fill="#262626"/><text transform="translate(455.00,420.73) scale(0.932,1)" x="0.00 5.10 8.15 14.16" fill="#ffffff">0.8 </text><path d="M478 0V1170L140 959V1180L493 1409H759V0Z" transform="translate(468.20,420.73) scale(0.004687,-0.005029)" fill="#ffffff"/><text transform="translate(481.66,420.73) scale(0.932,1)" x="0.00 5.10 8.15 14.16" fill="#ffffff"> .00</text><path d="M478 0V1170L140 959V1180L493 1409H759V0Z" transform="translate(481.66,420.73) scale(0.004687,-0.005029)" fill="#ffffff"/><text transform="translate(506.72,420.73) scale(0.932,1)" x="0.00 3.43 8.53 11.59 17.60" fill="#262626">-0. 8</text><path d="M478 0V1170L140 959V1180L493 1409H759V0Z" transform="translate(517.52,420.73) scale(0.004687,-0.005029)" fill="#262626"/><text transform="translate(533.38,420.73) scale(0.932,1)" x="0.00 3.43 8.53 11.59 17.60" fill="#262626">-0.32</text><text transform="translate(560.04,420.73) scale(0.932,1)" x="0.00 3.43 8.53 11.59 17.60" fill="#262626">-0.2 </text><path d="M478 0V1170L140 959V1180L493 1409H759V0Z" transform="translate(576.44,420.73) scale(0.004687,-0.005029)" fill="#262626"/><text transform="translate(80.16,447.39) scale(0.932,1)" x="0.00 3.43 8.53 11.59 17.60" fill="#262626">-0.2 </text><path d="M478 0V1170L140 959V1180L493 1409H759V0Z" transform="translate(96.56,447.39) scale(0.004687,-0.005029)" fill="#262626"/><text transform="translate(106.82,447.39) scale(0.932,1)" x="0.00 3.43 8.53 11.59 17.60" fill="#262626">-0. 4</text><path d="M478 0V1170L140 959V1180L493 1409H759V0Z" transform="translate(117.62,447.39) scale(0.004687,-0.005029)" fill="#262626"/><text transform="translate(133.48,447.39) scale(0.932,1)" x="0.00 3.43 8.53 11.59 17.60" fill="#262626">-0.22</text><text transform="translate(161.74,447.39) scale(0.932,1)" x="0.00 5.10 8.15 14.16" fill="#262626">0.27</text><text transform="translate(188.40,447.39) scale(0.932,1)" x="0.00 5.10 8.15 14.16" fill="#262626">0.49</text><text transform="translate(215.06,447.39) scale(0.932,1)" x="0.00 5.10 8.15 14.16" fill="#262626">0. 9</text><path d="M478 0V1170L140 959V1180L493 1409H759V0Z" transform="translate(222.66,447.39) scale(0.004687,-0.005029)" fill="#262626"/><text transform="translate(240.12,447.39) scale(0.932,1)" x="0.00 3.43 8.53 11.59 17.60" fill="#262626">-0.05</text><text transform="translate(268.38,447.39) scale(0.932,1)" x="0.00 5.10 8.15 14.16" fill="#ffffff">0.77</text><text transform="translate(293.44,447.39) scale(0.932,1)" x="0.00 3.43 8.53 11.59 17.60" fill="#262626">-0.2 </text><path d="M478 0V1170L140 959V1180L493 1409H759V0Z" transform="translate(309.84,447.39) scale(0.004687,-0.005029)" fill="#262626"/><text transform="translate(320.10,447.39) scale(0.932,1)" x="0.00 3.43 8.53 11.59 17.60" fill="#262626">-0.08</text><text transform="translate(346.76,447.39) scale(0.932,1)" x="0.00 3.43 8.53 11.59 17.60" fill="#262626">-0.08</text><text transform="translate(375.02,447.39) scale(0.932,1)" x="0.00 5.10 8.15 14.16" fill="#262626">0.  </text><path d="M478 0V1170L140 959V1180L493 1409H759V0Z" transform="translate(382.62,447.39) scale(0.004687,-0.005029)" fill="#262626"/><path d="M478 0V1170L140 959V1180L493 1409H759V0Z" transform="translate(388.22,447.39) scale(0.004687,-0.005029)" fill="#262626"/><text transform="translate(400.08,447.39) scale(0.932,1)" x="0.00 3.43 8.53 11.59 17.60" fill="#262626">-0. 2</text><path d="M478 0V1170L140 959V1180L493 1409H759V0Z" transform="translate(410.88,447.39) scale(0.004687,-0.005029)" fill="#262626"/><text transform="translate(426.74,447.39) scale(0.932,1)" x="0.00 3.43 8.53 11.59 17.60" fill="#262626">-0.06</text><text transform="translate(455.00,447.39) scale(0.932,1)" x="0.00 5.10 8.15 14.16" fill="#262626">0.03</text><text transform="translate(480.06,447.39) scale(0.932,1)" x="0.00 3.43 8.53 11.59 17.60" fill="#262626">-0. 8</text><path d="M478 0V1170L140 959V1180L493 1409H759V0Z" transform="translate(490.86,447.39) scale(0.004687,-0.005029)" fill="#262626"/><text transform="translate(508.32,447.39) scale(0.932,1)" x="0.00 5.10 8.15 14.16" fill="#ffffff"> .00</text><path d="M478 0V1170L140 959V1180L493 1409H759V0Z" transform="translate(508.32,447.39) scale(0.004687,-0.005029)" fill="#ffffff"/><text transform="translate(534.98,447.39) scale(0.932,1)" x="0.00 5.10 8.15 14.16" fill="#262626">0.22</text><text transform="translate(560.04,447.39) scale(0.932,1)" x="0.00 3.43 8.53 11.59 17.60" fill="#262626">-0.03</text><text transform="translate(81.76,474.05) scale(0.932,1)" x="0.00 5.10 8.15 14.16" fill="#262626">0.24</text><text transform="translate(106.82,474.05) scale(0.932,1)" x="0.00 3.43 8.53 11.59 17.60" fill="#262626">-0. 0</text><path d="M478 0V1170L140 959V1180L493 1409H759V0Z" transform="translate(117.62,474.05) scale(0.004687,-0.005029)" fill="#262626"/><text transform="translate(133.48,474.05) scale(0.932,1)" x="0.00 3.43 8.53 11.59 17.60" fill="#262626">-0.37</text><text transform="translate(160.14,474.05) scale(0.932,1)" x="0.00 3.43 8.53 11.59 17.60" fill="#262626">-0. 6</text><path d="M478 0V1170L140 959V1180L493 1409H759V0Z" transform="translate(170.94,474.05) scale(0.004687,-0.005029)" fill="#262626"/><text transform="translate(188.40,474.05) scale(0.932,1)" x="0.00 5.10 8.15 14.16" fill="#262626">0.42</text><text transform="translate(215.06,474.05) scale(0.932,1)" x="0.00 5.10 8.15 14.16" fill="#262626">0.26</text><text transform="translate(241.72,474.05) scale(0.932,1)" x="0.00 5.10 8.15 14.16" fill="#262626">0.29</text><text transform="translate(268.38,474.05) scale(0.932,1)" x="0.00 5.10 8.15 14.16" fill="#262626">0.29</text><text transform="translate(293.44,474.05) scale(0.932,1)" x="0.00 3.43 8.53 11.59 17.60" fill="#ffffff">-0.43</text><text transform="translate(321.70,474.05) scale(0.932,1)" x="0.00 5.10 8.15 14.16" fill="#262626">0.06</text><text transform="translate(348.36,474.05) scale(0.932,1)" x="0.00 5.10 8.15 14.16" fill="#262626">0.05</text><text transform="translate(375.02,474.05) scale(0.932,1)" x="0.00 5.10 8.15 14.16" fill="#262626">0. 4</text><path d="M478 0V1170L140 959V1180L493 1409H759V0Z" transform="translate(382.62,474.05) scale(0.004687,-0.005029)" fill="#262626"/><text transform="translate(401.68,474.05) scale(0.932,1)" x="0.00 5.10 8.15 14.16" fill="#262626">0.29</text><text transform="translate(426.74,474.05) scale(0.932,1)" x="0.00 3.43 8.53 11.59 17.60" fill="#262626">-0.04</text><text transform="translate(453.40,474.05) scale(0.932,1)" x="0.00 3.43 8.53 11.59 17.60" fill="#262626">-0. 4</text><path d="M478 0V1170L140 959V1180L493 1409H759V0Z" transform="translate(464.20,474.05) scale(0.004687,-0.005029)" fill="#262626"/><text transform="translate(480.06,474.05) scale(0.932,1)" x="0.00 3.43 8.53 11.59 17.60" fill="#262626">-0.32</text><text transform="translate(508.32,474.05) scale(0.932,1)" x="0.00 5.10 8.15 14.16" fill="#262626">0.22</text><text transform="translate(534.98,474.05) scale(0.932,1)" x="0.00 5.10 8.15 14.16" fill="#ffffff"> .00</text><path d="M478 0V1170L140 959V1180L493 1409H759V0Z" transform="translate(534.98,474.05) scale(0.004687,-0.005029)" fill="#ffffff"/><text transform="translate(560.04,474.05) scale(0.932,1)" x="0.00 3.43 8.53 11.59 17.60" fill="#262626">-0. 7</text><path d="M478 0V1170L140 959V1180L493 1409H759V0Z" transform="translate(570.84,474.05) scale(0.004687,-0.005029)" fill="#262626"/><text transform="translate(80.16,500.71) scale(0.932,1)" x="0.00 3.43 8.53 11.59 17.60" fill="#262626">-0.08</text><text transform="translate(108.42,500.71) scale(0.932,1)" x="0.00 5.10 8.15 14.16" fill="#262626">0.09</text><text transform="translate(135.08,500.71) scale(0.932,1)" x="0.00 5.10 8.15 14.16" fill="#262626">0.  </text><path d="M478 0V1170L140 959V1180L493 1409H759V0Z" transform="translate(142.68,500.71) scale(0.004687,-0.005029)" fill="#262626"/><path d="M478 0V1170L140 959V1180L493 1409H759V0Z" transform="translate(148.28,500.71) scale(0.004687,-0.005029)" fill="#262626"/><text transform="translate(161.74,500.71) scale(0.932,1)" x="0.00 5.10 8.15 14.16" fill="#262626">0.06</text><text transform="translate(186.80,500.71) scale(0.932,1)" x="0.00 3.43 8.53 11.59 17.60" fill="#262626">-0.  </text><path d="M478 0V1170L140 959V1180L493 1409H759V0Z" transform="translate(197.60,500.71) scale(0.004687,-0.005029)" fill="#262626"/><path d="M478 0V1170L140 959V1180L493 1409H759V0Z" transform="translate(203.20,500.71) scale(0.004687,-0.005029)" fill="#262626"/><text transform="translate(213.46,500.71) scale(0.932,1)" x="0.00 3.43 8.53 11.59 17.60" fill="#262626">-0. 0</text><path d="M478 0V1170L140 959V1180L493 1409H759V0Z" transform="translate(224.26,500.71) scale(0.004687,-0.005029)" fill="#262626"/><text transform="translate(240.12,500.71) scale(0.932,1)" x="0.00 3.43 8.53 11.59 17.60" fill="#262626">-0.05</text><text transform="translate(266.78,500.71) scale(0.932,1)" x="0.00 3.43 8.53 11.59 17.60" fill="#262626">-0.08</text><text transform="translate(295.04,500.71) scale(0.932,1)" x="0.00 5.10 8.15 14.16" fill="#262626">0. 2</text><path d="M478 0V1170L140 959V1180L493 1409H759V0Z" transform="translate(302.64,500.71) scale(0.004687,-0.005029)" fill="#262626"/><text transform="translate(320.10,500.71) scale(0.932,1)" x="0.00 3.43 8.53 11.59 17.60" fill="#262626">-0.08</text><text transform="translate(348.36,500.71) scale(0.932,1)" x="0.00 5.10 8.15 14.16" fill="#262626">0. 0</text><path d="M478 0V1170L140 959V1180L493 1409H759V0Z" transform="translate(355.96,500.71) scale(0.004687,-0.005029)" fill="#262626"/><text transform="translate(373.42,500.71) scale(0.932,1)" x="0.00 3.43 8.53 11.59 17.60" fill="#262626">-0.09</text><text transform="translate(400.08,500.71) scale(0.932,1)" x="0.00 3.43 8.53 11.59 17.60" fill="#262626">-0.06</text><text transform="translate(426.74,500.71) scale(0.932,1)" x="0.00 3.43 8.53 11.59 17.60" fill="#262626">-0.05</text><text transform="translate(453.40,500.71) scale(0.932,1)" x="0.00 3.43 8.53 11.59 17.60" fill="#262626">-0.2 </text><path d="M478 0V1170L140 959V1180L493 1409H759V0Z" transform="translate(469.80,500.71) scale(0.004687,-0.005029)" fill="#262626"/><text transform="translate(480.06,500.71) scale(0.932,1)" x="0.00 3.43 8.53 11.59 17.60" fill="#262626">-0.2 </text><path d="M478 0V1170L140 959V1180L493 1409H759V0Z" transform="translate(496.46,500.71) scale(0.004687,-0.005029)" fill="#262626"/><text transform="translate(506.72,500.71) scale(0.932,1)" x="0.00 3.43 8.53 11.59 17.60" fill="#262626">-0.03</text><text transform="translate(533.38,500.71) scale(0.932,1)" x="0.00 3.43 8.53 11.59 17.60" fill="#262626">-0. 7</text><path d="M478 0V1170L140 959V1180L493 1409H759V0Z" transform="translate(544.18,500.71) scale(0.004687,-0.005029)" fill="#262626"/><text transform="translate(561.64,500.71) scale(0.932,1)" x="0.00 5.10 8.15 14.16" fill="#ffffff"> .00</text><path d="M478 0V1170L140 959V1180L493 1409H759V0Z" transform="translate(561.64,500.71) scale(0.004687,-0.005029)" fill="#ffffff"/></g>
<g stroke="#3d3d3d" stroke-width="1"><line x1="73.70" y1="18.50" x2="77.60" y2="18.50"/><line x1="90.50" y1="511.04" x2="90.50" y2="514.94"/><line x1="73.70" y1="44.50" x2="77.60" y2="44.50"/><line x1="117.50" y1="511.04" x2="117.50" y2="514.94"/><line x1="73.70" y1="71.50" x2="77.60" y2="71.50"/><line x1="144.50" y1="511.04" x2="144.50" y2="514.94"/><line x1="73.70" y1="98.50" x2="77.60" y2="98.50"/><line x1="170.50" y1="511.04" x2="170.50" y2="514.94"/><line x1="73.70" y1="124.50" x2="77.60" y2="124.50"/><line x1="197.50" y1="511.04" x2="197.50" y2="514.94"/><line x1="73.70" y1="151.50" x2="77.60" y2="151.50"/><line x1="224.50" y1="511.04" x2="224.50" y2="514.94"/><line x1="73.70" y1="177.50" x2="77.60" y2="177.50"/><line x1="250.50" y1="511.04" x2="250.50" y2="514.94"/><line x1="73.70" y1="204.50" x2="77.60" y2="204.50"/><line x1="277.50" y1="511.04" x2="277.50" y2="514.94"/><line x1="73.70" y1="231.50" x2="77.60" y2="231.50"/><line x1="304.50" y1="511.04" x2="304.50" y2="514.94"/><line x1="73.70" y1="257.50" x2="77.60" y2="257.50"/><line x1="330.50" y1="511.04" x2="330.50" y2="514.94"/><line x1="73.70" y1="284.50" x2="77.60" y2="284.50"/><line x1="357.50" y1="511.04" x2="357.50" y2="514.94"/><line x1="73.70" y1="311.50" x2="77.60" y2="311.50"/><line x1="384.50" y1="511.04" x2="384.50" y2="514.94"/><line x1="73.70" y1="337.50" x2="77.60" y2="337.50"/><line x1="410.50" y1="511.04" x2="410.50" y2="514.94"/><line x1="73.70" y1="364.50" x2="77.60" y2="364.50"/><line x1="437.50" y1="511.04" x2="437.50" y2="514.94"/><line x1="73.70" y1="391.50" x2="77.60" y2="391.50"/><line x1="464.50" y1="511.04" x2="464.50" y2="514.94"/><line x1="73.70" y1="417.50" x2="77.60" y2="417.50"/><line x1="490.50" y1="511.04" x2="490.50" y2="514.94"/><line x1="73.70" y1="444.50" x2="77.60" y2="444.50"/><line x1="517.50" y1="511.04" x2="517.50" y2="514.94"/><line x1="73.70" y1="471.50" x2="77.60" y2="471.50"/><line x1="544.50" y1="511.04" x2="544.50" y2="514.94"/><line x1="73.70" y1="497.50" x2="77.60" y2="497.50"/><line x1="570.50" y1="511.04" x2="570.50" y2="514.94"/></g>
<g font-family="Liberation Sans, sans-serif" font-weight="bold" font-size="13.6" text-anchor="middle" fill="#1a1a1a" stroke="#1a1a1a" stroke-width="0.45"><text transform="translate(67.30,20.03) rotate(-90) scale(0.9472794117647059,1)">Ni</text><text transform="translate(90.93,529.34) scale(0.9472794117647059,1)">Ni</text><text transform="translate(67.30,46.69) rotate(-90) scale(0.7599264705882354,1)">Cr</text><text transform="translate(117.59,529.34) scale(0.7599264705882354,1)">Cr</text><text transform="translate(67.30,73.35) rotate(-90) scale(0.9004411764705882,1)">Nb</text><text transform="translate(144.25,529.34) scale(0.9004411764705882,1)">Nb</text><text transform="translate(67.30,100.01) rotate(-90) scale(0.8851470588235295,1)">Mo</text><text transform="translate(170.91,529.34) scale(0.8851470588235295,1)">Mo</text><text transform="translate(67.30,126.67) rotate(-90) scale(0.8306617647058824,1)">Ti</text><text transform="translate(197.57,529.34) scale(0.8306617647058824,1)">Ti</text><text transform="translate(67.30,153.33) rotate(-90) scale(0.8058088235294117,1)">Al</text><text transform="translate(224.23,529.34) scale(0.8058088235294117,1)">Al</text><text transform="translate(67.30,179.99) rotate(-90) scale(0.6977941176470589,1)">C</text><text transform="translate(250.89,529.34) scale(0.6977941176470589,1)">C</text><text transform="translate(67.30,206.65) rotate(-90) scale(0.76375,1)">Co</text><text transform="translate(277.55,529.34) scale(0.76375,1)">Co</text><text transform="translate(67.30,233.31) rotate(-90) scale(0.7455882352941177,1)">Fe</text><text transform="translate(304.21,529.34) scale(0.7455882352941177,1)">Fe</text><text transform="translate(67.30,259.97) rotate(-90) scale(0.9061764705882354,1)">W</text><text transform="translate(330.87,529.34) scale(0.9061764705882354,1)">W</text><text transform="translate(67.30,286.63) rotate(-90) scale(0.7494117647058823,1)">Si</text><text transform="translate(357.53,529.34) scale(0.7494117647058823,1)">Si</text><text transform="translate(67.30,313.29) rotate(-90) scale(0.66625,1)">ST</text><text transform="translate(384.19,529.34) scale(0.66625,1)">ST</text><text transform="translate(67.30,339.95) rotate(-90) scale(0.7780882352941176,1)">STi</text><text transform="translate(410.85,529.34) scale(0.7780882352941176,1)">STi</text><text transform="translate(67.30,366.61) rotate(-90) scale(0.7685294117647059,1)">AP</text><text transform="translate(437.51,529.34) scale(0.7685294117647059,1)">AP</text><text transform="translate(67.30,393.27) rotate(-90) scale(0.725514705882353,1)">SR</text><text transform="translate(464.17,529.34) scale(0.725514705882353,1)">SR</text><text transform="translate(67.30,419.93) rotate(-90) scale(0.7130882352941177,1)">PS</text><text transform="translate(490.83,529.34) scale(0.7130882352941177,1)">PS</text><text transform="translate(67.30,446.59) rotate(-90) scale(0.7312500000000001,1)">SRa</text><text transform="translate(517.49,529.34) scale(0.7312500000000001,1)">SRa</text><text transform="translate(67.30,473.25) rotate(-90) scale(0.644264705882353,1)">ET</text><text transform="translate(544.15,529.34) scale(0.644264705882353,1)">ET</text><text transform="translate(67.30,499.91) rotate(-90) scale(0.6958823529411765,1)">LCF</text><text transform="translate(570.81,529.34) scale(0.6958823529411765,1)">LCF</text></g>
<defs><linearGradient id="ga" x1="0" y1="0" x2="0" y2="1"><stop offset="0.0000" stop-color="#313695"/><stop offset="0.0156" stop-color="#333d99"/><stop offset="0.0312" stop-color="#36479e"/><stop offset="0.0469" stop-color="#3a51a2"/><stop offset="0.0625" stop-color="#3d5ba7"/><stop offset="0.0781" stop-color="#4065ac"/><stop offset="0.0938" stop-color="#436fb1"/><stop offset="0.1094" stop-color="#4878b6"/><stop offset="0.1250" stop-color="#4f81ba"/><stop offset="0.1406" stop-color="#578abf"/><stop offset="0.1562" stop-color="#5e93c3"/><stop offset="0.1719" stop-color="#659bc8"/><stop offset="0.1875" stop-color="#6da4cc"/><stop offset="0.2031" stop-color="#74add1"/><stop offset="0.2188" stop-color="#7db4d5"/><stop offset="0.2344" stop-color="#85bbd9"/><stop offset="0.2500" stop-color="#8ec2dc"/><stop offset="0.2656" stop-color="#97c9e0"/><stop offset="0.2812" stop-color="#9fd0e4"/><stop offset="0.2969" stop-color="#a8d6e8"/><stop offset="0.3125" stop-color="#b0dcea"/><stop offset="0.3281" stop-color="#b9e0ed"/><stop offset="0.3438" stop-color="#c1e4ef"/><stop offset="0.3594" stop-color="#c9e8f2"/><stop offset="0.3750" stop-color="#d1ecf4"/><stop offset="0.3906" stop-color="#daf0f6"/><stop offset="0.4062" stop-color="#e1f3f6"/><stop offset="0.4219" stop-color="#e6f5ed"/><stop offset="0.4375" stop-color="#ebf7e4"/><stop offset="0.4531" stop-color="#f0f9db"/><stop offset="0.4688" stop-color="#f5fbd2"/><stop offset="0.4844" stop-color="#fafdc9"/><stop offset="0.5000" stop-color="#feffc0"/><stop offset="0.5156" stop-color="#fffbb9"/><stop offset="0.5312" stop-color="#fff6b1"/><stop offset="0.5469" stop-color="#fff1aa"/><stop offset="0.5625" stop-color="#feeca2"/><stop offset="0.5781" stop-color="#fee79b"/><stop offset="0.5938" stop-color="#fee294"/><stop offset="0.6094" stop-color="#fedc8c"/><stop offset="0.6250" stop-color="#fed485"/><stop offset="0.6406" stop-color="#fecc7e"/><stop offset="0.6562" stop-color="#fdc576"/><stop offset="0.6719" stop-color="#fdbd6f"/><stop offset="0.6875" stop-color="#fdb567"/><stop offset="0.7031" stop-color="#fdad60"/><stop offset="0.7188" stop-color="#fba35c"/><stop offset="0.7344" stop-color="#fa9857"/><stop offset="0.7500" stop-color="#f98e52"/><stop offset="0.7656" stop-color="#f7844e"/><stop offset="0.7812" stop-color="#f67a49"/><stop offset="0.7969" stop-color="#f47044"/><stop offset="0.8125" stop-color="#f16640"/><stop offset="0.8281" stop-color="#ec5c3b"/><stop offset="0.8438" stop-color="#e75337"/><stop offset="0.8594" stop-color="#e34933"/><stop offset="0.8750" stop-color="#de402e"/><stop offset="0.8906" stop-color="#da362a"/><stop offset="0.9062" stop-color="#d42d27"/><stop offset="0.9219" stop-color="#cc2627"/><stop offset="0.9375" stop-color="#c41e27"/><stop offset="0.9531" stop-color="#bd1726"/><stop offset="0.9688" stop-color="#b50f26"/><stop offset="0.9844" stop-color="#ad0826"/><stop offset="1.0000" stop-color="#a50026"/></linearGradient></defs>
<rect x="621.7" y="4.3" width="25.20" height="506.50" fill="url(#ga)"/>
<g stroke="#505050" stroke-width="1"><line x1="646.90" y1="4.50" x2="650.80" y2="4.50"/><line x1="646.90" y1="71.50" x2="650.80" y2="71.50"/><line x1="646.90" y1="138.50" x2="650.80" y2="138.50"/><line x1="646.90" y1="204.50" x2="650.80" y2="204.50"/><line x1="646.90" y1="271.50" x2="650.80" y2="271.50"/><line x1="646.90" y1="338.50" x2="650.80" y2="338.50"/><line x1="646.90" y1="404.50" x2="650.80" y2="404.50"/><line x1="646.90" y1="471.50" x2="650.80" y2="471.50"/></g>
<g font-family="Liberation Sans, sans-serif" font-size="14.6" fill="#262626" stroke="#262626" stroke-width="0.15"><text transform="translate(655.10,10.20) scale(0.74,1)" dx="0 1.00 0.00 1.00"> .00</text><path d="M515 0V1237L197 1010V1180L530 1409H696V0Z" transform="translate(655.10,10.20) scale(0.005275,-0.007129)" vector-effect="non-scaling-stroke"/><text transform="translate(655.10,76.84) scale(0.74,1)" dx="0 1.00 0.00 1.00">0.75</text><text transform="translate(655.10,143.49) scale(0.74,1)" dx="0 1.00 0.00 1.00">0.50</text><text transform="translate(655.10,210.13) scale(0.74,1)" dx="0 1.00 0.00 1.00">0.25</text><text transform="translate(655.10,276.78) scale(0.74,1)" dx="0 1.00 0.00 1.00">0.00</text><text transform="translate(655.60,343.42) scale(0.74,1)" dx="0 0.40 1.00 0.00 1.00">−0.25</text><text transform="translate(655.60,410.07) scale(0.74,1)" dx="0 0.40 1.00 0.00 1.00">−0.50</text><text transform="translate(655.60,476.71) scale(0.74,1)" dx="0 0.40 1.00 0.00 1.00">−0.75</text></g>
<text x="0.0" y="29.8" font-family="Liberation Serif, serif" font-size="27" letter-spacing="0.5" fill="#000">(a)</text>
<g><rect x="77.95" y="554.05" width="24.56" height="24.56" fill="#313695"/><rect x="104.61" y="554.05" width="24.56" height="24.56" fill="#de402e"/><rect x="131.27" y="554.05" width="24.56" height="24.56" fill="#d42d27"/><rect x="157.93" y="554.05" width="24.56" height="24.56" fill="#fdc173"/><rect x="184.59" y="554.05" width="24.56" height="24.56" fill="#588cc0"/><rect x="211.25" y="554.05" width="24.56" height="24.56" fill="#8cc0db"/><rect x="237.91" y="554.05" width="24.56" height="24.56" fill="#fdc576"/><rect x="264.57" y="554.05" width="24.56" height="24.56" fill="#fee99d"/><rect x="291.23" y="554.05" width="24.56" height="24.56" fill="#bd1726"/><rect x="317.89" y="554.05" width="24.56" height="24.56" fill="#c5e6f0"/><rect x="344.55" y="554.05" width="24.56" height="24.56" fill="#fdb366"/><rect x="371.21" y="554.05" width="24.56" height="24.56" fill="#92c5de"/><rect x="397.87" y="554.05" width="24.56" height="24.56" fill="#4167ad"/><rect x="424.53" y="554.05" width="24.56" height="24.56" fill="#6095c4"/><rect x="451.19" y="554.05" width="24.56" height="24.56" fill="#fff0a8"/><rect x="477.85" y="554.05" width="24.56" height="24.56" fill="#fff2ac"/><rect x="504.51" y="554.05" width="24.56" height="24.56" fill="#fecc7e"/><rect x="531.17" y="554.05" width="24.56" height="24.56" fill="#e0f3f8"/><rect x="557.83" y="554.05" width="24.56" height="24.56" fill="#fee99d"/><rect x="77.95" y="580.71" width="24.56" height="24.56" fill="#de402e"/><rect x="104.61" y="580.71" width="24.56" height="24.56" fill="#313695"/><rect x="131.27" y="580.71" width="24.56" height="24.56" fill="#4a7ab7"/><rect x="157.93" y="580.71" width="24.56" height="24.56" fill="#9fd0e4"/><rect x="184.59" y="580.71" width="24.56" height="24.56" fill="#e44c34"/><rect x="211.25" y="580.71" width="24.56" height="24.56" fill="#a90426"/><rect x="237.91" y="580.71" width="24.56" height="24.56" fill="#a6d5e7"/><rect x="264.57" y="580.71" width="24.56" height="24.56" fill="#fdb164"/><rect x="291.23" y="580.71" width="24.56" height="24.56" fill="#679ec9"/><rect x="317.89" y="580.71" width="24.56" height="24.56" fill="#d42d27"/><rect x="344.55" y="580.71" width="24.56" height="24.56" fill="#c7e7f1"/><rect x="371.21" y="580.71" width="24.56" height="24.56" fill="#ce2827"/><rect x="397.87" y="580.71" width="24.56" height="24.56" fill="#fb9d59"/><rect x="424.53" y="580.71" width="24.56" height="24.56" fill="#f88c51"/><rect x="451.19" y="580.71" width="24.56" height="24.56" fill="#fb9d59"/><rect x="477.85" y="580.71" width="24.56" height="24.56" fill="#fdc576"/><rect x="504.51" y="580.71" width="24.56" height="24.56" fill="#fede8e"/><rect x="531.17" y="580.71" width="24.56" height="24.56" fill="#fee496"/><rect x="557.83" y="580.71" width="24.56" height="24.56" fill="#fafdc9"/><rect x="77.95" y="607.37" width="24.56" height="24.56" fill="#d42d27"/><rect x="104.61" y="607.37" width="24.56" height="24.56" fill="#4a7ab7"/><rect x="131.27" y="607.37" width="24.56" height="24.56" fill="#313695"/><rect x="157.93" y="607.37" width="24.56" height="24.56" fill="#87bdd9"/><rect x="184.59" y="607.37" width="24.56" height="24.56" fill="#be1827"/><rect x="211.25" y="607.37" width="24.56" height="24.56" fill="#a50026"/><rect x="237.91" y="607.37" width="24.56" height="24.56" fill="#feeca2"/><rect x="264.57" y="607.37" width="24.56" height="24.56" fill="#e95538"/><rect x="291.23" y="607.37" width="24.56" height="24.56" fill="#35429b"/><rect x="317.89" y="607.37" width="24.56" height="24.56" fill="#e0422f"/><rect x="344.55" y="607.37" width="24.56" height="24.56" fill="#e9f6e8"/><rect x="371.21" y="607.37" width="24.56" height="24.56" fill="#b71126"/><rect x="397.87" y="607.37" width="24.56" height="24.56" fill="#f57547"/><rect x="424.53" y="607.37" width="24.56" height="24.56" fill="#fdb164"/><rect x="451.19" y="607.37" width="24.56" height="24.56" fill="#fed889"/><rect x="477.85" y="607.37" width="24.56" height="24.56" fill="#feeba1"/><rect x="504.51" y="607.37" width="24.56" height="24.56" fill="#fec87a"/><rect x="531.17" y="607.37" width="24.56" height="24.56" fill="#fb9d59"/><rect x="557.83" y="607.37" width="24.56" height="24.56" fill="#f6fbd0"/><rect x="77.95" y="634.03" width="24.56" height="24.56" fill="#fdc173"/><rect x="104.61" y="634.03" width="24.56" height="24.56" fill="#9fd0e4"/><rect x="131.27" y="634.03" width="24.56" height="24.56" fill="#87bdd9"/><rect x="157.93" y="634.03" width="24.56" height="24.56" fill="#313695"/><rect x="184.59" y="634.03" width="24.56" height="24.56" fill="#feeda4"/><rect x="211.25" y="634.03" width="24.56" height="24.56" fill="#c62027"/><rect x="237.91" y="634.03" width="24.56" height="24.56" fill="#fed485"/><rect x="264.57" y="634.03" width="24.56" height="24.56" fill="#fed485"/><rect x="291.23" y="634.03" width="24.56" height="24.56" fill="#bde2ee"/><rect x="317.89" y="634.03" width="24.56" height="24.56" fill="#a50026"/><rect x="344.55" y="634.03" width="24.56" height="24.56" fill="#fff5af"/><rect x="371.21" y="634.03" width="24.56" height="24.56" fill="#eb5a3a"/><rect x="397.87" y="634.03" width="24.56" height="24.56" fill="#fffcba"/><rect x="424.53" y="634.03" width="24.56" height="24.56" fill="#cbe9f2"/><rect x="451.19" y="634.03" width="24.56" height="24.56" fill="#fedc8c"/><rect x="477.85" y="634.03" width="24.56" height="24.56" fill="#fed485"/><rect x="504.51" y="634.03" width="24.56" height="24.56" fill="#d8eff6"/><rect x="531.17" y="634.03" width="24.56" height="24.56" fill="#fedc8c"/><rect x="557.83" y="634.03" width="24.56" height="24.56" fill="#fcfec5"/><rect x="77.95" y="660.69" width="24.56" height="24.56" fill="#588cc0"/><rect x="104.61" y="660.69" width="24.56" height="24.56" fill="#e44c34"/><rect x="131.27" y="660.69" width="24.56" height="24.56" fill="#be1827"/><rect x="157.93" y="660.69" width="24.56" height="24.56" fill="#feeda4"/><rect x="184.59" y="660.69" width="24.56" height="24.56" fill="#313695"/><rect x="211.25" y="660.69" width="24.56" height="24.56" fill="#7db4d5"/><rect x="237.91" y="660.69" width="24.56" height="24.56" fill="#fee090"/><rect x="264.57" y="660.69" width="24.56" height="24.56" fill="#a3d3e6"/><rect x="291.23" y="660.69" width="24.56" height="24.56" fill="#a70226"/><rect x="317.89" y="660.69" width="24.56" height="24.56" fill="#e0f3f8"/><rect x="344.55" y="660.69" width="24.56" height="24.56" fill="#fdc173"/><rect x="371.21" y="660.69" width="24.56" height="24.56" fill="#8cc0db"/><rect x="397.87" y="660.69" width="24.56" height="24.56" fill="#5e93c3"/><rect x="424.53" y="660.69" width="24.56" height="24.56" fill="#85bbd9"/><rect x="451.19" y="660.69" width="24.56" height="24.56" fill="#fff1aa"/><rect x="477.85" y="660.69" width="24.56" height="24.56" fill="#fed485"/><rect x="504.51" y="660.69" width="24.56" height="24.56" fill="#9dcee3"/><rect x="531.17" y="660.69" width="24.56" height="24.56" fill="#aedbea"/><rect x="557.83" y="660.69" width="24.56" height="24.56" fill="#fee496"/><rect x="77.95" y="687.35" width="24.56" height="24.56" fill="#8cc0db"/><rect x="104.61" y="687.35" width="24.56" height="24.56" fill="#a90426"/><rect x="131.27" y="687.35" width="24.56" height="24.56" fill="#a50026"/><rect x="157.93" y="687.35" width="24.56" height="24.56" fill="#c62027"/><rect x="184.59" y="687.35" width="24.56" height="24.56" fill="#7db4d5"/><rect x="211.25" y="687.35" width="24.56" height="24.56" fill="#313695"/><rect x="237.91" y="687.35" width="24.56" height="24.56" fill="#fee294"/><rect x="264.57" y="687.35" width="24.56" height="24.56" fill="#97c9e0"/><rect x="291.23" y="687.35" width="24.56" height="24.56" fill="#cc2627"/><rect x="317.89" y="687.35" width="24.56" height="24.56" fill="#3e60aa"/><rect x="344.55" y="687.35" width="24.56" height="24.56" fill="#fecc7e"/><rect x="371.21" y="687.35" width="24.56" height="24.56" fill="#4878b6"/><rect x="397.87" y="687.35" width="24.56" height="24.56" fill="#d8eff6"/><rect x="424.53" y="687.35" width="24.56" height="24.56" fill="#f7fcce"/><rect x="451.19" y="687.35" width="24.56" height="24.56" fill="#def2f7"/><rect x="477.85" y="687.35" width="24.56" height="24.56" fill="#f2fad6"/><rect x="504.51" y="687.35" width="24.56" height="24.56" fill="#e9f6e8"/><rect x="531.17" y="687.35" width="24.56" height="24.56" fill="#dcf1f7"/><rect x="557.83" y="687.35" width="24.56" height="24.56" fill="#fee699"/><rect x="77.95" y="714.01" width="24.56" height="24.56" fill="#fdc576"/><rect x="104.61" y="714.01" width="24.56" height="24.56" fill="#a6d5e7"/><rect x="131.27" y="714.01" width="24.56" height="24.56" fill="#feeca2"/><rect x="157.93" y="714.01" width="24.56" height="24.56" fill="#fed485"/><rect x="184.59" y="714.01" width="24.56" height="24.56" fill="#fee090"/><rect x="211.25" y="714.01" width="24.56" height="24.56" fill="#fee294"/><rect x="237.91" y="714.01" width="24.56" height="24.56" fill="#313695"/><rect x="264.57" y="714.01" width="24.56" height="24.56" fill="#cfebf3"/><rect x="291.23" y="714.01" width="24.56" height="24.56" fill="#fee99d"/><rect x="317.89" y="714.01" width="24.56" height="24.56" fill="#fee79b"/><rect x="344.55" y="714.01" width="24.56" height="24.56" fill="#6da4cc"/><rect x="371.21" y="714.01" width="24.56" height="24.56" fill="#fffab7"/><rect x="397.87" y="714.01" width="24.56" height="24.56" fill="#fed081"/><rect x="424.53" y="714.01" width="24.56" height="24.56" fill="#fb9d59"/><rect x="451.19" y="714.01" width="24.56" height="24.56" fill="#fffebe"/><rect x="477.85" y="714.01" width="24.56" height="24.56" fill="#fff2ac"/><rect x="504.51" y="714.01" width="24.56" height="24.56" fill="#feeca2"/><rect x="531.17" y="714.01" width="24.56" height="24.56" fill="#d6eef5"/><rect x="557.83" y="714.01" width="24.56" height="24.56" fill="#feeca2"/><rect x="77.95" y="740.67" width="24.56" height="24.56" fill="#fee99d"/><rect x="104.61" y="740.67" width="24.56" height="24.56" fill="#fdb164"/><rect x="131.27" y="740.67" width="24.56" height="24.56" fill="#e95538"/><rect x="157.93" y="740.67" width="24.56" height="24.56" fill="#fed485"/><rect x="184.59" y="740.67" width="24.56" height="24.56" fill="#a3d3e6"/><rect x="211.25" y="740.67" width="24.56" height="24.56" fill="#97c9e0"/><rect x="237.91" y="740.67" width="24.56" height="24.56" fill="#cfebf3"/><rect x="264.57" y="740.67" width="24.56" height="24.56" fill="#313695"/><rect x="291.23" y="740.67" width="24.56" height="24.56" fill="#f57547"/><rect x="317.89" y="740.67" width="24.56" height="24.56" fill="#def2f7"/><rect x="344.55" y="740.67" width="24.56" height="24.56" fill="#fff7b3"/><rect x="371.21" y="740.67" width="24.56" height="24.56" fill="#9fd0e4"/><rect x="397.87" y="740.67" width="24.56" height="24.56" fill="#fed485"/><rect x="424.53" y="740.67" width="24.56" height="24.56" fill="#fed081"/><rect x="451.19" y="740.67" width="24.56" height="24.56" fill="#e9f6e8"/><rect x="477.85" y="740.67" width="24.56" height="24.56" fill="#fffebe"/><rect x="504.51" y="740.67" width="24.56" height="24.56" fill="#5183bb"/><rect x="531.17" y="740.67" width="24.56" height="24.56" fill="#d4edf4"/><rect x="557.83" y="740.67" width="24.56" height="24.56" fill="#feeba1"/><rect x="77.95" y="767.33" width="24.56" height="24.56" fill="#bd1726"/><rect x="104.61" y="767.33" width="24.56" height="24.56" fill="#679ec9"/><rect x="131.27" y="767.33" width="24.56" height="24.56" fill="#35429b"/><rect x="157.93" y="767.33" width="24.56" height="24.56" fill="#bde2ee"/><rect x="184.59" y="767.33" width="24.56" height="24.56" fill="#a70226"/><rect x="211.25" y="767.33" width="24.56" height="24.56" fill="#cc2627"/><rect x="237.91" y="767.33" width="24.56" height="24.56" fill="#fee99d"/><rect x="264.57" y="767.33" width="24.56" height="24.56" fill="#f57547"/><rect x="291.23" y="767.33" width="24.56" height="24.56" fill="#313695"/><rect x="317.89" y="767.33" width="24.56" height="24.56" fill="#f7814c"/><rect x="344.55" y="767.33" width="24.56" height="24.56" fill="#e4f4f1"/><rect x="371.21" y="767.33" width="24.56" height="24.56" fill="#d22b27"/><rect x="397.87" y="767.33" width="24.56" height="24.56" fill="#db382b"/><rect x="424.53" y="767.33" width="24.56" height="24.56" fill="#f7814c"/><rect x="451.19" y="767.33" width="24.56" height="24.56" fill="#fff5af"/><rect x="477.85" y="767.33" width="24.56" height="24.56" fill="#fffebe"/><rect x="504.51" y="767.33" width="24.56" height="24.56" fill="#fecc7e"/><rect x="531.17" y="767.33" width="24.56" height="24.56" fill="#f88950"/><rect x="557.83" y="767.33" width="24.56" height="24.56" fill="#f5fbd2"/><rect x="77.95" y="793.99" width="24.56" height="24.56" fill="#c5e6f0"/><rect x="104.61" y="793.99" width="24.56" height="24.56" fill="#d42d27"/><rect x="131.27" y="793.99" width="24.56" height="24.56" fill="#e0422f"/><rect x="157.93" y="793.99" width="24.56" height="24.56" fill="#a50026"/><rect x="184.59" y="793.99" width="24.56" height="24.56" fill="#e0f3f8"/><rect x="211.25" y="793.99" width="24.56" height="24.56" fill="#3e60aa"/><rect x="237.91" y="793.99" width="24.56" height="24.56" fill="#fee79b"/><rect x="264.57" y="793.99" width="24.56" height="24.56" fill="#def2f7"/><rect x="291.23" y="793.99" width="24.56" height="24.56" fill="#f7814c"/><rect x="317.89" y="793.99" width="24.56" height="24.56" fill="#313695"/><rect x="344.55" y="793.99" width="24.56" height="24.56" fill="#fedc8c"/><rect x="371.21" y="793.99" width="24.56" height="24.56" fill="#6da4cc"/><rect x="397.87" y="793.99" width="24.56" height="24.56" fill="#fffbb9"/><rect x="424.53" y="793.99" width="24.56" height="24.56" fill="#fede8e"/><rect x="451.19" y="793.99" width="24.56" height="24.56" fill="#d8eff6"/><rect x="477.85" y="793.99" width="24.56" height="24.56" fill="#e0f3f8"/><rect x="504.51" y="793.99" width="24.56" height="24.56" fill="#fee79b"/><rect x="531.17" y="793.99" width="24.56" height="24.56" fill="#fffebe"/><rect x="557.83" y="793.99" width="24.56" height="24.56" fill="#fee79b"/><rect x="77.95" y="820.65" width="24.56" height="24.56" fill="#fdb366"/><rect x="104.61" y="820.65" width="24.56" height="24.56" fill="#c7e7f1"/><rect x="131.27" y="820.65" width="24.56" height="24.56" fill="#e9f6e8"/><rect x="157.93" y="820.65" width="24.56" height="24.56" fill="#fff5af"/><rect x="184.59" y="820.65" width="24.56" height="24.56" fill="#fdc173"/><rect x="211.25" y="820.65" width="24.56" height="24.56" fill="#fecc7e"/><rect x="237.91" y="820.65" width="24.56" height="24.56" fill="#6da4cc"/><rect x="264.57" y="820.65" width="24.56" height="24.56" fill="#fff7b3"/><rect x="291.23" y="820.65" width="24.56" height="24.56" fill="#e4f4f1"/><rect x="317.89" y="820.65" width="24.56" height="24.56" fill="#fedc8c"/><rect x="344.55" y="820.65" width="24.56" height="24.56" fill="#313695"/><rect x="371.21" y="820.65" width="24.56" height="24.56" fill="#fee699"/><rect x="397.87" y="820.65" width="24.56" height="24.56" fill="#fdc778"/><rect x="424.53" y="820.65" width="24.56" height="24.56" fill="#fed081"/><rect x="451.19" y="820.65" width="24.56" height="24.56" fill="#d6eef5"/><rect x="477.85" y="820.65" width="24.56" height="24.56" fill="#fffebe"/><rect x="504.51" y="820.65" width="24.56" height="24.56" fill="#fff1aa"/><rect x="531.17" y="820.65" width="24.56" height="24.56" fill="#fffebe"/><rect x="557.83" y="820.65" width="24.56" height="24.56" fill="#f6fbd0"/><rect x="77.95" y="847.31" width="24.56" height="24.56" fill="#92c5de"/><rect x="104.61" y="847.31" width="24.56" height="24.56" fill="#ce2827"/><rect x="131.27" y="847.31" width="24.56" height="24.56" fill="#b71126"/><rect x="157.93" y="847.31" width="24.56" height="24.56" fill="#eb5a3a"/><rect x="184.59" y="847.31" width="24.56" height="24.56" fill="#8cc0db"/><rect x="211.25" y="847.31" width="24.56" height="24.56" fill="#4878b6"/><rect x="237.91" y="847.31" width="24.56" height="24.56" fill="#fffab7"/><rect x="264.57" y="847.31" width="24.56" height="24.56" fill="#9fd0e4"/><rect x="291.23" y="847.31" width="24.56" height="24.56" fill="#d22b27"/><rect x="317.89" y="847.31" width="24.56" height="24.56" fill="#6da4cc"/><rect x="344.55" y="847.31" width="24.56" height="24.56" fill="#fee699"/><rect x="371.21" y="847.31" width="24.56" height="24.56" fill="#313695"/><rect x="397.87" y="847.31" width="24.56" height="24.56" fill="#cdeaf3"/><rect x="424.53" y="847.31" width="24.56" height="24.56" fill="#cbe9f2"/><rect x="451.19" y="847.31" width="24.56" height="24.56" fill="#d4edf4"/><rect x="477.85" y="847.31" width="24.56" height="24.56" fill="#e0f3f8"/><rect x="504.51" y="847.31" width="24.56" height="24.56" fill="#f5fbd2"/><rect x="531.17" y="847.31" width="24.56" height="24.56" fill="#f1fad9"/><rect x="557.83" y="847.31" width="24.56" height="24.56" fill="#fee99d"/><rect x="77.95" y="873.97" width="24.56" height="24.56" fill="#4167ad"/><rect x="104.61" y="873.97" width="24.56" height="24.56" fill="#fb9d59"/><rect x="131.27" y="873.97" width="24.56" height="24.56" fill="#f57547"/><rect x="157.93" y="873.97" width="24.56" height="24.56" fill="#fffcba"/><rect x="184.59" y="873.97" width="24.56" height="24.56" fill="#5e93c3"/><rect x="211.25" y="873.97" width="24.56" height="24.56" fill="#d8eff6"/><rect x="237.91" y="873.97" width="24.56" height="24.56" fill="#fed081"/><rect x="264.57" y="873.97" width="24.56" height="24.56" fill="#fed485"/><rect x="291.23" y="873.97" width="24.56" height="24.56" fill="#db382b"/><rect x="317.89" y="873.97" width="24.56" height="24.56" fill="#fffbb9"/><rect x="344.55" y="873.97" width="24.56" height="24.56" fill="#fdc778"/><rect x="371.21" y="873.97" width="24.56" height="24.56" fill="#cdeaf3"/><rect x="397.87" y="873.97" width="24.56" height="24.56" fill="#313695"/><rect x="424.53" y="873.97" width="24.56" height="24.56" fill="#588cc0"/><rect x="451.19" y="873.97" width="24.56" height="24.56" fill="#fdc173"/><rect x="477.85" y="873.97" width="24.56" height="24.56" fill="#fdaf62"/><rect x="504.51" y="873.97" width="24.56" height="24.56" fill="#fee496"/><rect x="531.17" y="873.97" width="24.56" height="24.56" fill="#d4edf4"/><rect x="557.83" y="873.97" width="24.56" height="24.56" fill="#feeda4"/><rect x="77.95" y="900.63" width="24.56" height="24.56" fill="#6095c4"/><rect x="104.61" y="900.63" width="24.56" height="24.56" fill="#f88c51"/><rect x="131.27" y="900.63" width="24.56" height="24.56" fill="#fdb164"/><rect x="157.93" y="900.63" width="24.56" height="24.56" fill="#cbe9f2"/><rect x="184.59" y="900.63" width="24.56" height="24.56" fill="#85bbd9"/><rect x="211.25" y="900.63" width="24.56" height="24.56" fill="#f7fcce"/><rect x="237.91" y="900.63" width="24.56" height="24.56" fill="#fb9d59"/><rect x="264.57" y="900.63" width="24.56" height="24.56" fill="#fed081"/><rect x="291.23" y="900.63" width="24.56" height="24.56" fill="#f7814c"/><rect x="317.89" y="900.63" width="24.56" height="24.56" fill="#fede8e"/><rect x="344.55" y="900.63" width="24.56" height="24.56" fill="#fed081"/><rect x="371.21" y="900.63" width="24.56" height="24.56" fill="#cbe9f2"/><rect x="397.87" y="900.63" width="24.56" height="24.56" fill="#588cc0"/><rect x="424.53" y="900.63" width="24.56" height="24.56" fill="#313695"/><rect x="451.19" y="900.63" width="24.56" height="24.56" fill="#f0f9db"/><rect x="477.85" y="900.63" width="24.56" height="24.56" fill="#fafdc9"/><rect x="504.51" y="900.63" width="24.56" height="24.56" fill="#feeda4"/><rect x="531.17" y="900.63" width="24.56" height="24.56" fill="#fff1aa"/><rect x="557.83" y="900.63" width="24.56" height="24.56" fill="#fff0a8"/><rect x="77.95" y="927.29" width="24.56" height="24.56" fill="#fff0a8"/><rect x="104.61" y="927.29" width="24.56" height="24.56" fill="#fb9d59"/><rect x="131.27" y="927.29" width="24.56" height="24.56" fill="#fed889"/><rect x="157.93" y="927.29" width="24.56" height="24.56" fill="#fedc8c"/><rect x="184.59" y="927.29" width="24.56" height="24.56" fill="#fff1aa"/><rect x="211.25" y="927.29" width="24.56" height="24.56" fill="#def2f7"/><rect x="237.91" y="927.29" width="24.56" height="24.56" fill="#fffebe"/><rect x="264.57" y="927.29" width="24.56" height="24.56" fill="#e9f6e8"/><rect x="291.23" y="927.29" width="24.56" height="24.56" fill="#fff5af"/><rect x="317.89" y="927.29" width="24.56" height="24.56" fill="#d8eff6"/><rect x="344.55" y="927.29" width="24.56" height="24.56" fill="#d6eef5"/><rect x="371.21" y="927.29" width="24.56" height="24.56" fill="#d4edf4"/><rect x="397.87" y="927.29" width="24.56" height="24.56" fill="#fdc173"/><rect x="424.53" y="927.29" width="24.56" height="24.56" fill="#f0f9db"/><rect x="451.19" y="927.29" width="24.56" height="24.56" fill="#313695"/><rect x="477.85" y="927.29" width="24.56" height="24.56" fill="#4b7db8"/><rect x="504.51" y="927.29" width="24.56" height="24.56" fill="#fffbb9"/><rect x="531.17" y="927.29" width="24.56" height="24.56" fill="#fee090"/><rect x="557.83" y="927.29" width="24.56" height="24.56" fill="#fece7f"/><rect x="77.95" y="953.95" width="24.56" height="24.56" fill="#fff2ac"/><rect x="104.61" y="953.95" width="24.56" height="24.56" fill="#fdc576"/><rect x="131.27" y="953.95" width="24.56" height="24.56" fill="#feeba1"/><rect x="157.93" y="953.95" width="24.56" height="24.56" fill="#fed485"/><rect x="184.59" y="953.95" width="24.56" height="24.56" fill="#fed485"/><rect x="211.25" y="953.95" width="24.56" height="24.56" fill="#f2fad6"/><rect x="237.91" y="953.95" width="24.56" height="24.56" fill="#fff2ac"/><rect x="264.57" y="953.95" width="24.56" height="24.56" fill="#fffebe"/><rect x="291.23" y="953.95" width="24.56" height="24.56" fill="#fffebe"/><rect x="317.89" y="953.95" width="24.56" height="24.56" fill="#e0f3f8"/><rect x="344.55" y="953.95" width="24.56" height="24.56" fill="#fffebe"/><rect x="371.21" y="953.95" width="24.56" height="24.56" fill="#e0f3f8"/><rect x="397.87" y="953.95" width="24.56" height="24.56" fill="#fdaf62"/><rect x="424.53" y="953.95" width="24.56" height="24.56" fill="#fafdc9"/><rect x="451.19" y="953.95" width="24.56" height="24.56" fill="#4b7db8"/><rect x="477.85" y="953.95" width="24.56" height="24.56" fill="#313695"/><rect x="504.51" y="953.95" width="24.56" height="24.56" fill="#fed081"/><rect x="531.17" y="953.95" width="24.56" height="24.56" fill="#fcaa5f"/><rect x="557.83" y="953.95" width="24.56" height="24.56" fill="#fec87a"/><rect x="77.95" y="980.61" width="24.56" height="24.56" fill="#fecc7e"/><rect x="104.61" y="980.61" width="24.56" height="24.56" fill="#fede8e"/><rect x="131.27" y="980.61" width="24.56" height="24.56" fill="#fec87a"/><rect x="157.93" y="980.61" width="24.56" height="24.56" fill="#d8eff6"/><rect x="184.59" y="980.61" width="24.56" height="24.56" fill="#9dcee3"/><rect x="211.25" y="980.61" width="24.56" height="24.56" fill="#e9f6e8"/><rect x="237.91" y="980.61" width="24.56" height="24.56" fill="#feeca2"/><rect x="264.57" y="980.61" width="24.56" height="24.56" fill="#5183bb"/><rect x="291.23" y="980.61" width="24.56" height="24.56" fill="#fecc7e"/><rect x="317.89" y="980.61" width="24.56" height="24.56" fill="#fee79b"/><rect x="344.55" y="980.61" width="24.56" height="24.56" fill="#fff1aa"/><rect x="371.21" y="980.61" width="24.56" height="24.56" fill="#f5fbd2"/><rect x="397.87" y="980.61" width="24.56" height="24.56" fill="#fee496"/><rect x="424.53" y="980.61" width="24.56" height="24.56" fill="#feeda4"/><rect x="451.19" y="980.61" width="24.56" height="24.56" fill="#fffbb9"/><rect x="477.85" y="980.61" width="24.56" height="24.56" fill="#fed081"/><rect x="504.51" y="980.61" width="24.56" height="24.56" fill="#313695"/><rect x="531.17" y="980.61" width="24.56" height="24.56" fill="#e4f4f1"/><rect x="557.83" y="980.61" width="24.56" height="24.56" fill="#fff1aa"/><rect x="77.95" y="1007.27" width="24.56" height="24.56" fill="#e0f3f8"/><rect x="104.61" y="1007.27" width="24.56" height="24.56" fill="#fee496"/><rect x="131.27" y="1007.27" width="24.56" height="24.56" fill="#fb9d59"/><rect x="157.93" y="1007.27" width="24.56" height="24.56" fill="#fedc8c"/><rect x="184.59" y="1007.27" width="24.56" height="24.56" fill="#aedbea"/><rect x="211.25" y="1007.27" width="24.56" height="24.56" fill="#dcf1f7"/><rect x="237.91" y="1007.27" width="24.56" height="24.56" fill="#d6eef5"/><rect x="264.57" y="1007.27" width="24.56" height="24.56" fill="#d4edf4"/><rect x="291.23" y="1007.27" width="24.56" height="24.56" fill="#f88950"/><rect x="317.89" y="1007.27" width="24.56" height="24.56" fill="#fffebe"/><rect x="344.55" y="1007.27" width="24.56" height="24.56" fill="#fffebe"/><rect x="371.21" y="1007.27" width="24.56" height="24.56" fill="#f1fad9"/><rect x="397.87" y="1007.27" width="24.56" height="24.56" fill="#d4edf4"/><rect x="424.53" y="1007.27" width="24.56" height="24.56" fill="#fff1aa"/><rect x="451.19" y="1007.27" width="24.56" height="24.56" fill="#fee090"/><rect x="477.85" y="1007.27" width="24.56" height="24.56" fill="#fcaa5f"/><rect x="504.51" y="1007.27" width="24.56" height="24.56" fill="#e4f4f1"/><rect x="531.17" y="1007.27" width="24.56" height="24.56" fill="#313695"/><rect x="557.83" y="1007.27" width="24.56" height="24.56" fill="#fed889"/><rect x="77.95" y="1033.93" width="24.56" height="24.56" fill="#fee99d"/><rect x="104.61" y="1033.93" width="24.56" height="24.56" fill="#fafdc9"/><rect x="131.27" y="1033.93" width="24.56" height="24.56" fill="#f6fbd0"/><rect x="157.93" y="1033.93" width="24.56" height="24.56" fill="#fcfec5"/><rect x="184.59" y="1033.93" width="24.56" height="24.56" fill="#fee496"/><rect x="211.25" y="1033.93" width="24.56" height="24.56" fill="#fee699"/><rect x="237.91" y="1033.93" width="24.56" height="24.56" fill="#feeca2"/><rect x="264.57" y="1033.93" width="24.56" height="24.56" fill="#feeba1"/><rect x="291.23" y="1033.93" width="24.56" height="24.56" fill="#f5fbd2"/><rect x="317.89" y="1033.93" width="24.56" height="24.56" fill="#fee79b"/><rect x="344.55" y="1033.93" width="24.56" height="24.56" fill="#f6fbd0"/><rect x="371.21" y="1033.93" width="24.56" height="24.56" fill="#fee99d"/><rect x="397.87" y="1033.93" width="24.56" height="24.56" fill="#feeda4"/><rect x="424.53" y="1033.93" width="24.56" height="24.56" fill="#fff0a8"/><rect x="451.19" y="1033.93" width="24.56" height="24.56" fill="#fece7f"/><rect x="477.85" y="1033.93" width="24.56" height="24.56" fill="#fec87a"/><rect x="504.51" y="1033.93" width="24.56" height="24.56" fill="#fff1aa"/><rect x="531.17" y="1033.93" width="24.56" height="24.56" fill="#fed889"/><rect x="557.83" y="1033.93" width="24.56" height="24.56" fill="#313695"/></g>
<g font-family="Liberation Sans, sans-serif" font-weight="bold" font-size="10.3"><text transform="translate(81.06,569.33) scale(0.932,1)" x="0.00 5.10 8.15 14.16" fill="#ffffff"> .00</text><path d="M478 0V1170L140 959V1180L493 1409H759V0Z" transform="translate(81.06,569.33) scale(0.004687,-0.005029)" fill="#ffffff"/><text transform="translate(106.12,569.33) scale(0.932,1)" x="0.00 3.43 8.53 11.59 17.60" fill="#ffffff">-0.65</text><text transform="translate(132.78,569.33) scale(0.932,1)" x="0.00 3.43 8.53 11.59 17.60" fill="#ffffff">-0.7 </text><path d="M478 0V1170L140 959V1180L493 1409H759V0Z" transform="translate(149.18,569.33) scale(0.004687,-0.005029)" fill="#ffffff"/><text transform="translate(159.44,569.33) scale(0.932,1)" x="0.00 3.43 8.53 11.59 17.60" fill="#262626">-0.25</text><text transform="translate(187.70,569.33) scale(0.932,1)" x="0.00 5.10 8.15 14.16" fill="#ffffff">0.73</text><text transform="translate(214.36,569.33) scale(0.932,1)" x="0.00 5.10 8.15 14.16" fill="#262626">0.54</text><text transform="translate(239.42,569.33) scale(0.932,1)" x="0.00 3.43 8.53 11.59 17.60" fill="#262626">-0.24</text><text transform="translate(266.08,569.33) scale(0.932,1)" x="0.00 3.43 8.53 11.59 17.60" fill="#262626">-0.08</text><text transform="translate(292.74,569.33) scale(0.932,1)" x="0.00 3.43 8.53 11.59 17.60" fill="#ffffff">-0.80</text><text transform="translate(321.00,569.33) scale(0.932,1)" x="0.00 5.10 8.15 14.16" fill="#262626">0.34</text><text transform="translate(346.06,569.33) scale(0.932,1)" x="0.00 3.43 8.53 11.59 17.60" fill="#262626">-0.30</text><text transform="translate(374.32,569.33) scale(0.932,1)" x="0.00 5.10 8.15 14.16" fill="#262626">0.52</text><text transform="translate(400.98,569.33) scale(0.932,1)" x="0.00 5.10 8.15 14.16" fill="#ffffff">0.85</text><text transform="translate(427.64,569.33) scale(0.932,1)" x="0.00 5.10 8.15 14.16" fill="#ffffff">0.70</text><text transform="translate(452.70,569.33) scale(0.932,1)" x="0.00 3.43 8.53 11.59 17.60" fill="#262626">-0.04</text><text transform="translate(479.36,569.33) scale(0.932,1)" x="0.00 3.43 8.53 11.59 17.60" fill="#262626">-0.02</text><text transform="translate(506.02,569.33) scale(0.932,1)" x="0.00 3.43 8.53 11.59 17.60" fill="#262626">-0.2 </text><path d="M478 0V1170L140 959V1180L493 1409H759V0Z" transform="translate(522.42,569.33) scale(0.004687,-0.005029)" fill="#262626"/><text transform="translate(534.28,569.33) scale(0.932,1)" x="0.00 5.10 8.15 14.16" fill="#262626">0.24</text><text transform="translate(559.34,569.33) scale(0.932,1)" x="0.00 3.43 8.53 11.59 17.60" fill="#262626">-0.08</text><text transform="translate(79.46,595.99) scale(0.932,1)" x="0.00 3.43 8.53 11.59 17.60" fill="#ffffff">-0.65</text><text transform="translate(107.72,595.99) scale(0.932,1)" x="0.00 5.10 8.15 14.16" fill="#ffffff"> .00</text><path d="M478 0V1170L140 959V1180L493 1409H759V0Z" transform="translate(107.72,595.99) scale(0.004687,-0.005029)" fill="#ffffff"/><text transform="translate(134.38,595.99) scale(0.932,1)" x="0.00 5.10 8.15 14.16" fill="#ffffff">0.79</text><text transform="translate(161.04,595.99) scale(0.932,1)" x="0.00 5.10 8.15 14.16" fill="#262626">0.47</text><text transform="translate(186.10,595.99) scale(0.932,1)" x="0.00 3.43 8.53 11.59 17.60" fill="#ffffff">-0.6 </text><path d="M478 0V1170L140 959V1180L493 1409H759V0Z" transform="translate(202.50,595.99) scale(0.004687,-0.005029)" fill="#ffffff"/><text transform="translate(212.76,595.99) scale(0.932,1)" x="0.00 3.43 8.53 11.59 17.60" fill="#ffffff">-0.87</text><text transform="translate(241.02,595.99) scale(0.932,1)" x="0.00 5.10 8.15 14.16" fill="#262626">0.45</text><text transform="translate(266.08,595.99) scale(0.932,1)" x="0.00 3.43 8.53 11.59 17.60" fill="#262626">-0.3 </text><path d="M478 0V1170L140 959V1180L493 1409H759V0Z" transform="translate(282.48,595.99) scale(0.004687,-0.005029)" fill="#262626"/><text transform="translate(294.34,595.99) scale(0.932,1)" x="0.00 5.10 8.15 14.16" fill="#ffffff">0.67</text><text transform="translate(319.40,595.99) scale(0.932,1)" x="0.00 3.43 8.53 11.59 17.60" fill="#ffffff">-0.7 </text><path d="M478 0V1170L140 959V1180L493 1409H759V0Z" transform="translate(335.80,595.99) scale(0.004687,-0.005029)" fill="#ffffff"/><text transform="translate(347.66,595.99) scale(0.932,1)" x="0.00 5.10 8.15 14.16" fill="#262626">0.33</text><text transform="translate(372.72,595.99) scale(0.932,1)" x="0.00 3.43 8.53 11.59 17.60" fill="#ffffff">-0.73</text><text transform="translate(399.38,595.99) scale(0.932,1)" x="0.00 3.43 8.53 11.59 17.60" fill="#262626">-0.37</text><text transform="translate(426.04,595.99) scale(0.932,1)" x="0.00 3.43 8.53 11.59 17.60" fill="#ffffff">-0.42</text><text transform="translate(452.70,595.99) scale(0.932,1)" x="0.00 3.43 8.53 11.59 17.60" fill="#262626">-0.37</text><text transform="translate(479.36,595.99) scale(0.932,1)" x="0.00 3.43 8.53 11.59 17.60" fill="#262626">-0.24</text><text transform="translate(506.02,595.99) scale(0.932,1)" x="0.00 3.43 8.53 11.59 17.60" fill="#262626">-0. 4</text><path d="M478 0V1170L140 959V1180L493 1409H759V0Z" transform="translate(516.82,595.99) scale(0.004687,-0.005029)" fill="#262626"/><text transform="translate(532.68,595.99) scale(0.932,1)" x="0.00 3.43 8.53 11.59 17.60" fill="#262626">-0.  </text><path d="M478 0V1170L140 959V1180L493 1409H759V0Z" transform="translate(543.48,595.99) scale(0.004687,-0.005029)" fill="#262626"/><path d="M478 0V1170L140 959V1180L493 1409H759V0Z" transform="translate(549.08,595.99) scale(0.004687,-0.005029)" fill="#262626"/><text transform="translate(560.94,595.99) scale(0.932,1)" x="0.00 5.10 8.15 14.16" fill="#262626">0.09</text><text transform="translate(79.46,622.65) scale(0.932,1)" x="0.00 3.43 8.53 11.59 17.60" fill="#ffffff">-0.7 </text><path d="M478 0V1170L140 959V1180L493 1409H759V0Z" transform="translate(95.86,622.65) scale(0.004687,-0.005029)" fill="#ffffff"/><text transform="translate(107.72,622.65) scale(0.932,1)" x="0.00 5.10 8.15 14.16" fill="#ffffff">0.79</text><text transform="translate(134.38,622.65) scale(0.932,1)" x="0.00 5.10 8.15 14.16" fill="#ffffff"> .00</text><path d="M478 0V1170L140 959V1180L493 1409H759V0Z" transform="translate(134.38,622.65) scale(0.004687,-0.005029)" fill="#ffffff"/><text transform="translate(161.04,622.65) scale(0.932,1)" x="0.00 5.10 8.15 14.16" fill="#262626">0.55</text><text transform="translate(186.10,622.65) scale(0.932,1)" x="0.00 3.43 8.53 11.59 17.60" fill="#ffffff">-0.79</text><text transform="translate(212.76,622.65) scale(0.932,1)" x="0.00 3.43 8.53 11.59 17.60" fill="#ffffff">-0.89</text><text transform="translate(239.42,622.65) scale(0.932,1)" x="0.00 3.43 8.53 11.59 17.60" fill="#262626">-0.06</text><text transform="translate(266.08,622.65) scale(0.932,1)" x="0.00 3.43 8.53 11.59 17.60" fill="#ffffff">-0.58</text><text transform="translate(294.34,622.65) scale(0.932,1)" x="0.00 5.10 8.15 14.16" fill="#ffffff">0.96</text><text transform="translate(319.40,622.65) scale(0.932,1)" x="0.00 3.43 8.53 11.59 17.60" fill="#ffffff">-0.64</text><text transform="translate(347.66,622.65) scale(0.932,1)" x="0.00 5.10 8.15 14.16" fill="#262626">0. 9</text><path d="M478 0V1170L140 959V1180L493 1409H759V0Z" transform="translate(355.26,622.65) scale(0.004687,-0.005029)" fill="#262626"/><text transform="translate(372.72,622.65) scale(0.932,1)" x="0.00 3.43 8.53 11.59 17.60" fill="#ffffff">-0.82</text><text transform="translate(399.38,622.65) scale(0.932,1)" x="0.00 3.43 8.53 11.59 17.60" fill="#ffffff">-0.49</text><text transform="translate(426.04,622.65) scale(0.932,1)" x="0.00 3.43 8.53 11.59 17.60" fill="#262626">-0.3 </text><path d="M478 0V1170L140 959V1180L493 1409H759V0Z" transform="translate(442.44,622.65) scale(0.004687,-0.005029)" fill="#262626"/><text transform="translate(452.70,622.65) scale(0.932,1)" x="0.00 3.43 8.53 11.59 17.60" fill="#262626">-0. 6</text><path d="M478 0V1170L140 959V1180L493 1409H759V0Z" transform="translate(463.50,622.65) scale(0.004687,-0.005029)" fill="#262626"/><text transform="translate(479.36,622.65) scale(0.932,1)" x="0.00 3.43 8.53 11.59 17.60" fill="#262626">-0.07</text><text transform="translate(506.02,622.65) scale(0.932,1)" x="0.00 3.43 8.53 11.59 17.60" fill="#262626">-0.22</text><text transform="translate(532.68,622.65) scale(0.932,1)" x="0.00 3.43 8.53 11.59 17.60" fill="#262626">-0.37</text><text transform="translate(560.94,622.65) scale(0.932,1)" x="0.00 5.10 8.15 14.16" fill="#262626">0.  </text><path d="M478 0V1170L140 959V1180L493 1409H759V0Z" transform="translate(568.54,622.65) scale(0.004687,-0.005029)" fill="#262626"/><path d="M478 0V1170L140 959V1180L493 1409H759V0Z" transform="translate(574.14,622.65) scale(0.004687,-0.005029)" fill="#262626"/><text transform="translate(79.46,649.31) scale(0.932,1)" x="0.00 3.43 8.53 11.59 17.60" fill="#262626">-0.25</text><text transform="translate(107.72,649.31) scale(0.932,1)" x="0.00 5.10 8.15 14.16" fill="#262626">0.47</text><text transform="translate(134.38,649.31) scale(0.932,1)" x="0.00 5.10 8.15 14.16" fill="#262626">0.55</text><text transform="translate(161.04,649.31) scale(0.932,1)" x="0.00 5.10 8.15 14.16" fill="#ffffff"> .00</text><path d="M478 0V1170L140 959V1180L493 1409H759V0Z" transform="translate(161.04,649.31) scale(0.004687,-0.005029)" fill="#ffffff"/><text transform="translate(186.10,649.31) scale(0.932,1)" x="0.00 3.43 8.53 11.59 17.60" fill="#262626">-0.05</text><text transform="translate(212.76,649.31) scale(0.932,1)" x="0.00 3.43 8.53 11.59 17.60" fill="#ffffff">-0.76</text><text transform="translate(239.42,649.31) scale(0.932,1)" x="0.00 3.43 8.53 11.59 17.60" fill="#262626">-0. 8</text><path d="M478 0V1170L140 959V1180L493 1409H759V0Z" transform="translate(250.22,649.31) scale(0.004687,-0.005029)" fill="#262626"/><text transform="translate(266.08,649.31) scale(0.932,1)" x="0.00 3.43 8.53 11.59 17.60" fill="#262626">-0. 8</text><path d="M478 0V1170L140 959V1180L493 1409H759V0Z" transform="translate(276.88,649.31) scale(0.004687,-0.005029)" fill="#262626"/><text transform="translate(294.34,649.31) scale(0.932,1)" x="0.00 5.10 8.15 14.16" fill="#262626">0.37</text><text transform="translate(319.40,649.31) scale(0.932,1)" x="0.00 3.43 8.53 11.59 17.60" fill="#ffffff">-0.89</text><text transform="translate(346.06,649.31) scale(0.932,1)" x="0.00 3.43 8.53 11.59 17.60" fill="#262626">-0.0 </text><path d="M478 0V1170L140 959V1180L493 1409H759V0Z" transform="translate(362.46,649.31) scale(0.004687,-0.005029)" fill="#262626"/><text transform="translate(372.72,649.31) scale(0.932,1)" x="0.00 3.43 8.53 11.59 17.60" fill="#ffffff">-0.57</text><text transform="translate(400.98,649.31) scale(0.932,1)" x="0.00 5.10 8.15 14.16" fill="#262626">0.04</text><text transform="translate(427.64,649.31) scale(0.932,1)" x="0.00 5.10 8.15 14.16" fill="#262626">0.32</text><text transform="translate(452.70,649.31) scale(0.932,1)" x="0.00 3.43 8.53 11.59 17.60" fill="#262626">-0. 5</text><path d="M478 0V1170L140 959V1180L493 1409H759V0Z" transform="translate(463.50,649.31) scale(0.004687,-0.005029)" fill="#262626"/><text transform="translate(479.36,649.31) scale(0.932,1)" x="0.00 3.43 8.53 11.59 17.60" fill="#262626">-0. 8</text><path d="M478 0V1170L140 959V1180L493 1409H759V0Z" transform="translate(490.16,649.31) scale(0.004687,-0.005029)" fill="#262626"/><text transform="translate(507.62,649.31) scale(0.932,1)" x="0.00 5.10 8.15 14.16" fill="#262626">0.27</text><text transform="translate(532.68,649.31) scale(0.932,1)" x="0.00 3.43 8.53 11.59 17.60" fill="#262626">-0. 5</text><path d="M478 0V1170L140 959V1180L493 1409H759V0Z" transform="translate(543.48,649.31) scale(0.004687,-0.005029)" fill="#262626"/><text transform="translate(560.94,649.31) scale(0.932,1)" x="0.00 5.10 8.15 14.16" fill="#262626">0.07</text><text transform="translate(81.06,675.97) scale(0.932,1)" x="0.00 5.10 8.15 14.16" fill="#ffffff">0.73</text><text transform="translate(106.12,675.97) scale(0.932,1)" x="0.00 3.43 8.53 11.59 17.60" fill="#ffffff">-0.6 </text><path d="M478 0V1170L140 959V1180L493 1409H759V0Z" transform="translate(122.52,675.97) scale(0.004687,-0.005029)" fill="#ffffff"/><text transform="translate(132.78,675.97) scale(0.932,1)" x="0.00 3.43 8.53 11.59 17.60" fill="#ffffff">-0.79</text><text transform="translate(159.44,675.97) scale(0.932,1)" x="0.00 3.43 8.53 11.59 17.60" fill="#262626">-0.05</text><text transform="translate(187.70,675.97) scale(0.932,1)" x="0.00 5.10 8.15 14.16" fill="#ffffff"> .00</text><path d="M478 0V1170L140 959V1180L493 1409H759V0Z" transform="translate(187.70,675.97) scale(0.004687,-0.005029)" fill="#ffffff"/><text transform="translate(214.36,675.97) scale(0.932,1)" x="0.00 5.10 8.15 14.16" fill="#262626">0.59</text><text transform="translate(239.42,675.97) scale(0.932,1)" x="0.00 3.43 8.53 11.59 17.60" fill="#262626">-0. 3</text><path d="M478 0V1170L140 959V1180L493 1409H759V0Z" transform="translate(250.22,675.97) scale(0.004687,-0.005029)" fill="#262626"/><text transform="translate(267.68,675.97) scale(0.932,1)" x="0.00 5.10 8.15 14.16" fill="#262626">0.46</text><text transform="translate(292.74,675.97) scale(0.932,1)" x="0.00 3.43 8.53 11.59 17.60" fill="#ffffff">-0.88</text><text transform="translate(321.00,675.97) scale(0.932,1)" x="0.00 5.10 8.15 14.16" fill="#262626">0.24</text><text transform="translate(346.06,675.97) scale(0.932,1)" x="0.00 3.43 8.53 11.59 17.60" fill="#262626">-0.25</text><text transform="translate(374.32,675.97) scale(0.932,1)" x="0.00 5.10 8.15 14.16" fill="#262626">0.54</text><text transform="translate(400.98,675.97) scale(0.932,1)" x="0.00 5.10 8.15 14.16" fill="#ffffff">0.7 </text><path d="M478 0V1170L140 959V1180L493 1409H759V0Z" transform="translate(414.18,675.97) scale(0.004687,-0.005029)" fill="#ffffff"/><text transform="translate(427.64,675.97) scale(0.932,1)" x="0.00 5.10 8.15 14.16" fill="#262626">0.56</text><text transform="translate(452.70,675.97) scale(0.932,1)" x="0.00 3.43 8.53 11.59 17.60" fill="#262626">-0.03</text><text transform="translate(479.36,675.97) scale(0.932,1)" x="0.00 3.43 8.53 11.59 17.60" fill="#262626">-0. 8</text><path d="M478 0V1170L140 959V1180L493 1409H759V0Z" transform="translate(490.16,675.97) scale(0.004687,-0.005029)" fill="#262626"/><text transform="translate(507.62,675.97) scale(0.932,1)" x="0.00 5.10 8.15 14.16" fill="#262626">0.48</text><text transform="translate(534.28,675.97) scale(0.932,1)" x="0.00 5.10 8.15 14.16" fill="#262626">0.42</text><text transform="translate(559.34,675.97) scale(0.932,1)" x="0.00 3.43 8.53 11.59 17.60" fill="#262626">-0.  </text><path d="M478 0V1170L140 959V1180L493 1409H759V0Z" transform="translate(570.14,675.97) scale(0.004687,-0.005029)" fill="#262626"/><path d="M478 0V1170L140 959V1180L493 1409H759V0Z" transform="translate(575.74,675.97) scale(0.004687,-0.005029)" fill="#262626"/><text transform="translate(81.06,702.63) scale(0.932,1)" x="0.00 5.10 8.15 14.16" fill="#262626">0.54</text><text transform="translate(106.12,702.63) scale(0.932,1)" x="0.00 3.43 8.53 11.59 17.60" fill="#ffffff">-0.87</text><text transform="translate(132.78,702.63) scale(0.932,1)" x="0.00 3.43 8.53 11.59 17.60" fill="#ffffff">-0.89</text><text transform="translate(159.44,702.63) scale(0.932,1)" x="0.00 3.43 8.53 11.59 17.60" fill="#ffffff">-0.76</text><text transform="translate(187.70,702.63) scale(0.932,1)" x="0.00 5.10 8.15 14.16" fill="#262626">0.59</text><text transform="translate(214.36,702.63) scale(0.932,1)" x="0.00 5.10 8.15 14.16" fill="#ffffff"> .00</text><path d="M478 0V1170L140 959V1180L493 1409H759V0Z" transform="translate(214.36,702.63) scale(0.004687,-0.005029)" fill="#ffffff"/><text transform="translate(239.42,702.63) scale(0.932,1)" x="0.00 3.43 8.53 11.59 17.60" fill="#262626">-0. 2</text><path d="M478 0V1170L140 959V1180L493 1409H759V0Z" transform="translate(250.22,702.63) scale(0.004687,-0.005029)" fill="#262626"/><text transform="translate(267.68,702.63) scale(0.932,1)" x="0.00 5.10 8.15 14.16" fill="#262626">0.50</text><text transform="translate(292.74,702.63) scale(0.932,1)" x="0.00 3.43 8.53 11.59 17.60" fill="#ffffff">-0.74</text><text transform="translate(321.00,702.63) scale(0.932,1)" x="0.00 5.10 8.15 14.16" fill="#ffffff">0.87</text><text transform="translate(346.06,702.63) scale(0.932,1)" x="0.00 3.43 8.53 11.59 17.60" fill="#262626">-0.2 </text><path d="M478 0V1170L140 959V1180L493 1409H759V0Z" transform="translate(362.46,702.63) scale(0.004687,-0.005029)" fill="#262626"/><text transform="translate(374.32,702.63) scale(0.932,1)" x="0.00 5.10 8.15 14.16" fill="#ffffff">0.80</text><text transform="translate(400.98,702.63) scale(0.932,1)" x="0.00 5.10 8.15 14.16" fill="#262626">0.27</text><text transform="translate(427.64,702.63) scale(0.932,1)" x="0.00 5.10 8.15 14.16" fill="#262626">0. 0</text><path d="M478 0V1170L140 959V1180L493 1409H759V0Z" transform="translate(435.24,702.63) scale(0.004687,-0.005029)" fill="#262626"/><text transform="translate(454.30,702.63) scale(0.932,1)" x="0.00 5.10 8.15 14.16" fill="#262626">0.25</text><text transform="translate(480.96,702.63) scale(0.932,1)" x="0.00 5.10 8.15 14.16" fill="#262626">0. 3</text><path d="M478 0V1170L140 959V1180L493 1409H759V0Z" transform="translate(488.56,702.63) scale(0.004687,-0.005029)" fill="#262626"/><text transform="translate(507.62,702.63) scale(0.932,1)" x="0.00 5.10 8.15 14.16" fill="#262626">0. 9</text><path d="M478 0V1170L140 959V1180L493 1409H759V0Z" transform="translate(515.22,702.63) scale(0.004687,-0.005029)" fill="#262626"/><text transform="translate(534.28,702.63) scale(0.932,1)" x="0.00 5.10 8.15 14.16" fill="#262626">0.26</text><text transform="translate(559.34,702.63) scale(0.932,1)" x="0.00 3.43 8.53 11.59 17.60" fill="#262626">-0. 0</text><path d="M478 0V1170L140 959V1180L493 1409H759V0Z" transform="translate(570.14,702.63) scale(0.004687,-0.005029)" fill="#262626"/><text transform="translate(79.46,729.29) scale(0.932,1)" x="0.00 3.43 8.53 11.59 17.60" fill="#262626">-0.24</text><text transform="translate(107.72,729.29) scale(0.932,1)" x="0.00 5.10 8.15 14.16" fill="#262626">0.45</text><text transform="translate(132.78,729.29) scale(0.932,1)" x="0.00 3.43 8.53 11.59 17.60" fill="#262626">-0.06</text><text transform="translate(159.44,729.29) scale(0.932,1)" x="0.00 3.43 8.53 11.59 17.60" fill="#262626">-0. 8</text><path d="M478 0V1170L140 959V1180L493 1409H759V0Z" transform="translate(170.24,729.29) scale(0.004687,-0.005029)" fill="#262626"/><text transform="translate(186.10,729.29) scale(0.932,1)" x="0.00 3.43 8.53 11.59 17.60" fill="#262626">-0. 3</text><path d="M478 0V1170L140 959V1180L493 1409H759V0Z" transform="translate(196.90,729.29) scale(0.004687,-0.005029)" fill="#262626"/><text transform="translate(212.76,729.29) scale(0.932,1)" x="0.00 3.43 8.53 11.59 17.60" fill="#262626">-0. 2</text><path d="M478 0V1170L140 959V1180L493 1409H759V0Z" transform="translate(223.56,729.29) scale(0.004687,-0.005029)" fill="#262626"/><text transform="translate(241.02,729.29) scale(0.932,1)" x="0.00 5.10 8.15 14.16" fill="#ffffff"> .00</text><path d="M478 0V1170L140 959V1180L493 1409H759V0Z" transform="translate(241.02,729.29) scale(0.004687,-0.005029)" fill="#ffffff"/><text transform="translate(267.68,729.29) scale(0.932,1)" x="0.00 5.10 8.15 14.16" fill="#262626">0.30</text><text transform="translate(292.74,729.29) scale(0.932,1)" x="0.00 3.43 8.53 11.59 17.60" fill="#262626">-0.08</text><text transform="translate(319.40,729.29) scale(0.932,1)" x="0.00 3.43 8.53 11.59 17.60" fill="#262626">-0.09</text><text transform="translate(347.66,729.29) scale(0.932,1)" x="0.00 5.10 8.15 14.16" fill="#ffffff">0.65</text><text transform="translate(374.32,729.29) scale(0.932,1)" x="0.00 5.10 8.15 14.16" fill="#262626">0.02</text><text transform="translate(399.38,729.29) scale(0.932,1)" x="0.00 3.43 8.53 11.59 17.60" fill="#262626">-0. 9</text><path d="M478 0V1170L140 959V1180L493 1409H759V0Z" transform="translate(410.18,729.29) scale(0.004687,-0.005029)" fill="#262626"/><text transform="translate(426.04,729.29) scale(0.932,1)" x="0.00 3.43 8.53 11.59 17.60" fill="#262626">-0.37</text><text transform="translate(454.30,729.29) scale(0.932,1)" x="0.00 5.10 8.15 14.16" fill="#262626">0.05</text><text transform="translate(479.36,729.29) scale(0.932,1)" x="0.00 3.43 8.53 11.59 17.60" fill="#262626">-0.02</text><text transform="translate(506.02,729.29) scale(0.932,1)" x="0.00 3.43 8.53 11.59 17.60" fill="#262626">-0.06</text><text transform="translate(534.28,729.29) scale(0.932,1)" x="0.00 5.10 8.15 14.16" fill="#262626">0.28</text><text transform="translate(559.34,729.29) scale(0.932,1)" x="0.00 3.43 8.53 11.59 17.60" fill="#262626">-0.06</text><text transform="translate(79.46,755.95) scale(0.932,1)" x="0.00 3.43 8.53 11.59 17.60" fill="#262626">-0.08</text><text transform="translate(106.12,755.95) scale(0.932,1)" x="0.00 3.43 8.53 11.59 17.60" fill="#262626">-0.3 </text><path d="M478 0V1170L140 959V1180L493 1409H759V0Z" transform="translate(122.52,755.95) scale(0.004687,-0.005029)" fill="#262626"/><text transform="translate(132.78,755.95) scale(0.932,1)" x="0.00 3.43 8.53 11.59 17.60" fill="#ffffff">-0.58</text><text transform="translate(159.44,755.95) scale(0.932,1)" x="0.00 3.43 8.53 11.59 17.60" fill="#262626">-0. 8</text><path d="M478 0V1170L140 959V1180L493 1409H759V0Z" transform="translate(170.24,755.95) scale(0.004687,-0.005029)" fill="#262626"/><text transform="translate(187.70,755.95) scale(0.932,1)" x="0.00 5.10 8.15 14.16" fill="#262626">0.46</text><text transform="translate(214.36,755.95) scale(0.932,1)" x="0.00 5.10 8.15 14.16" fill="#262626">0.50</text><text transform="translate(241.02,755.95) scale(0.932,1)" x="0.00 5.10 8.15 14.16" fill="#262626">0.30</text><text transform="translate(267.68,755.95) scale(0.932,1)" x="0.00 5.10 8.15 14.16" fill="#ffffff"> .00</text><path d="M478 0V1170L140 959V1180L493 1409H759V0Z" transform="translate(267.68,755.95) scale(0.004687,-0.005029)" fill="#ffffff"/><text transform="translate(292.74,755.95) scale(0.932,1)" x="0.00 3.43 8.53 11.59 17.60" fill="#ffffff">-0.49</text><text transform="translate(321.00,755.95) scale(0.932,1)" x="0.00 5.10 8.15 14.16" fill="#262626">0.25</text><text transform="translate(347.66,755.95) scale(0.932,1)" x="0.00 5.10 8.15 14.16" fill="#262626">0.0 </text><path d="M478 0V1170L140 959V1180L493 1409H759V0Z" transform="translate(360.86,755.95) scale(0.004687,-0.005029)" fill="#262626"/><text transform="translate(374.32,755.95) scale(0.932,1)" x="0.00 5.10 8.15 14.16" fill="#262626">0.47</text><text transform="translate(399.38,755.95) scale(0.932,1)" x="0.00 3.43 8.53 11.59 17.60" fill="#262626">-0. 8</text><path d="M478 0V1170L140 959V1180L493 1409H759V0Z" transform="translate(410.18,755.95) scale(0.004687,-0.005029)" fill="#262626"/><text transform="translate(426.04,755.95) scale(0.932,1)" x="0.00 3.43 8.53 11.59 17.60" fill="#262626">-0. 9</text><path d="M478 0V1170L140 959V1180L493 1409H759V0Z" transform="translate(436.84,755.95) scale(0.004687,-0.005029)" fill="#262626"/><text transform="translate(454.30,755.95) scale(0.932,1)" x="0.00 5.10 8.15 14.16" fill="#262626">0. 9</text><path d="M478 0V1170L140 959V1180L493 1409H759V0Z" transform="translate(461.90,755.95) scale(0.004687,-0.005029)" fill="#262626"/><text transform="translate(480.96,755.95) scale(0.932,1)" x="0.00 5.10 8.15 14.16" fill="#262626">0.05</text><text transform="translate(507.62,755.95) scale(0.932,1)" x="0.00 5.10 8.15 14.16" fill="#ffffff">0.76</text><text transform="translate(534.28,755.95) scale(0.932,1)" x="0.00 5.10 8.15 14.16" fill="#262626">0.29</text><text transform="translate(559.34,755.95) scale(0.932,1)" x="0.00 3.43 8.53 11.59 17.60" fill="#262626">-0.07</text><text transform="translate(79.46,782.61) scale(0.932,1)" x="0.00 3.43 8.53 11.59 17.60" fill="#ffffff">-0.80</text><text transform="translate(107.72,782.61) scale(0.932,1)" x="0.00 5.10 8.15 14.16" fill="#ffffff">0.67</text><text transform="translate(134.38,782.61) scale(0.932,1)" x="0.00 5.10 8.15 14.16" fill="#ffffff">0.96</text><text transform="translate(161.04,782.61) scale(0.932,1)" x="0.00 5.10 8.15 14.16" fill="#262626">0.37</text><text transform="translate(186.10,782.61) scale(0.932,1)" x="0.00 3.43 8.53 11.59 17.60" fill="#ffffff">-0.88</text><text transform="translate(212.76,782.61) scale(0.932,1)" x="0.00 3.43 8.53 11.59 17.60" fill="#ffffff">-0.74</text><text transform="translate(239.42,782.61) scale(0.932,1)" x="0.00 3.43 8.53 11.59 17.60" fill="#262626">-0.08</text><text transform="translate(266.08,782.61) scale(0.932,1)" x="0.00 3.43 8.53 11.59 17.60" fill="#ffffff">-0.49</text><text transform="translate(294.34,782.61) scale(0.932,1)" x="0.00 5.10 8.15 14.16" fill="#ffffff"> .00</text><path d="M478 0V1170L140 959V1180L493 1409H759V0Z" transform="translate(294.34,782.61) scale(0.004687,-0.005029)" fill="#ffffff"/><text transform="translate(319.40,782.61) scale(0.932,1)" x="0.00 3.43 8.53 11.59 17.60" fill="#ffffff">-0.45</text><text transform="translate(347.66,782.61) scale(0.932,1)" x="0.00 5.10 8.15 14.16" fill="#262626">0.22</text><text transform="translate(372.72,782.61) scale(0.932,1)" x="0.00 3.43 8.53 11.59 17.60" fill="#ffffff">-0.72</text><text transform="translate(399.38,782.61) scale(0.932,1)" x="0.00 3.43 8.53 11.59 17.60" fill="#ffffff">-0.67</text><text transform="translate(426.04,782.61) scale(0.932,1)" x="0.00 3.43 8.53 11.59 17.60" fill="#ffffff">-0.45</text><text transform="translate(452.70,782.61) scale(0.932,1)" x="0.00 3.43 8.53 11.59 17.60" fill="#262626">-0.0 </text><path d="M478 0V1170L140 959V1180L493 1409H759V0Z" transform="translate(469.10,782.61) scale(0.004687,-0.005029)" fill="#262626"/><text transform="translate(480.96,782.61) scale(0.932,1)" x="0.00 5.10 8.15 14.16" fill="#262626">0.05</text><text transform="translate(506.02,782.61) scale(0.932,1)" x="0.00 3.43 8.53 11.59 17.60" fill="#262626">-0.2 </text><path d="M478 0V1170L140 959V1180L493 1409H759V0Z" transform="translate(522.42,782.61) scale(0.004687,-0.005029)" fill="#262626"/><text transform="translate(532.68,782.61) scale(0.932,1)" x="0.00 3.43 8.53 11.59 17.60" fill="#ffffff">-0.43</text><text transform="translate(560.94,782.61) scale(0.932,1)" x="0.00 5.10 8.15 14.16" fill="#262626">0. 2</text><path d="M478 0V1170L140 959V1180L493 1409H759V0Z" transform="translate(568.54,782.61) scale(0.004687,-0.005029)" fill="#262626"/><text transform="translate(81.06,809.27) scale(0.932,1)" x="0.00 5.10 8.15 14.16" fill="#262626">0.34</text><text transform="translate(106.12,809.27) scale(0.932,1)" x="0.00 3.43 8.53 11.59 17.60" fill="#ffffff">-0.7 </text><path d="M478 0V1170L140 959V1180L493 1409H759V0Z" transform="translate(122.52,809.27) scale(0.004687,-0.005029)" fill="#ffffff"/><text transform="translate(132.78,809.27) scale(0.932,1)" x="0.00 3.43 8.53 11.59 17.60" fill="#ffffff">-0.64</text><text transform="translate(159.44,809.27) scale(0.932,1)" x="0.00 3.43 8.53 11.59 17.60" fill="#ffffff">-0.89</text><text transform="translate(187.70,809.27) scale(0.932,1)" x="0.00 5.10 8.15 14.16" fill="#262626">0.24</text><text transform="translate(214.36,809.27) scale(0.932,1)" x="0.00 5.10 8.15 14.16" fill="#ffffff">0.87</text><text transform="translate(239.42,809.27) scale(0.932,1)" x="0.00 3.43 8.53 11.59 17.60" fill="#262626">-0.09</text><text transform="translate(267.68,809.27) scale(0.932,1)" x="0.00 5.10 8.15 14.16" fill="#262626">0.25</text><text transform="translate(292.74,809.27) scale(0.932,1)" x="0.00 3.43 8.53 11.59 17.60" fill="#ffffff">-0.45</text><text transform="translate(321.00,809.27) scale(0.932,1)" x="0.00 5.10 8.15 14.16" fill="#ffffff"> .00</text><path d="M478 0V1170L140 959V1180L493 1409H759V0Z" transform="translate(321.00,809.27) scale(0.004687,-0.005029)" fill="#ffffff"/><text transform="translate(346.06,809.27) scale(0.932,1)" x="0.00 3.43 8.53 11.59 17.60" fill="#262626">-0. 5</text><path d="M478 0V1170L140 959V1180L493 1409H759V0Z" transform="translate(356.86,809.27) scale(0.004687,-0.005029)" fill="#262626"/><text transform="translate(374.32,809.27) scale(0.932,1)" x="0.00 5.10 8.15 14.16" fill="#ffffff">0.65</text><text transform="translate(400.98,809.27) scale(0.932,1)" x="0.00 5.10 8.15 14.16" fill="#262626">0.03</text><text transform="translate(426.04,809.27) scale(0.932,1)" x="0.00 3.43 8.53 11.59 17.60" fill="#262626">-0. 4</text><path d="M478 0V1170L140 959V1180L493 1409H759V0Z" transform="translate(436.84,809.27) scale(0.004687,-0.005029)" fill="#262626"/><text transform="translate(454.30,809.27) scale(0.932,1)" x="0.00 5.10 8.15 14.16" fill="#262626">0.27</text><text transform="translate(480.96,809.27) scale(0.932,1)" x="0.00 5.10 8.15 14.16" fill="#262626">0.24</text><text transform="translate(506.02,809.27) scale(0.932,1)" x="0.00 3.43 8.53 11.59 17.60" fill="#262626">-0.09</text><text transform="translate(534.28,809.27) scale(0.932,1)" x="0.00 5.10 8.15 14.16" fill="#262626">0.05</text><text transform="translate(559.34,809.27) scale(0.932,1)" x="0.00 3.43 8.53 11.59 17.60" fill="#262626">-0.09</text><text transform="translate(79.46,835.93) scale(0.932,1)" x="0.00 3.43 8.53 11.59 17.60" fill="#262626">-0.30</text><text transform="translate(107.72,835.93) scale(0.932,1)" x="0.00 5.10 8.15 14.16" fill="#262626">0.33</text><text transform="translate(134.38,835.93) scale(0.932,1)" x="0.00 5.10 8.15 14.16" fill="#262626">0. 9</text><path d="M478 0V1170L140 959V1180L493 1409H759V0Z" transform="translate(141.98,835.93) scale(0.004687,-0.005029)" fill="#262626"/><text transform="translate(159.44,835.93) scale(0.932,1)" x="0.00 3.43 8.53 11.59 17.60" fill="#262626">-0.0 </text><path d="M478 0V1170L140 959V1180L493 1409H759V0Z" transform="translate(175.84,835.93) scale(0.004687,-0.005029)" fill="#262626"/><text transform="translate(186.10,835.93) scale(0.932,1)" x="0.00 3.43 8.53 11.59 17.60" fill="#262626">-0.25</text><text transform="translate(212.76,835.93) scale(0.932,1)" x="0.00 3.43 8.53 11.59 17.60" fill="#262626">-0.2 </text><path d="M478 0V1170L140 959V1180L493 1409H759V0Z" transform="translate(229.16,835.93) scale(0.004687,-0.005029)" fill="#262626"/><text transform="translate(241.02,835.93) scale(0.932,1)" x="0.00 5.10 8.15 14.16" fill="#ffffff">0.65</text><text transform="translate(267.68,835.93) scale(0.932,1)" x="0.00 5.10 8.15 14.16" fill="#262626">0.0 </text><path d="M478 0V1170L140 959V1180L493 1409H759V0Z" transform="translate(280.88,835.93) scale(0.004687,-0.005029)" fill="#262626"/><text transform="translate(294.34,835.93) scale(0.932,1)" x="0.00 5.10 8.15 14.16" fill="#262626">0.22</text><text transform="translate(319.40,835.93) scale(0.932,1)" x="0.00 3.43 8.53 11.59 17.60" fill="#262626">-0. 5</text><path d="M478 0V1170L140 959V1180L493 1409H759V0Z" transform="translate(330.20,835.93) scale(0.004687,-0.005029)" fill="#262626"/><text transform="translate(347.66,835.93) scale(0.932,1)" x="0.00 5.10 8.15 14.16" fill="#ffffff"> .00</text><path d="M478 0V1170L140 959V1180L493 1409H759V0Z" transform="translate(347.66,835.93) scale(0.004687,-0.005029)" fill="#ffffff"/><text transform="translate(372.72,835.93) scale(0.932,1)" x="0.00 3.43 8.53 11.59 17.60" fill="#262626">-0. 0</text><path d="M478 0V1170L140 959V1180L493 1409H759V0Z" transform="translate(383.52,835.93) scale(0.004687,-0.005029)" fill="#262626"/><text transform="translate(399.38,835.93) scale(0.932,1)" x="0.00 3.43 8.53 11.59 17.60" fill="#262626">-0.23</text><text transform="translate(426.04,835.93) scale(0.932,1)" x="0.00 3.43 8.53 11.59 17.60" fill="#262626">-0. 9</text><path d="M478 0V1170L140 959V1180L493 1409H759V0Z" transform="translate(436.84,835.93) scale(0.004687,-0.005029)" fill="#262626"/><text transform="translate(454.30,835.93) scale(0.932,1)" x="0.00 5.10 8.15 14.16" fill="#262626">0.28</text><text transform="translate(480.96,835.93) scale(0.932,1)" x="0.00 5.10 8.15 14.16" fill="#262626">0.05</text><text transform="translate(506.02,835.93) scale(0.932,1)" x="0.00 3.43 8.53 11.59 17.60" fill="#262626">-0.03</text><text transform="translate(534.28,835.93) scale(0.932,1)" x="0.00 5.10 8.15 14.16" fill="#262626">0.05</text><text transform="translate(560.94,835.93) scale(0.932,1)" x="0.00 5.10 8.15 14.16" fill="#262626">0.  </text><path d="M478 0V1170L140 959V1180L493 1409H759V0Z" transform="translate(568.54,835.93) scale(0.004687,-0.005029)" fill="#262626"/><path d="M478 0V1170L140 959V1180L493 1409H759V0Z" transform="translate(574.14,835.93) scale(0.004687,-0.005029)" fill="#262626"/><text transform="translate(81.06,862.59) scale(0.932,1)" x="0.00 5.10 8.15 14.16" fill="#262626">0.52</text><text transform="translate(106.12,862.59) scale(0.932,1)" x="0.00 3.43 8.53 11.59 17.60" fill="#ffffff">-0.73</text><text transform="translate(132.78,862.59) scale(0.932,1)" x="0.00 3.43 8.53 11.59 17.60" fill="#ffffff">-0.82</text><text transform="translate(159.44,862.59) scale(0.932,1)" x="0.00 3.43 8.53 11.59 17.60" fill="#ffffff">-0.57</text><text transform="translate(187.70,862.59) scale(0.932,1)" x="0.00 5.10 8.15 14.16" fill="#262626">0.54</text><text transform="translate(214.36,862.59) scale(0.932,1)" x="0.00 5.10 8.15 14.16" fill="#ffffff">0.80</text><text transform="translate(241.02,862.59) scale(0.932,1)" x="0.00 5.10 8.15 14.16" fill="#262626">0.02</text><text transform="translate(267.68,862.59) scale(0.932,1)" x="0.00 5.10 8.15 14.16" fill="#262626">0.47</text><text transform="translate(292.74,862.59) scale(0.932,1)" x="0.00 3.43 8.53 11.59 17.60" fill="#ffffff">-0.72</text><text transform="translate(321.00,862.59) scale(0.932,1)" x="0.00 5.10 8.15 14.16" fill="#ffffff">0.65</text><text transform="translate(346.06,862.59) scale(0.932,1)" x="0.00 3.43 8.53 11.59 17.60" fill="#262626">-0. 0</text><path d="M478 0V1170L140 959V1180L493 1409H759V0Z" transform="translate(356.86,862.59) scale(0.004687,-0.005029)" fill="#262626"/><text transform="translate(374.32,862.59) scale(0.932,1)" x="0.00 5.10 8.15 14.16" fill="#ffffff"> .00</text><path d="M478 0V1170L140 959V1180L493 1409H759V0Z" transform="translate(374.32,862.59) scale(0.004687,-0.005029)" fill="#ffffff"/><text transform="translate(400.98,862.59) scale(0.932,1)" x="0.00 5.10 8.15 14.16" fill="#262626">0.3 </text><path d="M478 0V1170L140 959V1180L493 1409H759V0Z" transform="translate(414.18,862.59) scale(0.004687,-0.005029)" fill="#262626"/><text transform="translate(427.64,862.59) scale(0.932,1)" x="0.00 5.10 8.15 14.16" fill="#262626">0.32</text><text transform="translate(454.30,862.59) scale(0.932,1)" x="0.00 5.10 8.15 14.16" fill="#262626">0.29</text><text transform="translate(480.96,862.59) scale(0.932,1)" x="0.00 5.10 8.15 14.16" fill="#262626">0.24</text><text transform="translate(507.62,862.59) scale(0.932,1)" x="0.00 5.10 8.15 14.16" fill="#262626">0. 2</text><path d="M478 0V1170L140 959V1180L493 1409H759V0Z" transform="translate(515.22,862.59) scale(0.004687,-0.005029)" fill="#262626"/><text transform="translate(534.28,862.59) scale(0.932,1)" x="0.00 5.10 8.15 14.16" fill="#262626">0. 4</text><path d="M478 0V1170L140 959V1180L493 1409H759V0Z" transform="translate(541.88,862.59) scale(0.004687,-0.005029)" fill="#262626"/><text transform="translate(559.34,862.59) scale(0.932,1)" x="0.00 3.43 8.53 11.59 17.60" fill="#262626">-0.08</text><text transform="translate(81.06,889.25) scale(0.932,1)" x="0.00 5.10 8.15 14.16" fill="#ffffff">0.85</text><text transform="translate(106.12,889.25) scale(0.932,1)" x="0.00 3.43 8.53 11.59 17.60" fill="#262626">-0.37</text><text transform="translate(132.78,889.25) scale(0.932,1)" x="0.00 3.43 8.53 11.59 17.60" fill="#ffffff">-0.49</text><text transform="translate(161.04,889.25) scale(0.932,1)" x="0.00 5.10 8.15 14.16" fill="#262626">0.04</text><text transform="translate(187.70,889.25) scale(0.932,1)" x="0.00 5.10 8.15 14.16" fill="#ffffff">0.7 </text><path d="M478 0V1170L140 959V1180L493 1409H759V0Z" transform="translate(200.90,889.25) scale(0.004687,-0.005029)" fill="#ffffff"/><text transform="translate(214.36,889.25) scale(0.932,1)" x="0.00 5.10 8.15 14.16" fill="#262626">0.27</text><text transform="translate(239.42,889.25) scale(0.932,1)" x="0.00 3.43 8.53 11.59 17.60" fill="#262626">-0. 9</text><path d="M478 0V1170L140 959V1180L493 1409H759V0Z" transform="translate(250.22,889.25) scale(0.004687,-0.005029)" fill="#262626"/><text transform="translate(266.08,889.25) scale(0.932,1)" x="0.00 3.43 8.53 11.59 17.60" fill="#262626">-0. 8</text><path d="M478 0V1170L140 959V1180L493 1409H759V0Z" transform="translate(276.88,889.25) scale(0.004687,-0.005029)" fill="#262626"/><text transform="translate(292.74,889.25) scale(0.932,1)" x="0.00 3.43 8.53 11.59 17.60" fill="#ffffff">-0.67</text><text transform="translate(321.00,889.25) scale(0.932,1)" x="0.00 5.10 8.15 14.16" fill="#262626">0.03</text><text transform="translate(346.06,889.25) scale(0.932,1)" x="0.00 3.43 8.53 11.59 17.60" fill="#262626">-0.23</text><text transform="translate(374.32,889.25) scale(0.932,1)" x="0.00 5.10 8.15 14.16" fill="#262626">0.3 </text><path d="M478 0V1170L140 959V1180L493 1409H759V0Z" transform="translate(387.52,889.25) scale(0.004687,-0.005029)" fill="#262626"/><text transform="translate(400.98,889.25) scale(0.932,1)" x="0.00 5.10 8.15 14.16" fill="#ffffff"> .00</text><path d="M478 0V1170L140 959V1180L493 1409H759V0Z" transform="translate(400.98,889.25) scale(0.004687,-0.005029)" fill="#ffffff"/><text transform="translate(427.64,889.25) scale(0.932,1)" x="0.00 5.10 8.15 14.16" fill="#ffffff">0.73</text><text transform="translate(452.70,889.25) scale(0.932,1)" x="0.00 3.43 8.53 11.59 17.60" fill="#262626">-0.25</text><text transform="translate(479.36,889.25) scale(0.932,1)" x="0.00 3.43 8.53 11.59 17.60" fill="#262626">-0.32</text><text transform="translate(506.02,889.25) scale(0.932,1)" x="0.00 3.43 8.53 11.59 17.60" fill="#262626">-0.  </text><path d="M478 0V1170L140 959V1180L493 1409H759V0Z" transform="translate(516.82,889.25) scale(0.004687,-0.005029)" fill="#262626"/><path d="M478 0V1170L140 959V1180L493 1409H759V0Z" transform="translate(522.42,889.25) scale(0.004687,-0.005029)" fill="#262626"/><text transform="translate(534.28,889.25) scale(0.932,1)" x="0.00 5.10 8.15 14.16" fill="#262626">0.29</text><text transform="translate(559.34,889.25) scale(0.932,1)" x="0.00 3.43 8.53 11.59 17.60" fill="#262626">-0.05</text><text transform="translate(81.06,915.91) scale(0.932,1)" x="0.00 5.10 8.15 14.16" fill="#ffffff">0.70</text><text transform="translate(106.12,915.91) scale(0.932,1)" x="0.00 3.43 8.53 11.59 17.60" fill="#ffffff">-0.42</text><text transform="translate(132.78,915.91) scale(0.932,1)" x="0.00 3.43 8.53 11.59 17.60" fill="#262626">-0.3 </text><path d="M478 0V1170L140 959V1180L493 1409H759V0Z" transform="translate(149.18,915.91) scale(0.004687,-0.005029)" fill="#262626"/><text transform="translate(161.04,915.91) scale(0.932,1)" x="0.00 5.10 8.15 14.16" fill="#262626">0.32</text><text transform="translate(187.70,915.91) scale(0.932,1)" x="0.00 5.10 8.15 14.16" fill="#262626">0.56</text><text transform="translate(214.36,915.91) scale(0.932,1)" x="0.00 5.10 8.15 14.16" fill="#262626">0. 0</text><path d="M478 0V1170L140 959V1180L493 1409H759V0Z" transform="translate(221.96,915.91) scale(0.004687,-0.005029)" fill="#262626"/><text transform="translate(239.42,915.91) scale(0.932,1)" x="0.00 3.43 8.53 11.59 17.60" fill="#262626">-0.37</text><text transform="translate(266.08,915.91) scale(0.932,1)" x="0.00 3.43 8.53 11.59 17.60" fill="#262626">-0. 9</text><path d="M478 0V1170L140 959V1180L493 1409H759V0Z" transform="translate(276.88,915.91) scale(0.004687,-0.005029)" fill="#262626"/><text transform="translate(292.74,915.91) scale(0.932,1)" x="0.00 3.43 8.53 11.59 17.60" fill="#ffffff">-0.45</text><text transform="translate(319.40,915.91) scale(0.932,1)" x="0.00 3.43 8.53 11.59 17.60" fill="#262626">-0. 4</text><path d="M478 0V1170L140 959V1180L493 1409H759V0Z" transform="translate(330.20,915.91) scale(0.004687,-0.005029)" fill="#262626"/><text transform="translate(346.06,915.91) scale(0.932,1)" x="0.00 3.43 8.53 11.59 17.60" fill="#262626">-0. 9</text><path d="M478 0V1170L140 959V1180L493 1409H759V0Z" transform="translate(356.86,915.91) scale(0.004687,-0.005029)" fill="#262626"/><text transform="translate(374.32,915.91) scale(0.932,1)" x="0.00 5.10 8.15 14.16" fill="#262626">0.32</text><text transform="translate(400.98,915.91) scale(0.932,1)" x="0.00 5.10 8.15 14.16" fill="#ffffff">0.73</text><text transform="translate(427.64,915.91) scale(0.932,1)" x="0.00 5.10 8.15 14.16" fill="#ffffff"> .00</text><path d="M478 0V1170L140 959V1180L493 1409H759V0Z" transform="translate(427.64,915.91) scale(0.004687,-0.005029)" fill="#ffffff"/><text transform="translate(454.30,915.91) scale(0.932,1)" x="0.00 5.10 8.15 14.16" fill="#262626">0. 5</text><path d="M478 0V1170L140 959V1180L493 1409H759V0Z" transform="translate(461.90,915.91) scale(0.004687,-0.005029)" fill="#262626"/><text transform="translate(480.96,915.91) scale(0.932,1)" x="0.00 5.10 8.15 14.16" fill="#262626">0.09</text><text transform="translate(506.02,915.91) scale(0.932,1)" x="0.00 3.43 8.53 11.59 17.60" fill="#262626">-0.05</text><text transform="translate(532.68,915.91) scale(0.932,1)" x="0.00 3.43 8.53 11.59 17.60" fill="#262626">-0.03</text><text transform="translate(559.34,915.91) scale(0.932,1)" x="0.00 3.43 8.53 11.59 17.60" fill="#262626">-0.04</text><text transform="translate(79.46,942.57) scale(0.932,1)" x="0.00 3.43 8.53 11.59 17.60" fill="#262626">-0.04</text><text transform="translate(106.12,942.57) scale(0.932,1)" x="0.00 3.43 8.53 11.59 17.60" fill="#262626">-0.37</text><text transform="translate(132.78,942.57) scale(0.932,1)" x="0.00 3.43 8.53 11.59 17.60" fill="#262626">-0. 6</text><path d="M478 0V1170L140 959V1180L493 1409H759V0Z" transform="translate(143.58,942.57) scale(0.004687,-0.005029)" fill="#262626"/><text transform="translate(159.44,942.57) scale(0.932,1)" x="0.00 3.43 8.53 11.59 17.60" fill="#262626">-0. 5</text><path d="M478 0V1170L140 959V1180L493 1409H759V0Z" transform="translate(170.24,942.57) scale(0.004687,-0.005029)" fill="#262626"/><text transform="translate(186.10,942.57) scale(0.932,1)" x="0.00 3.43 8.53 11.59 17.60" fill="#262626">-0.03</text><text transform="translate(214.36,942.57) scale(0.932,1)" x="0.00 5.10 8.15 14.16" fill="#262626">0.25</text><text transform="translate(241.02,942.57) scale(0.932,1)" x="0.00 5.10 8.15 14.16" fill="#262626">0.05</text><text transform="translate(267.68,942.57) scale(0.932,1)" x="0.00 5.10 8.15 14.16" fill="#262626">0. 9</text><path d="M478 0V1170L140 959V1180L493 1409H759V0Z" transform="translate(275.28,942.57) scale(0.004687,-0.005029)" fill="#262626"/><text transform="translate(292.74,942.57) scale(0.932,1)" x="0.00 3.43 8.53 11.59 17.60" fill="#262626">-0.0 </text><path d="M478 0V1170L140 959V1180L493 1409H759V0Z" transform="translate(309.14,942.57) scale(0.004687,-0.005029)" fill="#262626"/><text transform="translate(321.00,942.57) scale(0.932,1)" x="0.00 5.10 8.15 14.16" fill="#262626">0.27</text><text transform="translate(347.66,942.57) scale(0.932,1)" x="0.00 5.10 8.15 14.16" fill="#262626">0.28</text><text transform="translate(374.32,942.57) scale(0.932,1)" x="0.00 5.10 8.15 14.16" fill="#262626">0.29</text><text transform="translate(399.38,942.57) scale(0.932,1)" x="0.00 3.43 8.53 11.59 17.60" fill="#262626">-0.25</text><text transform="translate(427.64,942.57) scale(0.932,1)" x="0.00 5.10 8.15 14.16" fill="#262626">0. 5</text><path d="M478 0V1170L140 959V1180L493 1409H759V0Z" transform="translate(435.24,942.57) scale(0.004687,-0.005029)" fill="#262626"/><text transform="translate(454.30,942.57) scale(0.932,1)" x="0.00 5.10 8.15 14.16" fill="#ffffff"> .00</text><path d="M478 0V1170L140 959V1180L493 1409H759V0Z" transform="translate(454.30,942.57) scale(0.004687,-0.005029)" fill="#ffffff"/><text transform="translate(480.96,942.57) scale(0.932,1)" x="0.00 5.10 8.15 14.16" fill="#ffffff">0.78</text><text transform="translate(507.62,942.57) scale(0.932,1)" x="0.00 5.10 8.15 14.16" fill="#262626">0.03</text><text transform="translate(532.68,942.57) scale(0.932,1)" x="0.00 3.43 8.53 11.59 17.60" fill="#262626">-0. 3</text><path d="M478 0V1170L140 959V1180L493 1409H759V0Z" transform="translate(543.48,942.57) scale(0.004687,-0.005029)" fill="#262626"/><text transform="translate(559.34,942.57) scale(0.932,1)" x="0.00 3.43 8.53 11.59 17.60" fill="#262626">-0.20</text><text transform="translate(79.46,969.23) scale(0.932,1)" x="0.00 3.43 8.53 11.59 17.60" fill="#262626">-0.02</text><text transform="translate(106.12,969.23) scale(0.932,1)" x="0.00 3.43 8.53 11.59 17.60" fill="#262626">-0.24</text><text transform="translate(132.78,969.23) scale(0.932,1)" x="0.00 3.43 8.53 11.59 17.60" fill="#262626">-0.07</text><text transform="translate(159.44,969.23) scale(0.932,1)" x="0.00 3.43 8.53 11.59 17.60" fill="#262626">-0. 8</text><path d="M478 0V1170L140 959V1180L493 1409H759V0Z" transform="translate(170.24,969.23) scale(0.004687,-0.005029)" fill="#262626"/><text transform="translate(186.10,969.23) scale(0.932,1)" x="0.00 3.43 8.53 11.59 17.60" fill="#262626">-0. 8</text><path d="M478 0V1170L140 959V1180L493 1409H759V0Z" transform="translate(196.90,969.23) scale(0.004687,-0.005029)" fill="#262626"/><text transform="translate(214.36,969.23) scale(0.932,1)" x="0.00 5.10 8.15 14.16" fill="#262626">0. 3</text><path d="M478 0V1170L140 959V1180L493 1409H759V0Z" transform="translate(221.96,969.23) scale(0.004687,-0.005029)" fill="#262626"/><text transform="translate(239.42,969.23) scale(0.932,1)" x="0.00 3.43 8.53 11.59 17.60" fill="#262626">-0.02</text><text transform="translate(267.68,969.23) scale(0.932,1)" x="0.00 5.10 8.15 14.16" fill="#262626">0.05</text><text transform="translate(294.34,969.23) scale(0.932,1)" x="0.00 5.10 8.15 14.16" fill="#262626">0.05</text><text transform="translate(321.00,969.23) scale(0.932,1)" x="0.00 5.10 8.15 14.16" fill="#262626">0.24</text><text transform="translate(347.66,969.23) scale(0.932,1)" x="0.00 5.10 8.15 14.16" fill="#262626">0.05</text><text transform="translate(374.32,969.23) scale(0.932,1)" x="0.00 5.10 8.15 14.16" fill="#262626">0.24</text><text transform="translate(399.38,969.23) scale(0.932,1)" x="0.00 3.43 8.53 11.59 17.60" fill="#262626">-0.32</text><text transform="translate(427.64,969.23) scale(0.932,1)" x="0.00 5.10 8.15 14.16" fill="#262626">0.09</text><text transform="translate(454.30,969.23) scale(0.932,1)" x="0.00 5.10 8.15 14.16" fill="#ffffff">0.78</text><text transform="translate(480.96,969.23) scale(0.932,1)" x="0.00 5.10 8.15 14.16" fill="#ffffff"> .00</text><path d="M478 0V1170L140 959V1180L493 1409H759V0Z" transform="translate(480.96,969.23) scale(0.004687,-0.005029)" fill="#ffffff"/><text transform="translate(506.02,969.23) scale(0.932,1)" x="0.00 3.43 8.53 11.59 17.60" fill="#262626">-0. 9</text><path d="M478 0V1170L140 959V1180L493 1409H759V0Z" transform="translate(516.82,969.23) scale(0.004687,-0.005029)" fill="#262626"/><text transform="translate(532.68,969.23) scale(0.932,1)" x="0.00 3.43 8.53 11.59 17.60" fill="#262626">-0.33</text><text transform="translate(559.34,969.23) scale(0.932,1)" x="0.00 3.43 8.53 11.59 17.60" fill="#262626">-0.22</text><text transform="translate(79.46,995.89) scale(0.932,1)" x="0.00 3.43 8.53 11.59 17.60" fill="#262626">-0.2 </text><path d="M478 0V1170L140 959V1180L493 1409H759V0Z" transform="translate(95.86,995.89) scale(0.004687,-0.005029)" fill="#262626"/><text transform="translate(106.12,995.89) scale(0.932,1)" x="0.00 3.43 8.53 11.59 17.60" fill="#262626">-0. 4</text><path d="M478 0V1170L140 959V1180L493 1409H759V0Z" transform="translate(116.92,995.89) scale(0.004687,-0.005029)" fill="#262626"/><text transform="translate(132.78,995.89) scale(0.932,1)" x="0.00 3.43 8.53 11.59 17.60" fill="#262626">-0.22</text><text transform="translate(161.04,995.89) scale(0.932,1)" x="0.00 5.10 8.15 14.16" fill="#262626">0.27</text><text transform="translate(187.70,995.89) scale(0.932,1)" x="0.00 5.10 8.15 14.16" fill="#262626">0.48</text><text transform="translate(214.36,995.89) scale(0.932,1)" x="0.00 5.10 8.15 14.16" fill="#262626">0. 9</text><path d="M478 0V1170L140 959V1180L493 1409H759V0Z" transform="translate(221.96,995.89) scale(0.004687,-0.005029)" fill="#262626"/><text transform="translate(239.42,995.89) scale(0.932,1)" x="0.00 3.43 8.53 11.59 17.60" fill="#262626">-0.06</text><text transform="translate(267.68,995.89) scale(0.932,1)" x="0.00 5.10 8.15 14.16" fill="#ffffff">0.76</text><text transform="translate(292.74,995.89) scale(0.932,1)" x="0.00 3.43 8.53 11.59 17.60" fill="#262626">-0.2 </text><path d="M478 0V1170L140 959V1180L493 1409H759V0Z" transform="translate(309.14,995.89) scale(0.004687,-0.005029)" fill="#262626"/><text transform="translate(319.40,995.89) scale(0.932,1)" x="0.00 3.43 8.53 11.59 17.60" fill="#262626">-0.09</text><text transform="translate(346.06,995.89) scale(0.932,1)" x="0.00 3.43 8.53 11.59 17.60" fill="#262626">-0.03</text><text transform="translate(374.32,995.89) scale(0.932,1)" x="0.00 5.10 8.15 14.16" fill="#262626">0. 2</text><path d="M478 0V1170L140 959V1180L493 1409H759V0Z" transform="translate(381.92,995.89) scale(0.004687,-0.005029)" fill="#262626"/><text transform="translate(399.38,995.89) scale(0.932,1)" x="0.00 3.43 8.53 11.59 17.60" fill="#262626">-0.  </text><path d="M478 0V1170L140 959V1180L493 1409H759V0Z" transform="translate(410.18,995.89) scale(0.004687,-0.005029)" fill="#262626"/><path d="M478 0V1170L140 959V1180L493 1409H759V0Z" transform="translate(415.78,995.89) scale(0.004687,-0.005029)" fill="#262626"/><text transform="translate(426.04,995.89) scale(0.932,1)" x="0.00 3.43 8.53 11.59 17.60" fill="#262626">-0.05</text><text transform="translate(454.30,995.89) scale(0.932,1)" x="0.00 5.10 8.15 14.16" fill="#262626">0.03</text><text transform="translate(479.36,995.89) scale(0.932,1)" x="0.00 3.43 8.53 11.59 17.60" fill="#262626">-0. 9</text><path d="M478 0V1170L140 959V1180L493 1409H759V0Z" transform="translate(490.16,995.89) scale(0.004687,-0.005029)" fill="#262626"/><text transform="translate(507.62,995.89) scale(0.932,1)" x="0.00 5.10 8.15 14.16" fill="#ffffff"> .00</text><path d="M478 0V1170L140 959V1180L493 1409H759V0Z" transform="translate(507.62,995.89) scale(0.004687,-0.005029)" fill="#ffffff"/><text transform="translate(534.28,995.89) scale(0.932,1)" x="0.00 5.10 8.15 14.16" fill="#262626">0.22</text><text transform="translate(559.34,995.89) scale(0.932,1)" x="0.00 3.43 8.53 11.59 17.60" fill="#262626">-0.03</text><text transform="translate(81.06,1022.55) scale(0.932,1)" x="0.00 5.10 8.15 14.16" fill="#262626">0.24</text><text transform="translate(106.12,1022.55) scale(0.932,1)" x="0.00 3.43 8.53 11.59 17.60" fill="#262626">-0.  </text><path d="M478 0V1170L140 959V1180L493 1409H759V0Z" transform="translate(116.92,1022.55) scale(0.004687,-0.005029)" fill="#262626"/><path d="M478 0V1170L140 959V1180L493 1409H759V0Z" transform="translate(122.52,1022.55) scale(0.004687,-0.005029)" fill="#262626"/><text transform="translate(132.78,1022.55) scale(0.932,1)" x="0.00 3.43 8.53 11.59 17.60" fill="#262626">-0.37</text><text transform="translate(159.44,1022.55) scale(0.932,1)" x="0.00 3.43 8.53 11.59 17.60" fill="#262626">-0. 5</text><path d="M478 0V1170L140 959V1180L493 1409H759V0Z" transform="translate(170.24,1022.55) scale(0.004687,-0.005029)" fill="#262626"/><text transform="translate(187.70,1022.55) scale(0.932,1)" x="0.00 5.10 8.15 14.16" fill="#262626">0.42</text><text transform="translate(214.36,1022.55) scale(0.932,1)" x="0.00 5.10 8.15 14.16" fill="#262626">0.26</text><text transform="translate(241.02,1022.55) scale(0.932,1)" x="0.00 5.10 8.15 14.16" fill="#262626">0.28</text><text transform="translate(267.68,1022.55) scale(0.932,1)" x="0.00 5.10 8.15 14.16" fill="#262626">0.29</text><text transform="translate(292.74,1022.55) scale(0.932,1)" x="0.00 3.43 8.53 11.59 17.60" fill="#ffffff">-0.43</text><text transform="translate(321.00,1022.55) scale(0.932,1)" x="0.00 5.10 8.15 14.16" fill="#262626">0.05</text><text transform="translate(347.66,1022.55) scale(0.932,1)" x="0.00 5.10 8.15 14.16" fill="#262626">0.05</text><text transform="translate(374.32,1022.55) scale(0.932,1)" x="0.00 5.10 8.15 14.16" fill="#262626">0. 4</text><path d="M478 0V1170L140 959V1180L493 1409H759V0Z" transform="translate(381.92,1022.55) scale(0.004687,-0.005029)" fill="#262626"/><text transform="translate(400.98,1022.55) scale(0.932,1)" x="0.00 5.10 8.15 14.16" fill="#262626">0.29</text><text transform="translate(426.04,1022.55) scale(0.932,1)" x="0.00 3.43 8.53 11.59 17.60" fill="#262626">-0.03</text><text transform="translate(452.70,1022.55) scale(0.932,1)" x="0.00 3.43 8.53 11.59 17.60" fill="#262626">-0. 3</text><path d="M478 0V1170L140 959V1180L493 1409H759V0Z" transform="translate(463.50,1022.55) scale(0.004687,-0.005029)" fill="#262626"/><text transform="translate(479.36,1022.55) scale(0.932,1)" x="0.00 3.43 8.53 11.59 17.60" fill="#262626">-0.33</text><text transform="translate(507.62,1022.55) scale(0.932,1)" x="0.00 5.10 8.15 14.16" fill="#262626">0.22</text><text transform="translate(534.28,1022.55) scale(0.932,1)" x="0.00 5.10 8.15 14.16" fill="#ffffff"> .00</text><path d="M478 0V1170L140 959V1180L493 1409H759V0Z" transform="translate(534.28,1022.55) scale(0.004687,-0.005029)" fill="#ffffff"/><text transform="translate(559.34,1022.55) scale(0.932,1)" x="0.00 3.43 8.53 11.59 17.60" fill="#262626">-0. 6</text><path d="M478 0V1170L140 959V1180L493 1409H759V0Z" transform="translate(570.14,1022.55) scale(0.004687,-0.005029)" fill="#262626"/><text transform="translate(79.46,1049.21) scale(0.932,1)" x="0.00 3.43 8.53 11.59 17.60" fill="#262626">-0.08</text><text transform="translate(107.72,1049.21) scale(0.932,1)" x="0.00 5.10 8.15 14.16" fill="#262626">0.09</text><text transform="translate(134.38,1049.21) scale(0.932,1)" x="0.00 5.10 8.15 14.16" fill="#262626">0.  </text><path d="M478 0V1170L140 959V1180L493 1409H759V0Z" transform="translate(141.98,1049.21) scale(0.004687,-0.005029)" fill="#262626"/><path d="M478 0V1170L140 959V1180L493 1409H759V0Z" transform="translate(147.58,1049.21) scale(0.004687,-0.005029)" fill="#262626"/><text transform="translate(161.04,1049.21) scale(0.932,1)" x="0.00 5.10 8.15 14.16" fill="#262626">0.07</text><text transform="translate(186.10,1049.21) scale(0.932,1)" x="0.00 3.43 8.53 11.59 17.60" fill="#262626">-0.  </text><path d="M478 0V1170L140 959V1180L493 1409H759V0Z" transform="translate(196.90,1049.21) scale(0.004687,-0.005029)" fill="#262626"/><path d="M478 0V1170L140 959V1180L493 1409H759V0Z" transform="translate(202.50,1049.21) scale(0.004687,-0.005029)" fill="#262626"/><text transform="translate(212.76,1049.21) scale(0.932,1)" x="0.00 3.43 8.53 11.59 17.60" fill="#262626">-0. 0</text><path d="M478 0V1170L140 959V1180L493 1409H759V0Z" transform="translate(223.56,1049.21) scale(0.004687,-0.005029)" fill="#262626"/><text transform="translate(239.42,1049.21) scale(0.932,1)" x="0.00 3.43 8.53 11.59 17.60" fill="#262626">-0.06</text><text transform="translate(266.08,1049.21) scale(0.932,1)" x="0.00 3.43 8.53 11.59 17.60" fill="#262626">-0.07</text><text transform="translate(294.34,1049.21) scale(0.932,1)" x="0.00 5.10 8.15 14.16" fill="#262626">0. 2</text><path d="M478 0V1170L140 959V1180L493 1409H759V0Z" transform="translate(301.94,1049.21) scale(0.004687,-0.005029)" fill="#262626"/><text transform="translate(319.40,1049.21) scale(0.932,1)" x="0.00 3.43 8.53 11.59 17.60" fill="#262626">-0.09</text><text transform="translate(347.66,1049.21) scale(0.932,1)" x="0.00 5.10 8.15 14.16" fill="#262626">0.  </text><path d="M478 0V1170L140 959V1180L493 1409H759V0Z" transform="translate(355.26,1049.21) scale(0.004687,-0.005029)" fill="#262626"/><path d="M478 0V1170L140 959V1180L493 1409H759V0Z" transform="translate(360.86,1049.21) scale(0.004687,-0.005029)" fill="#262626"/><text transform="translate(372.72,1049.21) scale(0.932,1)" x="0.00 3.43 8.53 11.59 17.60" fill="#262626">-0.08</text><text transform="translate(399.38,1049.21) scale(0.932,1)" x="0.00 3.43 8.53 11.59 17.60" fill="#262626">-0.05</text><text transform="translate(426.04,1049.21) scale(0.932,1)" x="0.00 3.43 8.53 11.59 17.60" fill="#262626">-0.04</text><text transform="translate(452.70,1049.21) scale(0.932,1)" x="0.00 3.43 8.53 11.59 17.60" fill="#262626">-0.20</text><text transform="translate(479.36,1049.21) scale(0.932,1)" x="0.00 3.43 8.53 11.59 17.60" fill="#262626">-0.22</text><text transform="translate(506.02,1049.21) scale(0.932,1)" x="0.00 3.43 8.53 11.59 17.60" fill="#262626">-0.03</text><text transform="translate(532.68,1049.21) scale(0.932,1)" x="0.00 3.43 8.53 11.59 17.60" fill="#262626">-0. 6</text><path d="M478 0V1170L140 959V1180L493 1409H759V0Z" transform="translate(543.48,1049.21) scale(0.004687,-0.005029)" fill="#262626"/><text transform="translate(560.94,1049.21) scale(0.932,1)" x="0.00 5.10 8.15 14.16" fill="#ffffff"> .00</text><path d="M478 0V1170L140 959V1180L493 1409H759V0Z" transform="translate(560.94,1049.21) scale(0.004687,-0.005029)" fill="#ffffff"/></g>
<g stroke="#3d3d3d" stroke-width="1"><line x1="73.00" y1="566.50" x2="76.90" y2="566.50"/><line x1="89.50" y1="1059.54" x2="89.50" y2="1063.44"/><line x1="73.00" y1="593.50" x2="76.90" y2="593.50"/><line x1="116.50" y1="1059.54" x2="116.50" y2="1063.44"/><line x1="73.00" y1="619.50" x2="76.90" y2="619.50"/><line x1="143.50" y1="1059.54" x2="143.50" y2="1063.44"/><line x1="73.00" y1="646.50" x2="76.90" y2="646.50"/><line x1="169.50" y1="1059.54" x2="169.50" y2="1063.44"/><line x1="73.00" y1="673.50" x2="76.90" y2="673.50"/><line x1="196.50" y1="1059.54" x2="196.50" y2="1063.44"/><line x1="73.00" y1="699.50" x2="76.90" y2="699.50"/><line x1="223.50" y1="1059.54" x2="223.50" y2="1063.44"/><line x1="73.00" y1="726.50" x2="76.90" y2="726.50"/><line x1="249.50" y1="1059.54" x2="249.50" y2="1063.44"/><line x1="73.00" y1="753.50" x2="76.90" y2="753.50"/><line x1="276.50" y1="1059.54" x2="276.50" y2="1063.44"/><line x1="73.00" y1="779.50" x2="76.90" y2="779.50"/><line x1="303.50" y1="1059.54" x2="303.50" y2="1063.44"/><line x1="73.00" y1="806.50" x2="76.90" y2="806.50"/><line x1="329.50" y1="1059.54" x2="329.50" y2="1063.44"/><line x1="73.00" y1="833.50" x2="76.90" y2="833.50"/><line x1="356.50" y1="1059.54" x2="356.50" y2="1063.44"/><line x1="73.00" y1="859.50" x2="76.90" y2="859.50"/><line x1="383.50" y1="1059.54" x2="383.50" y2="1063.44"/><line x1="73.00" y1="886.50" x2="76.90" y2="886.50"/><line x1="409.50" y1="1059.54" x2="409.50" y2="1063.44"/><line x1="73.00" y1="913.50" x2="76.90" y2="913.50"/><line x1="436.50" y1="1059.54" x2="436.50" y2="1063.44"/><line x1="73.00" y1="939.50" x2="76.90" y2="939.50"/><line x1="463.50" y1="1059.54" x2="463.50" y2="1063.44"/><line x1="73.00" y1="966.50" x2="76.90" y2="966.50"/><line x1="489.50" y1="1059.54" x2="489.50" y2="1063.44"/><line x1="73.00" y1="993.50" x2="76.90" y2="993.50"/><line x1="516.50" y1="1059.54" x2="516.50" y2="1063.44"/><line x1="73.00" y1="1019.50" x2="76.90" y2="1019.50"/><line x1="543.50" y1="1059.54" x2="543.50" y2="1063.44"/><line x1="73.00" y1="1046.50" x2="76.90" y2="1046.50"/><line x1="569.50" y1="1059.54" x2="569.50" y2="1063.44"/></g>
<g font-family="Liberation Sans, sans-serif" font-weight="bold" font-size="13.6" text-anchor="middle" fill="#1a1a1a" stroke="#1a1a1a" stroke-width="0.45"><text transform="translate(65.80,568.53) rotate(-90) scale(0.9472794117647059,1)">Ni</text><text transform="translate(90.23,1076.44) scale(0.9472794117647059,1)">Ni</text><text transform="translate(65.80,595.19) rotate(-90) scale(0.7599264705882354,1)">Cr</text><text transform="translate(116.89,1076.44) scale(0.7599264705882354,1)">Cr</text><text transform="translate(65.80,621.85) rotate(-90) scale(0.9004411764705882,1)">Nb</text><text transform="translate(143.55,1076.44) scale(0.9004411764705882,1)">Nb</text><text transform="translate(65.80,648.51) rotate(-90) scale(0.8851470588235295,1)">Mo</text><text transform="translate(170.21,1076.44) scale(0.8851470588235295,1)">Mo</text><text transform="translate(65.80,675.17) rotate(-90) scale(0.8306617647058824,1)">Ti</text><text transform="translate(196.87,1076.44) scale(0.8306617647058824,1)">Ti</text><text transform="translate(65.80,701.83) rotate(-90) scale(0.8058088235294117,1)">Al</text><text transform="translate(223.53,1076.44) scale(0.8058088235294117,1)">Al</text><text transform="translate(65.80,728.49) rotate(-90) scale(0.6977941176470589,1)">C</text><text transform="translate(250.19,1076.44) scale(0.6977941176470589,1)">C</text><text transform="translate(65.80,755.15) rotate(-90) scale(0.76375,1)">Co</text><text transform="translate(276.85,1076.44) scale(0.76375,1)">Co</text><text transform="translate(65.80,781.81) rotate(-90) scale(0.7455882352941177,1)">Fe</text><text transform="translate(303.51,1076.44) scale(0.7455882352941177,1)">Fe</text><text transform="translate(65.80,808.47) rotate(-90) scale(0.9061764705882354,1)">W</text><text transform="translate(330.17,1076.44) scale(0.9061764705882354,1)">W</text><text transform="translate(65.80,835.13) rotate(-90) scale(0.7494117647058823,1)">Si</text><text transform="translate(356.83,1076.44) scale(0.7494117647058823,1)">Si</text><text transform="translate(65.80,861.79) rotate(-90) scale(0.66625,1)">ST</text><text transform="translate(383.49,1076.44) scale(0.66625,1)">ST</text><text transform="translate(65.80,888.45) rotate(-90) scale(0.7780882352941176,1)">STi</text><text transform="translate(410.15,1076.44) scale(0.7780882352941176,1)">STi</text><text transform="translate(65.80,915.11) rotate(-90) scale(0.7685294117647059,1)">AP</text><text transform="translate(436.81,1076.44) scale(0.7685294117647059,1)">AP</text><text transform="translate(65.80,941.77) rotate(-90) scale(0.725514705882353,1)">SR</text><text transform="translate(463.47,1076.44) scale(0.725514705882353,1)">SR</text><text transform="translate(65.80,968.43) rotate(-90) scale(0.7130882352941177,1)">PS</text><text transform="translate(490.13,1076.44) scale(0.7130882352941177,1)">PS</text><text transform="translate(65.80,995.09) rotate(-90) scale(0.7312500000000001,1)">SRa</text><text transform="translate(516.79,1076.44) scale(0.7312500000000001,1)">SRa</text><text transform="translate(65.80,1021.75) rotate(-90) scale(0.644264705882353,1)">ET</text><text transform="translate(543.45,1076.44) scale(0.644264705882353,1)">ET</text><text transform="translate(65.80,1048.41) rotate(-90) scale(0.6958823529411765,1)">LCF</text><text transform="translate(570.11,1076.44) scale(0.6958823529411765,1)">LCF</text></g>
<defs><linearGradient id="gb" x1="0" y1="0" x2="0" y2="1"><stop offset="0.0000" stop-color="#313695"/><stop offset="0.0156" stop-color="#333d99"/><stop offset="0.0312" stop-color="#36479e"/><stop offset="0.0469" stop-color="#3a51a2"/><stop offset="0.0625" stop-color="#3d5ba7"/><stop offset="0.0781" stop-color="#4065ac"/><stop offset="0.0938" stop-color="#436fb1"/><stop offset="0.1094" stop-color="#4878b6"/><stop offset="0.1250" stop-color="#4f81ba"/><stop offset="0.1406" stop-color="#578abf"/><stop offset="0.1562" stop-color="#5e93c3"/><stop offset="0.1719" stop-color="#659bc8"/><stop offset="0.1875" stop-color="#6da4cc"/><stop offset="0.2031" stop-color="#74add1"/><stop offset="0.2188" stop-color="#7db4d5"/><stop offset="0.2344" stop-color="#85bbd9"/><stop offset="0.2500" stop-color="#8ec2dc"/><stop offset="0.2656" stop-color="#97c9e0"/><stop offset="0.2812" stop-color="#9fd0e4"/><stop offset="0.2969" stop-color="#a8d6e8"/><stop offset="0.3125" stop-color="#b0dcea"/><stop offset="0.3281" stop-color="#b9e0ed"/><stop offset="0.3438" stop-color="#c1e4ef"/><stop offset="0.3594" stop-color="#c9e8f2"/><stop offset="0.3750" stop-color="#d1ecf4"/><stop offset="0.3906" stop-color="#daf0f6"/><stop offset="0.4062" stop-color="#e1f3f6"/><stop offset="0.4219" stop-color="#e6f5ed"/><stop offset="0.4375" stop-color="#ebf7e4"/><stop offset="0.4531" stop-color="#f0f9db"/><stop offset="0.4688" stop-color="#f5fbd2"/><stop offset="0.4844" stop-color="#fafdc9"/><stop offset="0.5000" stop-color="#feffc0"/><stop offset="0.5156" stop-color="#fffbb9"/><stop offset="0.5312" stop-color="#fff6b1"/><stop offset="0.5469" stop-color="#fff1aa"/><stop offset="0.5625" stop-color="#feeca2"/><stop offset="0.5781" stop-color="#fee79b"/><stop offset="0.5938" stop-color="#fee294"/><stop offset="0.6094" stop-color="#fedc8c"/><stop offset="0.6250" stop-color="#fed485"/><stop offset="0.6406" stop-color="#fecc7e"/><stop offset="0.6562" stop-color="#fdc576"/><stop offset="0.6719" stop-color="#fdbd6f"/><stop offset="0.6875" stop-color="#fdb567"/><stop offset="0.7031" stop-color="#fdad60"/><stop offset="0.7188" stop-color="#fba35c"/><stop offset="0.7344" stop-color="#fa9857"/><stop offset="0.7500" stop-color="#f98e52"/><stop offset="0.7656" stop-color="#f7844e"/><stop offset="0.7812" stop-color="#f67a49"/><stop offset="0.7969" stop-color="#f47044"/><stop offset="0.8125" stop-color="#f16640"/><stop offset="0.8281" stop-color="#ec5c3b"/><stop offset="0.8438" stop-color="#e75337"/><stop offset="0.8594" stop-color="#e34933"/><stop offset="0.8750" stop-color="#de402e"/><stop offset="0.8906" stop-color="#da362a"/><stop offset="0.9062" stop-color="#d42d27"/><stop offset="0.9219" stop-color="#cc2627"/><stop offset="0.9375" stop-color="#c41e27"/><stop offset="0.9531" stop-color="#bd1726"/><stop offset="0.9688" stop-color="#b50f26"/><stop offset="0.9844" stop-color="#ad0826"/><stop offset="1.0000" stop-color="#a50026"/></linearGradient></defs>
<rect x="620.8" y="553.0" width="25.20" height="506.10" fill="url(#gb)"/>
<g stroke="#505050" stroke-width="1"><line x1="646.00" y1="553.50" x2="649.90" y2="553.50"/><line x1="646.00" y1="620.50" x2="649.90" y2="620.50"/><line x1="646.00" y1="687.50" x2="649.90" y2="687.50"/><line x1="646.00" y1="754.50" x2="649.90" y2="754.50"/><line x1="646.00" y1="821.50" x2="649.90" y2="821.50"/><line x1="646.00" y1="888.50" x2="649.90" y2="888.50"/><line x1="646.00" y1="955.50" x2="649.90" y2="955.50"/><line x1="646.00" y1="1022.50" x2="649.90" y2="1022.50"/></g>
<g font-family="Liberation Sans, sans-serif" font-size="14.6" fill="#262626" stroke="#262626" stroke-width="0.15"><text transform="translate(654.20,557.60) scale(0.74,1)" dx="0 1.00 0.00 1.00"> .00</text><path d="M515 0V1237L197 1010V1180L530 1409H696V0Z" transform="translate(654.20,557.60) scale(0.005275,-0.007129)" vector-effect="non-scaling-stroke"/><text transform="translate(654.20,624.54) scale(0.74,1)" dx="0 1.00 0.00 1.00">0.75</text><text transform="translate(654.20,691.49) scale(0.74,1)" dx="0 1.00 0.00 1.00">0.50</text><text transform="translate(654.20,758.43) scale(0.74,1)" dx="0 1.00 0.00 1.00">0.25</text><text transform="translate(654.20,825.38) scale(0.74,1)" dx="0 1.00 0.00 1.00">0.00</text><text transform="translate(654.70,892.32) scale(0.74,1)" dx="0 0.40 1.00 0.00 1.00">−0.25</text><text transform="translate(654.70,959.27) scale(0.74,1)" dx="0 0.40 1.00 0.00 1.00">−0.50</text><text transform="translate(654.70,1026.21) scale(0.74,1)" dx="0 0.40 1.00 0.00 1.00">−0.75</text></g>
<text x="0.0" y="577.8" font-family="Liberation Serif, serif" font-size="27" letter-spacing="0" fill="#000">(b)</text>
</svg>
</body></html>
